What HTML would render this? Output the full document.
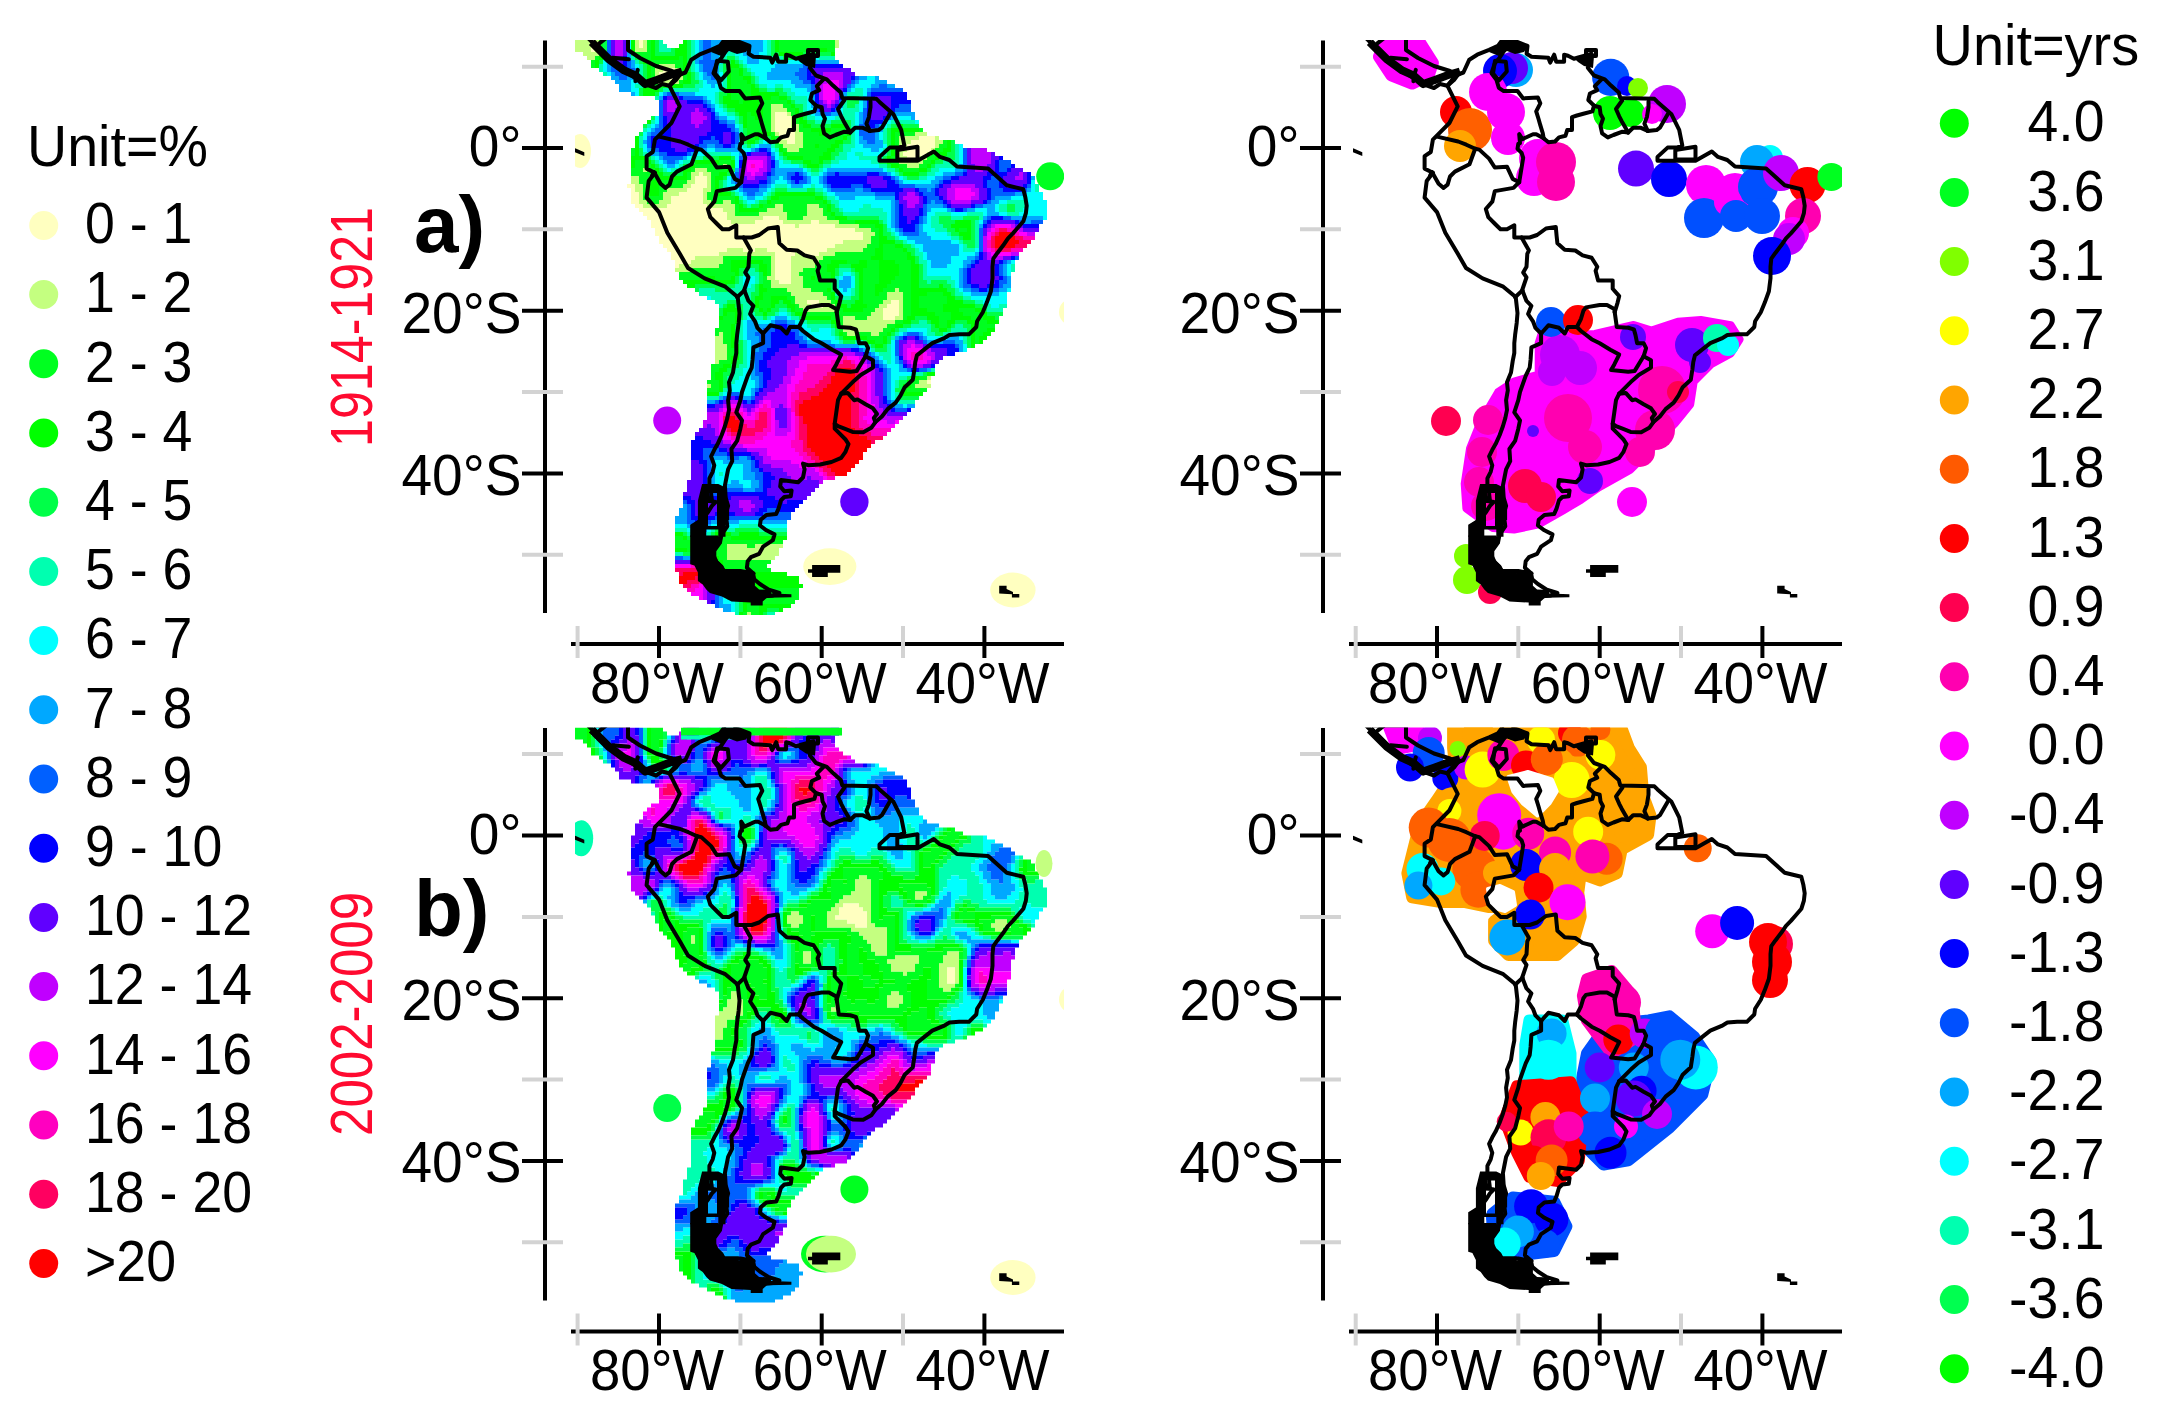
<!DOCTYPE html><html><head><meta charset="utf-8"><title>Figure</title><style>
html,body{margin:0;padding:0;background:#fff;}body{width:2160px;height:1419px;overflow:hidden;}
svg{display:block;} text{font-family:'Liberation Sans', Arial, sans-serif;}
</style></head><body>
<svg width="2160" height="1419" viewBox="0 0 2160 1419">
<rect width="2160" height="1419" fill="#fff"/>
<text transform="translate(27,166) scale(0.985,1)" font-size="56.5">Unit=%</text>
<circle cx="43.7" cy="225.4" r="14.5" fill="#FFFFC0"/>
<text transform="translate(85,243.2) scale(0.95,1)" font-size="56.5">0 - 1</text>
<circle cx="43.7" cy="294.6" r="14.5" fill="#C4FF80"/>
<text transform="translate(85,312.4) scale(0.95,1)" font-size="56.5">1 - 2</text>
<circle cx="43.7" cy="363.8" r="14.5" fill="#00FF20"/>
<text transform="translate(85,381.6) scale(0.95,1)" font-size="56.5">2 - 3</text>
<circle cx="43.7" cy="433.0" r="14.5" fill="#00FF00"/>
<text transform="translate(85,450.8) scale(0.95,1)" font-size="56.5">3 - 4</text>
<circle cx="43.7" cy="502.2" r="14.5" fill="#00FF48"/>
<text transform="translate(85,520.0) scale(0.95,1)" font-size="56.5">4 - 5</text>
<circle cx="43.7" cy="571.4" r="14.5" fill="#00FFB0"/>
<text transform="translate(85,589.2) scale(0.95,1)" font-size="56.5">5 - 6</text>
<circle cx="43.7" cy="640.6" r="14.5" fill="#00FFFF"/>
<text transform="translate(85,658.4) scale(0.95,1)" font-size="56.5">6 - 7</text>
<circle cx="43.7" cy="709.8" r="14.5" fill="#00A8FF"/>
<text transform="translate(85,727.6) scale(0.95,1)" font-size="56.5">7 - 8</text>
<circle cx="43.7" cy="779.0" r="14.5" fill="#0060FF"/>
<text transform="translate(85,796.8) scale(0.95,1)" font-size="56.5">8 - 9</text>
<circle cx="43.7" cy="848.2" r="14.5" fill="#0000FF"/>
<text transform="translate(85,866.0) scale(0.95,1)" font-size="56.5">9 - 10</text>
<circle cx="43.7" cy="917.4" r="14.5" fill="#6000FF"/>
<text transform="translate(85,935.2) scale(0.95,1)" font-size="56.5">10 - 12</text>
<circle cx="43.7" cy="986.6" r="14.5" fill="#C000FF"/>
<text transform="translate(85,1004.4) scale(0.95,1)" font-size="56.5">12 - 14</text>
<circle cx="43.7" cy="1055.8" r="14.5" fill="#FF00FF"/>
<text transform="translate(85,1073.6) scale(0.95,1)" font-size="56.5">14 - 16</text>
<circle cx="43.7" cy="1125.0" r="14.5" fill="#FF00C0"/>
<text transform="translate(85,1142.8) scale(0.95,1)" font-size="56.5">16 - 18</text>
<circle cx="43.7" cy="1194.2" r="14.5" fill="#FF0060"/>
<text transform="translate(85,1212.0) scale(0.95,1)" font-size="56.5">18 - 20</text>
<circle cx="43.7" cy="1263.4" r="14.5" fill="#FF0000"/>
<text transform="translate(85,1281.2) scale(0.95,1)" font-size="56.5">&gt;20</text>
<text transform="translate(1932.5,64.7) scale(0.99,1)" font-size="56.5">Unit=yrs</text>
<circle cx="1954.3" cy="123.2" r="14.5" fill="#00FF00"/>
<text transform="translate(2104.5,141.4) scale(0.98,1)" font-size="56.5" text-anchor="end">4.0</text>
<circle cx="1954.3" cy="192.4" r="14.5" fill="#00FF20"/>
<text transform="translate(2104.5,210.6) scale(0.98,1)" font-size="56.5" text-anchor="end">3.6</text>
<circle cx="1954.3" cy="261.6" r="14.5" fill="#80FF00"/>
<text transform="translate(2104.5,279.8) scale(0.98,1)" font-size="56.5" text-anchor="end">3.1</text>
<circle cx="1954.3" cy="330.8" r="14.5" fill="#FFFF00"/>
<text transform="translate(2104.5,349.0) scale(0.98,1)" font-size="56.5" text-anchor="end">2.7</text>
<circle cx="1954.3" cy="400.0" r="14.5" fill="#FFA500"/>
<text transform="translate(2104.5,418.2) scale(0.98,1)" font-size="56.5" text-anchor="end">2.2</text>
<circle cx="1954.3" cy="469.2" r="14.5" fill="#FF5A00"/>
<text transform="translate(2104.5,487.4) scale(0.98,1)" font-size="56.5" text-anchor="end">1.8</text>
<circle cx="1954.3" cy="538.4" r="14.5" fill="#FF0000"/>
<text transform="translate(2104.5,556.6) scale(0.98,1)" font-size="56.5" text-anchor="end">1.3</text>
<circle cx="1954.3" cy="607.6" r="14.5" fill="#FF0050"/>
<text transform="translate(2104.5,625.8) scale(0.98,1)" font-size="56.5" text-anchor="end">0.9</text>
<circle cx="1954.3" cy="676.8" r="14.5" fill="#FF00B0"/>
<text transform="translate(2104.5,695.0) scale(0.98,1)" font-size="56.5" text-anchor="end">0.4</text>
<circle cx="1954.3" cy="746.0" r="14.5" fill="#FF00FF"/>
<text transform="translate(2104.5,764.2) scale(0.98,1)" font-size="56.5" text-anchor="end">0.0</text>
<circle cx="1954.3" cy="815.2" r="14.5" fill="#C000FF"/>
<text transform="translate(2104.5,833.4) scale(0.98,1)" font-size="56.5" text-anchor="end">-0.4</text>
<circle cx="1954.3" cy="884.4" r="14.5" fill="#6000FF"/>
<text transform="translate(2104.5,902.6) scale(0.98,1)" font-size="56.5" text-anchor="end">-0.9</text>
<circle cx="1954.3" cy="953.6" r="14.5" fill="#0000FF"/>
<text transform="translate(2104.5,971.8) scale(0.98,1)" font-size="56.5" text-anchor="end">-1.3</text>
<circle cx="1954.3" cy="1022.8" r="14.5" fill="#0050FF"/>
<text transform="translate(2104.5,1041.0) scale(0.98,1)" font-size="56.5" text-anchor="end">-1.8</text>
<circle cx="1954.3" cy="1092.0" r="14.5" fill="#00A8FF"/>
<text transform="translate(2104.5,1110.2) scale(0.98,1)" font-size="56.5" text-anchor="end">-2.2</text>
<circle cx="1954.3" cy="1161.2" r="14.5" fill="#00FFFF"/>
<text transform="translate(2104.5,1179.4) scale(0.98,1)" font-size="56.5" text-anchor="end">-2.7</text>
<circle cx="1954.3" cy="1230.4" r="14.5" fill="#00FFB0"/>
<text transform="translate(2104.5,1248.6) scale(0.98,1)" font-size="56.5" text-anchor="end">-3.1</text>
<circle cx="1954.3" cy="1299.6" r="14.5" fill="#00FF50"/>
<text transform="translate(2104.5,1317.8) scale(0.98,1)" font-size="56.5" text-anchor="end">-3.6</text>
<circle cx="1954.3" cy="1368.8" r="14.5" fill="#00FF00"/>
<text transform="translate(2104.5,1387.0) scale(0.98,1)" font-size="56.5" text-anchor="end">-4.0</text>
<text transform="translate(372,327) rotate(-90)" font-size="58.5" fill="#FF0A30" text-anchor="middle" textLength="240" lengthAdjust="spacingAndGlyphs">1914-1921</text>
<text transform="translate(372,1014) rotate(-90)" font-size="58.5" fill="#FF0A30" text-anchor="middle" textLength="244" lengthAdjust="spacingAndGlyphs">2002-2009</text>
<text x="414" y="252" font-size="80" font-weight="bold">a)</text>
<text x="414" y="936" font-size="80" font-weight="bold">b)</text>
<g id="axa">
<line x1="545.0" y1="40.5" x2="545.0" y2="613.0" stroke="#000" stroke-width="4"/>
<line x1="522.0" y1="66.7" x2="563.0" y2="66.7" stroke="#d3d3d3" stroke-width="4"/>
<line x1="522.0" y1="229.3" x2="563.0" y2="229.3" stroke="#d3d3d3" stroke-width="4"/>
<line x1="522.0" y1="392.0" x2="563.0" y2="392.0" stroke="#d3d3d3" stroke-width="4"/>
<line x1="522.0" y1="554.8" x2="563.0" y2="554.8" stroke="#d3d3d3" stroke-width="4"/>
<line x1="522.0" y1="148.0" x2="563.0" y2="148.0" stroke="#000" stroke-width="4"/>
<text transform="translate(521.5,166.0) scale(0.975,1)" font-size="56.5" text-anchor="end">0°</text>
<line x1="522.0" y1="310.7" x2="563.0" y2="310.7" stroke="#000" stroke-width="4"/>
<text transform="translate(521.5,332.7) scale(0.975,1)" font-size="56.5" text-anchor="end">20°S</text>
<line x1="522.0" y1="473.4" x2="563.0" y2="473.4" stroke="#000" stroke-width="4"/>
<text transform="translate(521.5,494.9) scale(0.975,1)" font-size="56.5" text-anchor="end">40°S</text>
<line x1="571.0" y1="644.0" x2="1064.0" y2="644.0" stroke="#000" stroke-width="4"/>
<line x1="577.6" y1="626.0" x2="577.6" y2="658.0" stroke="#d3d3d3" stroke-width="4"/>
<line x1="740.4" y1="626.0" x2="740.4" y2="658.0" stroke="#d3d3d3" stroke-width="4"/>
<line x1="903.0" y1="626.0" x2="903.0" y2="658.0" stroke="#d3d3d3" stroke-width="4"/>
<line x1="659.0" y1="626.0" x2="659.0" y2="658.0" stroke="#000" stroke-width="4"/>
<text transform="translate(657.0,702.6) scale(0.965,1)" font-size="56.5" text-anchor="middle">80°W</text>
<line x1="821.7" y1="626.0" x2="821.7" y2="658.0" stroke="#000" stroke-width="4"/>
<text transform="translate(819.7,702.6) scale(0.965,1)" font-size="56.5" text-anchor="middle">60°W</text>
<line x1="984.4" y1="626.0" x2="984.4" y2="658.0" stroke="#000" stroke-width="4"/>
<text transform="translate(982.4,702.6) scale(0.965,1)" font-size="56.5" text-anchor="middle">40°W</text>
</g>
<clipPath id="clipa"><rect x="575.0" y="40.0" width="489.0" height="575.0"/></clipPath>
<g clip-path="url(#clipa)">
<path fill="#C4FF80" d="M575 40h16v4h-16zM595 40h4v4h-4zM635 40h4v4h-4zM643 40h4v4h-4zM835 40h4v4h-4zM575 44h16v4h-16zM635 44h4v4h-4zM643 44h4v4h-4zM835 44h4v4h-4zM575 48h16v4h-16zM595 48h4v4h-4zM635 48h12v4h-12zM583 52h16v4h-16zM587 56h8v4h-8zM659 64h16v4h-16zM655 68h8v4h-8zM675 68h4v4h-4zM655 72h4v4h-4zM675 72h8v4h-8zM655 76h4v4h-4zM675 76h8v4h-8zM655 80h24v4h-24zM771 104h12v4h-12zM771 108h16v4h-16zM771 112h4v4h-4zM787 112h4v4h-4zM771 116h4v4h-4zM791 116h4v4h-4zM771 120h4v4h-4zM791 120h4v4h-4zM771 124h4v4h-4zM791 124h8v4h-8zM771 128h4v4h-4zM791 128h8v4h-8zM775 132h4v4h-4zM795 132h8v4h-8zM915 132h12v4h-12zM779 136h4v4h-4zM795 136h8v4h-8zM899 136h20v4h-20zM935 136h4v4h-4zM779 140h8v4h-8zM795 140h8v4h-8zM899 140h12v4h-12zM935 140h8v4h-8zM783 144h20v4h-20zM899 144h8v4h-8zM935 144h4v4h-4zM787 148h12v4h-12zM899 148h8v4h-8zM931 148h4v4h-4zM899 152h4v4h-4zM927 152h4v4h-4zM899 156h8v4h-8zM919 156h8v4h-8zM899 160h24v4h-24zM723 164h4v4h-4zM907 164h12v4h-12zM643 168h4v4h-4zM695 168h12v4h-12zM691 172h8v4h-8zM703 172h8v4h-8zM631 176h8v4h-8zM691 176h4v4h-4zM707 176h4v4h-4zM631 180h8v4h-8zM687 180h8v4h-8zM707 180h4v4h-4zM635 184h8v4h-8zM683 184h8v4h-8zM707 184h4v4h-4zM635 188h8v4h-8zM667 188h20v4h-20zM703 188h8v4h-8zM639 192h4v4h-4zM663 192h16v4h-16zM703 192h4v4h-4zM639 196h4v4h-4zM663 196h8v4h-8zM703 196h4v4h-4zM639 200h8v4h-8zM659 200h12v4h-12zM703 200h8v4h-8zM723 200h8v4h-8zM643 204h24v4h-24zM707 204h28v4h-28zM775 204h8v4h-8zM807 204h12v4h-12zM723 208h12v4h-12zM767 208h16v4h-16zM807 208h16v4h-16zM727 212h8v4h-8zM759 212h28v4h-28zM807 212h16v4h-16zM727 216h36v4h-36zM779 216h8v4h-8zM803 216h24v4h-24zM731 220h24v4h-24zM783 220h28v4h-28zM819 220h20v4h-20zM795 224h4v4h-4zM835 224h24v4h-24zM855 228h16v4h-16zM863 232h12v4h-12zM863 236h8v4h-8zM843 240h28v4h-28zM835 244h32v4h-32zM727 248h16v4h-16zM755 248h12v4h-12zM827 248h36v4h-36zM719 252h56v4h-56zM795 252h8v4h-8zM819 252h16v4h-16zM695 256h28v4h-28zM771 256h4v4h-4zM791 256h32v4h-32zM691 260h32v4h-32zM771 260h4v4h-4zM791 260h28v4h-28zM679 264h40v4h-40zM771 264h4v4h-4zM791 264h24v4h-24zM675 268h16v4h-16zM771 268h4v4h-4zM791 268h12v4h-12zM771 272h4v4h-4zM791 272h8v4h-8zM767 276h8v4h-8zM791 276h12v4h-12zM771 280h8v4h-8zM791 280h12v4h-12zM771 284h32v4h-32zM787 288h24v4h-24zM895 288h4v4h-4zM791 292h32v4h-32zM887 292h16v4h-16zM795 296h32v4h-32zM887 296h16v4h-16zM795 300h12v4h-12zM819 300h12v4h-12zM883 300h8v4h-8zM899 300h4v4h-4zM799 304h12v4h-12zM823 304h12v4h-12zM879 304h8v4h-8zM899 304h4v4h-4zM803 308h32v4h-32zM875 308h8v4h-8zM899 308h4v4h-4zM871 312h12v4h-12zM899 312h4v4h-4zM843 316h12v4h-12zM867 316h16v4h-16zM895 316h8v4h-8zM843 320h52v4h-52zM843 324h44v4h-44zM843 328h40v4h-40zM719 332h4v4h-4zM847 332h8v4h-8zM871 332h8v4h-8zM715 336h8v4h-8zM715 340h8v4h-8zM715 344h12v4h-12zM715 348h12v4h-12zM715 352h12v4h-12zM715 356h12v4h-12zM715 360h4v4h-4zM927 376h4v4h-4zM919 380h8v4h-8zM707 384h4v4h-4zM915 384h16v4h-16zM727 544h20v4h-20zM755 544h28v4h-28zM695 548h12v4h-12zM727 548h52v4h-52zM727 552h52v4h-52zM727 556h48v4h-48zM747 612h4v4h-4z"/>
<path fill="#FFFFC0" d="M591 40h4v4h-4zM639 40h4v4h-4zM591 44h8v4h-8zM639 44h4v4h-4zM591 48h4v4h-4zM663 68h12v4h-12zM659 72h16v4h-16zM659 76h16v4h-16zM775 112h12v4h-12zM775 116h16v4h-16zM775 120h16v4h-16zM775 124h16v4h-16zM775 128h16v4h-16zM779 132h16v4h-16zM783 136h12v4h-12zM919 136h16v4h-16zM787 140h8v4h-8zM911 140h24v4h-24zM907 144h28v4h-28zM907 148h24v4h-24zM903 152h24v4h-24zM907 156h12v4h-12zM699 172h4v4h-4zM695 176h12v4h-12zM695 180h12v4h-12zM627 184h8v4h-8zM691 184h16v4h-16zM631 188h4v4h-4zM687 188h16v4h-16zM631 192h8v4h-8zM679 192h24v4h-24zM631 196h8v4h-8zM671 196h32v4h-32zM631 200h8v4h-8zM671 200h32v4h-32zM635 204h8v4h-8zM667 204h40v4h-40zM639 208h84v4h-84zM643 212h84v4h-84zM647 216h80v4h-80zM763 216h16v4h-16zM651 220h80v4h-80zM755 220h28v4h-28zM811 220h8v4h-8zM651 224h144v4h-144zM799 224h36v4h-36zM655 228h200v4h-200zM655 232h208v4h-208zM659 236h204v4h-204zM659 240h184v4h-184zM663 244h172v4h-172zM667 248h60v4h-60zM743 248h12v4h-12zM767 248h60v4h-60zM671 252h48v4h-48zM775 252h20v4h-20zM803 252h16v4h-16zM671 256h24v4h-24zM775 256h16v4h-16zM675 260h16v4h-16zM775 260h16v4h-16zM675 264h4v4h-4zM775 264h16v4h-16zM775 268h16v4h-16zM775 272h16v4h-16zM775 276h16v4h-16zM779 280h12v4h-12zM807 300h12v4h-12zM891 300h8v4h-8zM811 304h12v4h-12zM887 304h12v4h-12zM883 308h16v4h-16zM883 312h16v4h-16zM883 316h12v4h-12zM927 380h4v4h-4z"/>
<path fill="#00FF20" d="M599 40h4v4h-4zM647 40h4v4h-4zM779 40h56v4h-56zM599 44h4v4h-4zM647 44h4v4h-4zM779 44h56v4h-56zM599 48h4v4h-4zM647 48h4v4h-4zM779 48h40v4h-40zM827 48h8v4h-8zM635 52h16v4h-16zM595 56h4v4h-4zM643 56h8v4h-8zM679 56h4v4h-4zM591 60h4v4h-4zM651 60h32v4h-32zM591 64h4v4h-4zM651 64h8v4h-8zM675 64h8v4h-8zM651 68h4v4h-4zM679 68h4v4h-4zM731 68h8v4h-8zM651 72h4v4h-4zM683 72h4v4h-4zM731 72h8v4h-8zM651 76h4v4h-4zM683 76h4v4h-4zM731 76h12v4h-12zM651 80h4v4h-4zM679 80h4v4h-4zM731 80h16v4h-16zM651 84h16v4h-16zM731 84h20v4h-20zM731 88h20v4h-20zM731 92h20v4h-20zM731 96h20v4h-20zM771 96h8v4h-8zM739 100h4v4h-4zM759 100h28v4h-28zM759 104h12v4h-12zM783 104h8v4h-8zM763 108h8v4h-8zM787 108h8v4h-8zM747 112h4v4h-4zM763 112h8v4h-8zM791 112h4v4h-4zM747 116h8v4h-8zM763 116h8v4h-8zM795 116h4v4h-4zM747 120h24v4h-24zM795 120h4v4h-4zM747 124h24v4h-24zM799 124h4v4h-4zM747 128h24v4h-24zM799 128h12v4h-12zM831 128h16v4h-16zM919 128h4v4h-4zM747 132h12v4h-12zM771 132h4v4h-4zM803 132h16v4h-16zM823 132h24v4h-24zM895 132h20v4h-20zM747 136h8v4h-8zM775 136h4v4h-4zM803 136h40v4h-40zM895 136h4v4h-4zM803 140h32v4h-32zM895 140h4v4h-4zM943 140h4v4h-4zM779 144h4v4h-4zM803 144h12v4h-12zM819 144h12v4h-12zM895 144h4v4h-4zM939 144h8v4h-8zM631 148h4v4h-4zM783 148h4v4h-4zM799 148h28v4h-28zM895 148h4v4h-4zM935 148h8v4h-8zM631 152h4v4h-4zM787 152h36v4h-36zM895 152h4v4h-4zM931 152h8v4h-8zM803 156h16v4h-16zM891 156h8v4h-8zM927 156h8v4h-8zM635 160h12v4h-12zM719 160h12v4h-12zM811 160h8v4h-8zM891 160h8v4h-8zM923 160h8v4h-8zM635 164h16v4h-16zM695 164h28v4h-28zM727 164h4v4h-4zM899 164h8v4h-8zM919 164h8v4h-8zM631 168h12v4h-12zM647 168h8v4h-8zM691 168h4v4h-4zM707 168h20v4h-20zM903 168h16v4h-16zM631 172h24v4h-24zM687 172h4v4h-4zM711 172h8v4h-8zM639 176h16v4h-16zM687 176h4v4h-4zM711 176h4v4h-4zM639 180h12v4h-12zM659 180h28v4h-28zM711 180h4v4h-4zM643 184h4v4h-4zM659 184h24v4h-24zM711 184h4v4h-4zM643 188h4v4h-4zM659 188h8v4h-8zM711 188h4v4h-4zM643 192h4v4h-4zM659 192h4v4h-4zM707 192h8v4h-8zM643 196h20v4h-20zM707 196h28v4h-28zM779 196h36v4h-36zM647 200h12v4h-12zM711 200h12v4h-12zM731 200h4v4h-4zM771 200h52v4h-52zM735 204h4v4h-4zM763 204h12v4h-12zM783 204h24v4h-24zM819 204h8v4h-8zM735 208h4v4h-4zM759 208h8v4h-8zM783 208h24v4h-24zM823 208h4v4h-4zM735 212h24v4h-24zM787 212h20v4h-20zM823 212h8v4h-8zM787 216h16v4h-16zM827 216h8v4h-8zM839 220h16v4h-16zM859 224h16v4h-16zM871 228h8v4h-8zM959 228h8v4h-8zM875 232h4v4h-4zM871 236h8v4h-8zM871 240h8v4h-8zM867 244h12v4h-12zM883 244h12v4h-12zM863 248h12v4h-12zM883 248h20v4h-20zM835 252h40v4h-40zM883 252h24v4h-24zM723 256h48v4h-48zM823 256h48v4h-48zM883 256h24v4h-24zM723 260h8v4h-8zM763 260h8v4h-8zM819 260h12v4h-12zM847 260h12v4h-12zM867 260h12v4h-12zM895 260h16v4h-16zM719 264h12v4h-12zM767 264h4v4h-4zM815 264h12v4h-12zM867 264h12v4h-12zM899 264h12v4h-12zM691 268h40v4h-40zM767 268h4v4h-4zM803 268h24v4h-24zM863 268h16v4h-16zM899 268h12v4h-12zM679 272h56v4h-56zM767 272h4v4h-4zM799 272h32v4h-32zM863 272h16v4h-16zM899 272h12v4h-12zM679 276h24v4h-24zM715 276h16v4h-16zM763 276h4v4h-4zM803 276h8v4h-8zM815 276h16v4h-16zM863 276h16v4h-16zM895 276h16v4h-16zM763 280h8v4h-8zM803 280h28v4h-28zM863 280h16v4h-16zM891 280h20v4h-20zM763 284h8v4h-8zM803 284h28v4h-28zM863 284h12v4h-12zM887 284h24v4h-24zM767 288h20v4h-20zM811 288h16v4h-16zM863 288h12v4h-12zM883 288h12v4h-12zM899 288h12v4h-12zM763 292h28v4h-28zM823 292h8v4h-8zM863 292h12v4h-12zM879 292h8v4h-8zM903 292h8v4h-8zM927 292h16v4h-16zM763 296h8v4h-8zM787 296h8v4h-8zM827 296h4v4h-4zM863 296h24v4h-24zM903 296h8v4h-8zM919 296h28v4h-28zM759 300h12v4h-12zM791 300h4v4h-4zM831 300h4v4h-4zM863 300h20v4h-20zM903 300h8v4h-8zM919 300h28v4h-28zM759 304h12v4h-12zM795 304h4v4h-4zM835 304h4v4h-4zM867 304h12v4h-12zM903 304h8v4h-8zM919 304h24v4h-24zM763 308h4v4h-4zM795 308h8v4h-8zM835 308h8v4h-8zM863 308h12v4h-12zM903 308h8v4h-8zM927 308h16v4h-16zM959 308h16v4h-16zM727 312h8v4h-8zM803 312h68v4h-68zM903 312h8v4h-8zM935 312h16v4h-16zM963 312h16v4h-16zM723 316h12v4h-12zM831 316h12v4h-12zM855 316h12v4h-12zM903 316h4v4h-4zM939 316h12v4h-12zM971 316h12v4h-12zM719 320h16v4h-16zM839 320h4v4h-4zM895 320h8v4h-8zM939 320h8v4h-8zM975 320h12v4h-12zM719 324h12v4h-12zM839 324h4v4h-4zM887 324h8v4h-8zM939 324h8v4h-8zM975 324h20v4h-20zM715 328h16v4h-16zM839 328h4v4h-4zM883 328h8v4h-8zM975 328h12v4h-12zM715 332h4v4h-4zM723 332h8v4h-8zM843 332h4v4h-4zM855 332h16v4h-16zM879 332h8v4h-8zM975 332h8v4h-8zM723 336h8v4h-8zM867 336h16v4h-16zM975 336h4v4h-4zM723 340h8v4h-8zM875 340h8v4h-8zM975 340h4v4h-4zM727 344h4v4h-4zM727 348h8v4h-8zM727 352h8v4h-8zM727 356h4v4h-4zM719 360h12v4h-12zM711 364h12v4h-12zM711 368h8v4h-8zM711 372h4v4h-4zM711 376h4v4h-4zM919 376h8v4h-8zM707 380h12v4h-12zM911 380h8v4h-8zM711 384h8v4h-8zM911 384h4v4h-4zM707 388h12v4h-12zM907 388h20v4h-20zM675 536h8v4h-8zM715 536h16v4h-16zM675 540h16v4h-16zM711 540h72v4h-72zM675 544h52v4h-52zM747 544h8v4h-8zM687 548h8v4h-8zM707 548h20v4h-20zM695 552h32v4h-32zM719 556h8v4h-8zM723 560h48v4h-48zM723 564h44v4h-44zM727 568h44v4h-44zM731 572h12v4h-12zM731 576h16v4h-16zM731 580h16v4h-16zM731 584h16v4h-16zM735 588h12v4h-12zM759 588h40v4h-40zM751 592h48v4h-48zM751 596h48v4h-48zM751 600h44v4h-44zM747 604h12v4h-12zM747 608h12v4h-12zM743 612h4v4h-4zM751 612h8v4h-8z"/>
<path fill="#00FF48" d="M603 40h4v4h-4zM655 40h4v4h-4zM687 40h4v4h-4zM771 40h4v4h-4zM603 44h4v4h-4zM655 44h4v4h-4zM687 44h4v4h-4zM771 44h4v4h-4zM603 48h4v4h-4zM655 48h4v4h-4zM671 48h4v4h-4zM687 48h4v4h-4zM771 48h4v4h-4zM631 52h4v4h-4zM655 52h20v4h-20zM687 52h4v4h-4zM771 52h8v4h-8zM803 52h28v4h-28zM635 56h4v4h-4zM687 56h4v4h-4zM727 56h8v4h-8zM783 56h12v4h-12zM599 60h4v4h-4zM639 60h4v4h-4zM687 60h4v4h-4zM723 60h8v4h-8zM735 60h4v4h-4zM643 64h4v4h-4zM687 64h4v4h-4zM723 64h4v4h-4zM739 64h4v4h-4zM643 68h4v4h-4zM687 68h4v4h-4zM723 68h4v4h-4zM743 68h4v4h-4zM643 72h4v4h-4zM691 72h4v4h-4zM723 72h4v4h-4zM743 72h8v4h-8zM643 76h4v4h-4zM691 76h4v4h-4zM751 76h4v4h-4zM643 80h4v4h-4zM691 80h8v4h-8zM751 80h4v4h-4zM643 84h4v4h-4zM683 84h12v4h-12zM755 84h4v4h-4zM639 88h4v4h-4zM659 88h4v4h-4zM723 88h4v4h-4zM759 88h8v4h-8zM775 88h8v4h-8zM639 92h4v4h-4zM655 92h4v4h-4zM719 92h8v4h-8zM779 92h8v4h-8zM719 96h4v4h-4zM787 96h4v4h-4zM847 96h12v4h-12zM719 100h4v4h-4zM791 100h4v4h-4zM847 100h12v4h-12zM723 104h4v4h-4zM795 104h8v4h-8zM847 104h8v4h-8zM727 108h8v4h-8zM799 108h4v4h-4zM735 112h4v4h-4zM799 112h8v4h-8zM651 116h4v4h-4zM739 116h4v4h-4zM803 116h4v4h-4zM739 120h4v4h-4zM807 120h8v4h-8zM831 120h20v4h-20zM643 124h4v4h-4zM811 124h20v4h-20zM847 124h4v4h-4zM891 124h8v4h-8zM903 124h16v4h-16zM743 128h4v4h-4zM887 128h4v4h-4zM639 132h4v4h-4zM743 132h4v4h-4zM887 132h4v4h-4zM743 136h4v4h-4zM759 136h12v4h-12zM847 136h4v4h-4zM887 136h4v4h-4zM743 140h4v4h-4zM755 140h4v4h-4zM771 140h4v4h-4zM843 140h8v4h-8zM887 140h4v4h-4zM951 140h4v4h-4zM747 144h4v4h-4zM775 144h4v4h-4zM839 144h4v4h-4zM887 144h4v4h-4zM951 144h4v4h-4zM639 148h4v4h-4zM835 148h8v4h-8zM887 148h4v4h-4zM951 148h4v4h-4zM639 152h4v4h-4zM779 152h4v4h-4zM831 152h8v4h-8zM887 152h4v4h-4zM947 152h8v4h-8zM647 156h4v4h-4zM703 156h16v4h-16zM731 156h4v4h-4zM783 156h4v4h-4zM831 156h4v4h-4zM883 156h4v4h-4zM939 156h16v4h-16zM651 160h4v4h-4zM691 160h4v4h-4zM791 160h12v4h-12zM823 160h8v4h-8zM879 160h8v4h-8zM935 160h8v4h-8zM655 164h4v4h-4zM683 164h4v4h-4zM803 164h4v4h-4zM819 164h4v4h-4zM887 164h4v4h-4zM931 164h4v4h-4zM659 168h4v4h-4zM679 168h4v4h-4zM731 168h4v4h-4zM811 168h8v4h-8zM895 168h4v4h-4zM927 168h4v4h-4zM663 172h20v4h-20zM727 172h4v4h-4zM899 172h4v4h-4zM919 172h8v4h-8zM723 176h4v4h-4zM907 176h12v4h-12zM719 180h4v4h-4zM719 184h4v4h-4zM719 188h12v4h-12zM775 188h12v4h-12zM807 188h8v4h-8zM731 192h4v4h-4zM771 192h4v4h-4zM815 192h8v4h-8zM767 196h4v4h-4zM823 196h4v4h-4zM739 200h4v4h-4zM759 200h8v4h-8zM827 200h4v4h-4zM743 204h4v4h-4zM751 204h8v4h-8zM831 204h4v4h-4zM1007 204h8v4h-8zM831 208h8v4h-8zM1007 208h8v4h-8zM835 212h8v4h-8zM847 216h32v4h-32zM939 216h12v4h-12zM963 216h16v4h-16zM879 220h4v4h-4zM939 220h16v4h-16zM971 220h4v4h-4zM883 224h4v4h-4zM943 224h8v4h-8zM971 224h4v4h-4zM883 228h4v4h-4zM947 228h8v4h-8zM971 228h4v4h-4zM883 232h8v4h-8zM951 232h8v4h-8zM971 232h4v4h-4zM887 236h8v4h-8zM959 236h4v4h-4zM971 236h4v4h-4zM895 240h8v4h-8zM963 240h12v4h-12zM903 244h8v4h-8zM967 244h8v4h-8zM907 248h8v4h-8zM911 252h4v4h-4zM915 256h4v4h-4zM915 260h4v4h-4zM747 264h12v4h-12zM839 264h12v4h-12zM919 264h4v4h-4zM739 268h8v4h-8zM755 268h4v4h-4zM835 268h4v4h-4zM851 268h4v4h-4zM919 268h4v4h-4zM739 272h4v4h-4zM759 272h4v4h-4zM835 272h4v4h-4zM855 272h4v4h-4zM919 272h4v4h-4zM735 276h4v4h-4zM759 276h4v4h-4zM855 276h4v4h-4zM919 276h4v4h-4zM735 280h4v4h-4zM759 280h4v4h-4zM831 280h4v4h-4zM855 280h4v4h-4zM919 280h8v4h-8zM931 280h16v4h-16zM695 284h28v4h-28zM727 284h8v4h-8zM755 284h4v4h-4zM831 284h4v4h-4zM855 284h4v4h-4zM919 284h20v4h-20zM943 284h8v4h-8zM695 288h4v4h-4zM715 288h16v4h-16zM755 288h4v4h-4zM831 288h4v4h-4zM855 288h4v4h-4zM947 288h8v4h-8zM751 292h8v4h-8zM855 292h4v4h-4zM951 292h4v4h-4zM751 296h4v4h-4zM835 296h4v4h-4zM851 296h8v4h-8zM955 296h8v4h-8zM727 300h12v4h-12zM751 300h4v4h-4zM779 300h4v4h-4zM839 300h16v4h-16zM963 300h12v4h-12zM723 304h4v4h-4zM735 304h8v4h-8zM751 304h4v4h-4zM775 304h12v4h-12zM847 304h4v4h-4zM975 304h8v4h-8zM719 308h4v4h-4zM739 308h4v4h-4zM751 308h8v4h-8zM771 308h8v4h-8zM787 308h4v4h-4zM983 308h4v4h-4zM719 312h4v4h-4zM739 312h4v4h-4zM755 312h8v4h-8zM767 312h8v4h-8zM791 312h4v4h-4zM987 312h16v4h-16zM739 316h4v4h-4zM763 316h4v4h-4zM799 316h4v4h-4zM915 316h12v4h-12zM995 316h4v4h-4zM807 320h24v4h-24zM911 320h8v4h-8zM927 320h4v4h-4zM955 320h12v4h-12zM735 324h4v4h-4zM831 324h4v4h-4zM903 324h8v4h-8zM931 324h4v4h-4zM951 324h4v4h-4zM963 324h8v4h-8zM735 328h4v4h-4zM835 328h4v4h-4zM895 328h4v4h-4zM931 328h8v4h-8zM947 328h4v4h-4zM967 328h4v4h-4zM735 332h4v4h-4zM835 332h4v4h-4zM891 332h4v4h-4zM935 332h8v4h-8zM967 332h4v4h-4zM735 336h4v4h-4zM839 336h4v4h-4zM887 336h4v4h-4zM967 336h4v4h-4zM735 340h8v4h-8zM843 340h12v4h-12zM863 340h4v4h-4zM887 340h4v4h-4zM967 340h4v4h-4zM739 344h4v4h-4zM871 344h4v4h-4zM883 344h4v4h-4zM967 344h4v4h-4zM739 348h4v4h-4zM875 348h12v4h-12zM739 352h4v4h-4zM739 356h4v4h-4zM735 360h8v4h-8zM731 364h8v4h-8zM727 368h8v4h-8zM723 372h8v4h-8zM923 372h4v4h-4zM723 376h4v4h-4zM907 376h8v4h-8zM723 380h4v4h-4zM899 380h8v4h-8zM723 384h4v4h-4zM899 384h4v4h-4zM895 388h8v4h-8zM899 392h4v4h-4zM899 396h20v4h-20zM715 528h12v4h-12zM735 528h24v4h-24zM683 532h4v4h-4zM711 532h4v4h-4zM731 532h8v4h-8zM759 532h28v4h-28zM687 536h8v4h-8zM707 536h4v4h-4zM683 552h8v4h-8zM703 556h8v4h-8zM715 560h4v4h-4zM715 564h4v4h-4zM719 568h4v4h-4zM719 572h4v4h-4zM723 576h4v4h-4zM723 580h4v4h-4zM727 588h4v4h-4zM731 592h4v4h-4zM735 596h4v4h-4zM739 600h4v4h-4zM739 604h4v4h-4zM739 608h4v4h-4zM767 608h12v4h-12zM763 612h4v4h-4z"/>
<path fill="#0060FF" d="M607 40h4v4h-4zM703 40h8v4h-8zM607 44h4v4h-4zM703 44h8v4h-8zM607 48h4v4h-4zM703 48h8v4h-8zM607 52h4v4h-4zM703 52h8v4h-8zM607 56h4v4h-4zM703 56h8v4h-8zM627 60h4v4h-4zM699 60h16v4h-16zM611 64h4v4h-4zM627 64h4v4h-4zM703 64h12v4h-12zM803 64h8v4h-8zM611 68h8v4h-8zM627 68h8v4h-8zM703 68h12v4h-12zM799 68h8v4h-8zM615 72h16v4h-16zM707 72h8v4h-8zM795 72h12v4h-12zM619 76h8v4h-8zM711 76h4v4h-4zM799 76h8v4h-8zM855 76h4v4h-4zM803 80h8v4h-8zM851 80h4v4h-4zM811 84h4v4h-4zM847 84h4v4h-4zM879 84h8v4h-8zM811 88h4v4h-4zM871 88h32v4h-32zM667 92h12v4h-12zM867 92h4v4h-4zM683 96h20v4h-20zM867 96h4v4h-4zM659 100h4v4h-4zM703 100h4v4h-4zM839 100h4v4h-4zM659 104h4v4h-4zM707 104h4v4h-4zM815 104h4v4h-4zM899 104h12v4h-12zM659 108h4v4h-4zM711 108h4v4h-4zM815 108h4v4h-4zM835 108h4v4h-4zM863 108h4v4h-4zM895 108h16v4h-16zM659 112h4v4h-4zM823 112h8v4h-8zM863 112h4v4h-4zM891 112h4v4h-4zM659 116h4v4h-4zM715 116h4v4h-4zM863 116h4v4h-4zM887 116h4v4h-4zM659 120h4v4h-4zM719 120h8v4h-8zM863 120h4v4h-4zM883 120h4v4h-4zM659 124h4v4h-4zM727 124h8v4h-8zM859 124h8v4h-8zM875 124h4v4h-4zM655 128h8v4h-8zM731 128h4v4h-4zM859 128h8v4h-8zM871 128h8v4h-8zM651 132h8v4h-8zM735 132h4v4h-4zM859 132h16v4h-16zM647 136h4v4h-4zM711 136h4v4h-4zM735 136h4v4h-4zM863 136h12v4h-12zM647 140h4v4h-4zM703 140h16v4h-16zM735 140h4v4h-4zM867 140h8v4h-8zM647 144h4v4h-4zM699 144h8v4h-8zM715 144h8v4h-8zM731 144h4v4h-4zM651 148h8v4h-8zM695 148h4v4h-4zM755 148h4v4h-4zM767 148h4v4h-4zM963 148h4v4h-4zM659 152h8v4h-8zM687 152h4v4h-4zM743 152h4v4h-4zM963 152h4v4h-4zM663 156h20v4h-20zM739 156h4v4h-4zM771 156h4v4h-4zM963 156h4v4h-4zM667 160h8v4h-8zM963 160h4v4h-4zM999 160h12v4h-12zM963 164h4v4h-4zM999 164h12v4h-12zM771 168h4v4h-4zM963 168h4v4h-4zM999 168h8v4h-8zM735 172h4v4h-4zM771 172h4v4h-4zM787 172h8v4h-8zM799 172h4v4h-4zM827 172h8v4h-8zM839 172h28v4h-28zM879 172h8v4h-8zM955 172h8v4h-8zM735 176h4v4h-4zM767 176h4v4h-4zM787 176h4v4h-4zM803 176h4v4h-4zM823 176h4v4h-4zM891 176h4v4h-4zM943 176h8v4h-8zM991 176h8v4h-8zM735 180h4v4h-4zM767 180h4v4h-4zM791 180h4v4h-4zM799 180h8v4h-8zM823 180h4v4h-4zM895 180h4v4h-4zM939 180h4v4h-4zM987 180h12v4h-12zM739 184h4v4h-4zM759 184h8v4h-8zM827 184h4v4h-4zM851 184h12v4h-12zM899 184h16v4h-16zM935 184h4v4h-4zM987 184h12v4h-12zM1027 184h4v4h-4zM743 188h16v4h-16zM831 188h24v4h-24zM863 188h8v4h-8zM919 188h8v4h-8zM931 188h4v4h-4zM991 188h12v4h-12zM1023 188h4v4h-4zM747 192h8v4h-8zM875 192h20v4h-20zM923 192h12v4h-12zM991 192h24v4h-24zM927 196h12v4h-12zM991 196h4v4h-4zM895 200h4v4h-4zM927 200h4v4h-4zM935 200h8v4h-8zM987 200h4v4h-4zM895 204h4v4h-4zM923 204h4v4h-4zM943 204h4v4h-4zM975 204h8v4h-8zM895 208h4v4h-4zM923 208h4v4h-4zM951 208h4v4h-4zM963 208h4v4h-4zM895 212h4v4h-4zM923 212h4v4h-4zM895 216h4v4h-4zM919 216h4v4h-4zM987 216h4v4h-4zM1003 216h8v4h-8zM895 220h4v4h-4zM919 220h4v4h-4zM983 220h4v4h-4zM1019 220h4v4h-4zM1031 220h12v4h-12zM895 224h4v4h-4zM915 224h4v4h-4zM899 228h4v4h-4zM915 228h4v4h-4zM979 228h4v4h-4zM903 232h16v4h-16zM979 232h4v4h-4zM979 236h4v4h-4zM979 240h4v4h-4zM979 244h4v4h-4zM979 248h4v4h-4zM975 256h4v4h-4zM1015 256h4v4h-4zM971 260h4v4h-4zM1003 260h4v4h-4zM967 264h4v4h-4zM999 264h4v4h-4zM963 268h4v4h-4zM999 268h4v4h-4zM963 272h4v4h-4zM999 272h4v4h-4zM963 276h4v4h-4zM1003 276h4v4h-4zM963 280h4v4h-4zM999 280h8v4h-8zM963 284h8v4h-8zM999 284h4v4h-4zM971 288h8v4h-8zM987 288h12v4h-12zM775 320h12v4h-12zM771 324h4v4h-4zM787 324h8v4h-8zM763 328h12v4h-12zM791 328h8v4h-8zM755 332h16v4h-16zM795 332h4v4h-4zM907 332h12v4h-12zM759 336h12v4h-12zM795 336h8v4h-8zM899 336h4v4h-4zM919 336h4v4h-4zM759 340h12v4h-12zM799 340h8v4h-8zM895 340h4v4h-4zM923 340h4v4h-4zM943 340h12v4h-12zM759 344h12v4h-12zM807 344h28v4h-28zM895 344h4v4h-4zM955 344h4v4h-4zM759 348h8v4h-8zM859 348h4v4h-4zM895 348h4v4h-4zM755 352h8v4h-8zM867 352h4v4h-4zM895 352h4v4h-4zM755 356h8v4h-8zM871 356h4v4h-4zM755 360h4v4h-4zM875 360h4v4h-4zM899 360h4v4h-4zM755 364h4v4h-4zM879 364h4v4h-4zM755 368h4v4h-4zM883 368h4v4h-4zM907 368h4v4h-4zM919 368h8v4h-8zM755 372h8v4h-8zM883 372h4v4h-4zM759 376h4v4h-4zM883 376h4v4h-4zM759 380h4v4h-4zM883 380h4v4h-4zM759 384h4v4h-4zM883 384h4v4h-4zM755 388h4v4h-4zM883 388h4v4h-4zM731 392h8v4h-8zM883 392h4v4h-4zM723 396h4v4h-4zM739 396h4v4h-4zM751 396h4v4h-4zM715 400h4v4h-4zM747 400h4v4h-4zM887 400h4v4h-4zM891 404h4v4h-4zM895 408h12v4h-12zM703 448h16v4h-16zM703 452h24v4h-24zM703 456h8v4h-8zM727 456h12v4h-12zM747 456h4v4h-4zM707 460h4v4h-4zM751 460h4v4h-4zM707 464h4v4h-4zM751 464h4v4h-4zM707 468h4v4h-4zM751 468h8v4h-8zM707 472h4v4h-4zM755 472h8v4h-8zM707 476h4v4h-4zM755 476h8v4h-8zM707 480h4v4h-4zM759 480h4v4h-4zM707 484h4v4h-4zM759 484h4v4h-4zM707 488h4v4h-4zM727 488h16v4h-16zM755 488h8v4h-8zM711 492h16v4h-16zM683 500h4v4h-4zM687 504h4v4h-4zM687 508h4v4h-4zM767 508h12v4h-12zM687 512h4v4h-4zM763 512h28v4h-28zM687 516h4v4h-4zM715 516h76v4h-76zM687 520h8v4h-8zM707 520h4v4h-4zM691 524h16v4h-16zM695 528h8v4h-8zM675 556h8v4h-8zM703 560h4v4h-4zM711 568h4v4h-4zM715 580h4v4h-4zM715 584h4v4h-4zM715 592h4v4h-4zM715 596h4v4h-4zM715 600h4v4h-4zM715 604h4v4h-4z"/>
<path fill="#6000FF" d="M611 40h4v4h-4zM623 40h4v4h-4zM611 44h4v4h-4zM623 44h4v4h-4zM611 48h4v4h-4zM623 48h4v4h-4zM611 52h4v4h-4zM623 52h4v4h-4zM611 56h12v4h-12zM615 60h8v4h-8zM811 68h40v4h-40zM811 72h12v4h-12zM843 72h12v4h-12zM815 76h4v4h-4zM843 76h8v4h-8zM815 80h4v4h-4zM843 80h8v4h-8zM815 84h4v4h-4zM843 84h4v4h-4zM815 88h4v4h-4zM839 88h4v4h-4zM839 92h4v4h-4zM667 96h12v4h-12zM875 96h16v4h-16zM663 100h4v4h-4zM675 100h12v4h-12zM819 100h4v4h-4zM835 100h4v4h-4zM871 100h20v4h-20zM663 104h4v4h-4zM679 104h24v4h-24zM819 104h8v4h-8zM831 104h4v4h-4zM871 104h20v4h-20zM663 108h4v4h-4zM675 108h20v4h-20zM699 108h8v4h-8zM823 108h8v4h-8zM871 108h20v4h-20zM663 112h28v4h-28zM703 112h8v4h-8zM871 112h16v4h-16zM667 116h24v4h-24zM707 116h4v4h-4zM871 116h12v4h-12zM667 120h24v4h-24zM703 120h8v4h-8zM671 124h24v4h-24zM699 124h12v4h-12zM671 128h40v4h-40zM671 132h36v4h-36zM723 132h8v4h-8zM671 136h28v4h-28zM723 136h8v4h-8zM671 140h28v4h-28zM723 140h8v4h-8zM671 144h24v4h-24zM675 148h12v4h-12zM967 148h4v4h-4zM751 152h16v4h-16zM967 152h4v4h-4zM991 152h4v4h-4zM743 156h4v4h-4zM767 156h4v4h-4zM967 156h4v4h-4zM991 156h8v4h-8zM767 160h4v4h-4zM967 160h4v4h-4zM991 160h4v4h-4zM767 164h4v4h-4zM967 164h8v4h-8zM987 164h8v4h-8zM739 168h4v4h-4zM767 168h4v4h-4zM967 168h8v4h-8zM983 168h12v4h-12zM1011 168h12v4h-12zM739 172h4v4h-4zM763 172h4v4h-4zM967 172h20v4h-20zM1007 172h12v4h-12zM1023 172h4v4h-4zM739 176h8v4h-8zM755 176h12v4h-12zM867 176h16v4h-16zM959 176h24v4h-24zM1003 176h12v4h-12zM1023 176h4v4h-4zM743 180h16v4h-16zM867 180h20v4h-20zM951 180h32v4h-32zM1003 180h24v4h-24zM871 184h16v4h-16zM943 184h8v4h-8zM975 184h8v4h-8zM1007 184h16v4h-16zM903 188h12v4h-12zM939 188h8v4h-8zM979 188h8v4h-8zM899 192h8v4h-8zM915 192h4v4h-4zM939 192h8v4h-8zM979 192h8v4h-8zM899 196h4v4h-4zM919 196h4v4h-4zM943 196h4v4h-4zM979 196h8v4h-8zM899 200h8v4h-8zM919 200h4v4h-4zM947 200h4v4h-4zM971 200h12v4h-12zM903 204h4v4h-4zM915 204h8v4h-8zM951 204h20v4h-20zM903 208h16v4h-16zM903 212h16v4h-16zM907 216h8v4h-8zM907 220h4v4h-4zM991 220h24v4h-24zM987 224h4v4h-4zM1015 224h8v4h-8zM983 228h4v4h-4zM1023 228h16v4h-16zM983 232h4v4h-4zM983 252h4v4h-4zM983 256h4v4h-4zM1003 256h8v4h-8zM979 260h20v4h-20zM975 264h20v4h-20zM971 268h24v4h-24zM971 272h24v4h-24zM971 276h28v4h-28zM971 280h24v4h-24zM979 284h8v4h-8zM907 336h8v4h-8zM899 340h8v4h-8zM915 340h8v4h-8zM787 344h12v4h-12zM899 344h4v4h-4zM923 344h4v4h-4zM779 348h72v4h-72zM899 348h4v4h-4zM931 348h16v4h-16zM775 352h24v4h-24zM855 352h8v4h-8zM899 352h4v4h-4zM935 352h12v4h-12zM771 356h20v4h-20zM863 356h8v4h-8zM935 356h8v4h-8zM767 360h20v4h-20zM867 360h8v4h-8zM903 360h4v4h-4zM931 360h8v4h-8zM767 364h20v4h-20zM871 364h4v4h-4zM907 364h4v4h-4zM923 364h8v4h-8zM771 368h16v4h-16zM875 368h4v4h-4zM771 372h16v4h-16zM875 372h8v4h-8zM771 376h12v4h-12zM875 376h8v4h-8zM767 380h16v4h-16zM875 380h8v4h-8zM767 384h12v4h-12zM875 384h8v4h-8zM763 388h12v4h-12zM875 388h8v4h-8zM759 392h8v4h-8zM875 392h8v4h-8zM731 396h4v4h-4zM755 396h8v4h-8zM879 396h4v4h-4zM723 400h4v4h-4zM739 400h4v4h-4zM755 400h4v4h-4zM879 400h4v4h-4zM715 404h8v4h-8zM743 404h12v4h-12zM779 404h4v4h-4zM879 404h8v4h-8zM707 408h12v4h-12zM747 408h4v4h-4zM775 408h12v4h-12zM883 408h8v4h-8zM775 412h12v4h-12zM887 412h20v4h-20zM775 416h12v4h-12zM779 420h8v4h-8zM707 424h4v4h-4zM779 424h8v4h-8zM699 428h16v4h-16zM695 432h20v4h-20zM703 436h16v4h-16zM711 440h12v4h-12zM719 444h12v4h-12zM727 448h20v4h-20zM751 452h8v4h-8zM755 456h8v4h-8zM691 460h8v4h-8zM759 460h4v4h-4zM691 464h12v4h-12zM759 464h12v4h-12zM691 468h12v4h-12zM763 468h20v4h-20zM691 472h12v4h-12zM771 472h16v4h-16zM691 476h12v4h-12zM775 476h16v4h-16zM807 476h4v4h-4zM687 480h16v4h-16zM771 480h48v4h-48zM687 484h16v4h-16zM771 484h48v4h-48zM687 488h16v4h-16zM767 488h48v4h-48zM683 492h24v4h-24zM767 492h44v4h-44zM691 496h20v4h-20zM731 496h28v4h-28zM775 496h32v4h-32zM695 500h44v4h-44zM751 500h12v4h-12zM783 500h4v4h-4zM695 504h44v4h-44zM755 504h8v4h-8zM695 508h48v4h-48zM751 508h8v4h-8zM695 512h20v4h-20zM735 512h20v4h-20zM699 516h4v4h-4zM675 560h24v4h-24zM707 568h4v4h-4zM711 576h4v4h-4zM711 580h4v4h-4zM711 584h4v4h-4zM707 588h8v4h-8zM707 592h8v4h-8zM707 596h8v4h-8zM707 600h4v4h-4z"/>
<path fill="#C000FF" d="M615 40h8v4h-8zM615 44h8v4h-8zM615 48h8v4h-8zM615 52h8v4h-8zM823 72h20v4h-20zM819 76h24v4h-24zM819 80h8v4h-8zM839 80h4v4h-4zM819 84h4v4h-4zM839 84h4v4h-4zM819 88h4v4h-4zM835 88h4v4h-4zM819 92h4v4h-4zM835 92h4v4h-4zM819 96h4v4h-4zM835 96h4v4h-4zM667 100h8v4h-8zM823 100h4v4h-4zM831 100h4v4h-4zM667 104h12v4h-12zM827 104h4v4h-4zM667 108h8v4h-8zM695 108h4v4h-4zM691 112h12v4h-12zM691 116h16v4h-16zM691 120h12v4h-12zM695 124h4v4h-4zM971 148h16v4h-16zM971 152h20v4h-20zM747 156h20v4h-20zM971 156h20v4h-20zM743 160h4v4h-4zM763 160h4v4h-4zM971 160h20v4h-20zM743 164h4v4h-4zM763 164h4v4h-4zM975 164h12v4h-12zM743 168h4v4h-4zM759 168h8v4h-8zM975 168h8v4h-8zM743 172h8v4h-8zM755 172h8v4h-8zM1019 172h4v4h-4zM747 176h8v4h-8zM1015 176h8v4h-8zM951 184h24v4h-24zM947 188h8v4h-8zM971 188h8v4h-8zM907 192h8v4h-8zM947 192h8v4h-8zM975 192h4v4h-4zM903 196h16v4h-16zM947 196h8v4h-8zM971 196h8v4h-8zM907 200h12v4h-12zM951 200h20v4h-20zM907 204h8v4h-8zM991 224h4v4h-4zM1011 224h4v4h-4zM987 228h4v4h-4zM1019 228h4v4h-4zM1027 232h8v4h-8zM983 236h4v4h-4zM983 240h4v4h-4zM983 244h4v4h-4zM983 248h4v4h-4zM987 252h4v4h-4zM1011 252h8v4h-8zM987 256h16v4h-16zM907 340h8v4h-8zM903 344h8v4h-8zM915 344h8v4h-8zM903 348h4v4h-4zM923 348h8v4h-8zM799 352h56v4h-56zM903 352h4v4h-4zM927 352h8v4h-8zM791 356h16v4h-16zM859 356h4v4h-4zM903 356h4v4h-4zM931 356h4v4h-4zM787 360h12v4h-12zM863 360h4v4h-4zM907 360h4v4h-4zM927 360h4v4h-4zM787 364h12v4h-12zM867 364h4v4h-4zM911 364h12v4h-12zM787 368h8v4h-8zM867 368h8v4h-8zM787 372h8v4h-8zM871 372h4v4h-4zM783 376h8v4h-8zM871 376h4v4h-4zM783 380h8v4h-8zM871 380h4v4h-4zM779 384h8v4h-8zM871 384h4v4h-4zM775 388h12v4h-12zM871 388h4v4h-4zM767 392h20v4h-20zM871 392h4v4h-4zM763 396h24v4h-24zM871 396h8v4h-8zM727 400h12v4h-12zM759 400h4v4h-4zM771 400h16v4h-16zM871 400h8v4h-8zM723 404h4v4h-4zM739 404h4v4h-4zM755 404h4v4h-4zM771 404h8v4h-8zM783 404h4v4h-4zM875 404h4v4h-4zM719 408h4v4h-4zM743 408h4v4h-4zM751 408h4v4h-4zM787 408h4v4h-4zM875 408h8v4h-8zM707 412h12v4h-12zM747 412h4v4h-4zM787 412h4v4h-4zM875 412h12v4h-12zM707 416h12v4h-12zM787 416h4v4h-4zM879 416h24v4h-24zM703 420h16v4h-16zM775 420h4v4h-4zM787 420h4v4h-4zM887 420h8v4h-8zM703 424h4v4h-4zM711 424h8v4h-8zM775 424h4v4h-4zM787 424h4v4h-4zM715 428h4v4h-4zM775 428h16v4h-16zM715 432h4v4h-4zM775 432h12v4h-12zM719 436h4v4h-4zM723 440h8v4h-8zM731 444h12v4h-12zM747 448h20v4h-20zM759 452h8v4h-8zM763 456h8v4h-8zM763 460h28v4h-28zM771 464h28v4h-28zM783 468h32v4h-32zM787 472h32v4h-32zM791 476h16v4h-16zM811 476h12v4h-12zM819 480h4v4h-4zM739 500h12v4h-12zM739 504h16v4h-16zM743 508h8v4h-8zM703 564h4v4h-4zM707 572h4v4h-4zM707 576h4v4h-4zM707 580h4v4h-4zM703 584h8v4h-8zM703 588h4v4h-4zM703 592h4v4h-4zM703 596h4v4h-4z"/>
<path fill="#00FFFF" d="M627 40h4v4h-4zM695 40h4v4h-4zM723 40h16v4h-16zM763 40h4v4h-4zM627 44h4v4h-4zM695 44h4v4h-4zM723 44h16v4h-16zM763 44h4v4h-4zM627 48h4v4h-4zM695 48h4v4h-4zM723 48h16v4h-16zM763 48h4v4h-4zM695 52h4v4h-4zM719 52h8v4h-8zM735 52h8v4h-8zM759 52h8v4h-8zM719 56h4v4h-4zM739 56h8v4h-8zM759 56h8v4h-8zM815 56h4v4h-4zM603 60h4v4h-4zM719 60h4v4h-4zM743 60h4v4h-4zM759 60h44v4h-44zM603 64h4v4h-4zM635 64h4v4h-4zM695 64h4v4h-4zM747 64h28v4h-28zM603 68h4v4h-4zM695 68h4v4h-4zM751 68h20v4h-20zM607 72h4v4h-4zM635 72h4v4h-4zM699 72h4v4h-4zM719 72h4v4h-4zM755 72h12v4h-12zM635 76h4v4h-4zM699 76h4v4h-4zM719 76h4v4h-4zM759 76h8v4h-8zM867 76h8v4h-8zM631 80h8v4h-8zM703 80h4v4h-4zM719 80h4v4h-4zM759 80h32v4h-32zM859 80h16v4h-16zM631 84h4v4h-4zM703 84h8v4h-8zM715 84h8v4h-8zM767 84h8v4h-8zM783 84h12v4h-12zM855 84h16v4h-16zM631 88h8v4h-8zM699 88h20v4h-20zM791 88h16v4h-16zM851 88h4v4h-4zM863 88h4v4h-4zM635 92h4v4h-4zM659 92h4v4h-4zM695 92h20v4h-20zM795 92h16v4h-16zM863 92h4v4h-4zM707 96h8v4h-8zM807 96h4v4h-4zM843 96h4v4h-4zM711 100h4v4h-4zM807 100h4v4h-4zM859 100h4v4h-4zM715 104h4v4h-4zM807 104h4v4h-4zM859 104h4v4h-4zM715 108h8v4h-8zM807 108h8v4h-8zM839 108h4v4h-4zM859 108h4v4h-4zM719 112h8v4h-8zM811 112h4v4h-4zM839 112h4v4h-4zM855 112h4v4h-4zM655 116h4v4h-4zM727 116h8v4h-8zM815 116h20v4h-20zM855 116h4v4h-4zM895 116h16v4h-16zM655 120h4v4h-4zM855 120h4v4h-4zM887 120h4v4h-4zM915 120h4v4h-4zM651 124h4v4h-4zM735 124h4v4h-4zM855 124h4v4h-4zM883 124h4v4h-4zM647 128h4v4h-4zM855 128h4v4h-4zM643 132h4v4h-4zM739 132h4v4h-4zM855 132h4v4h-4zM879 132h4v4h-4zM643 136h4v4h-4zM739 136h4v4h-4zM855 136h4v4h-4zM879 136h4v4h-4zM739 140h4v4h-4zM763 140h4v4h-4zM855 140h4v4h-4zM643 144h4v4h-4zM739 144h4v4h-4zM755 144h4v4h-4zM855 144h8v4h-8zM883 144h4v4h-4zM959 144h4v4h-4zM643 148h4v4h-4zM707 148h8v4h-8zM739 148h12v4h-12zM771 148h4v4h-4zM851 148h20v4h-20zM879 148h4v4h-4zM959 148h4v4h-4zM647 152h4v4h-4zM695 152h12v4h-12zM731 152h8v4h-8zM775 152h4v4h-4zM847 152h8v4h-8zM863 152h20v4h-20zM959 152h4v4h-4zM655 156h4v4h-4zM687 156h4v4h-4zM735 156h4v4h-4zM775 156h4v4h-4zM847 156h12v4h-12zM959 156h4v4h-4zM659 160h4v4h-4zM679 160h4v4h-4zM735 160h4v4h-4zM779 160h4v4h-4zM839 160h32v4h-32zM959 160h4v4h-4zM663 164h4v4h-4zM675 164h4v4h-4zM735 164h4v4h-4zM779 164h20v4h-20zM831 164h48v4h-48zM955 164h4v4h-4zM667 168h4v4h-4zM803 168h4v4h-4zM823 168h4v4h-4zM883 168h4v4h-4zM939 168h16v4h-16zM731 172h4v4h-4zM807 172h4v4h-4zM819 172h4v4h-4zM891 172h4v4h-4zM935 172h8v4h-8zM727 176h4v4h-4zM779 176h4v4h-4zM811 176h8v4h-8zM899 176h4v4h-4zM927 176h8v4h-8zM727 180h4v4h-4zM775 180h12v4h-12zM811 180h8v4h-8zM903 180h28v4h-28zM1031 180h4v4h-4zM727 184h8v4h-8zM771 184h4v4h-4zM787 184h4v4h-4zM803 184h8v4h-8zM815 184h8v4h-8zM1031 184h4v4h-4zM735 188h4v4h-4zM767 188h4v4h-4zM823 188h4v4h-4zM1031 188h4v4h-4zM739 192h4v4h-4zM763 192h4v4h-4zM827 192h8v4h-8zM1027 192h16v4h-16zM743 196h4v4h-4zM755 196h8v4h-8zM835 196h4v4h-4zM855 196h20v4h-20zM1011 196h32v4h-32zM747 200h8v4h-8zM839 200h52v4h-52zM999 200h8v4h-8zM1027 200h20v4h-20zM839 204h24v4h-24zM871 204h20v4h-20zM995 204h4v4h-4zM1027 204h20v4h-20zM843 208h16v4h-16zM883 208h8v4h-8zM931 208h16v4h-16zM975 208h12v4h-12zM995 208h4v4h-4zM1023 208h24v4h-24zM887 212h4v4h-4zM927 212h8v4h-8zM951 212h16v4h-16zM983 212h4v4h-4zM999 212h8v4h-8zM1019 212h28v4h-28zM887 216h4v4h-4zM927 216h4v4h-4zM1043 216h4v4h-4zM887 220h4v4h-4zM927 220h4v4h-4zM979 220h4v4h-4zM887 224h4v4h-4zM923 224h8v4h-8zM891 228h4v4h-4zM923 228h12v4h-12zM895 232h4v4h-4zM927 232h20v4h-20zM899 236h8v4h-8zM931 236h20v4h-20zM907 240h8v4h-8zM951 240h8v4h-8zM915 244h8v4h-8zM959 244h4v4h-4zM919 248h4v4h-4zM959 248h4v4h-4zM975 248h4v4h-4zM923 252h4v4h-4zM959 252h16v4h-16zM923 256h4v4h-4zM951 256h16v4h-16zM927 260h4v4h-4zM951 260h12v4h-12zM1011 260h4v4h-4zM927 264h4v4h-4zM947 264h16v4h-16zM1007 264h4v4h-4zM927 268h32v4h-32zM1007 268h4v4h-4zM843 272h8v4h-8zM927 272h32v4h-32zM1007 272h4v4h-4zM743 276h12v4h-12zM839 276h4v4h-4zM851 276h4v4h-4zM951 276h8v4h-8zM743 280h12v4h-12zM851 280h4v4h-4zM955 280h4v4h-4zM743 284h8v4h-8zM851 284h4v4h-4zM955 284h4v4h-4zM743 288h4v4h-4zM839 288h4v4h-4zM847 288h4v4h-4zM959 288h4v4h-4zM1007 288h4v4h-4zM839 292h12v4h-12zM963 292h8v4h-8zM999 292h8v4h-8zM707 296h4v4h-4zM971 296h36v4h-36zM983 300h24v4h-24zM991 304h8v4h-8zM779 312h8v4h-8zM747 316h8v4h-8zM771 316h4v4h-4zM787 316h4v4h-4zM743 320h4v4h-4zM755 320h16v4h-16zM795 320h4v4h-4zM743 324h4v4h-4zM799 324h8v4h-8zM743 328h4v4h-4zM803 328h8v4h-8zM819 328h12v4h-12zM907 328h20v4h-20zM743 332h4v4h-4zM807 332h24v4h-24zM899 332h4v4h-4zM923 332h4v4h-4zM951 332h12v4h-12zM743 336h4v4h-4zM807 336h28v4h-28zM927 336h20v4h-20zM959 336h4v4h-4zM747 340h4v4h-4zM831 340h8v4h-8zM891 340h4v4h-4zM747 344h4v4h-4zM859 344h8v4h-8zM891 344h4v4h-4zM963 344h4v4h-4zM747 348h4v4h-4zM867 348h4v4h-4zM891 348h4v4h-4zM963 348h4v4h-4zM747 352h4v4h-4zM875 352h4v4h-4zM891 352h4v4h-4zM747 356h4v4h-4zM879 356h4v4h-4zM891 356h4v4h-4zM747 360h4v4h-4zM883 360h4v4h-4zM891 360h4v4h-4zM747 364h4v4h-4zM887 364h12v4h-12zM743 368h8v4h-8zM891 368h8v4h-8zM743 372h8v4h-8zM891 372h24v4h-24zM739 376h12v4h-12zM891 376h8v4h-8zM735 380h20v4h-20zM891 380h4v4h-4zM731 384h24v4h-24zM891 384h4v4h-4zM727 388h24v4h-24zM891 388h4v4h-4zM723 392h4v4h-4zM743 392h8v4h-8zM891 392h4v4h-4zM891 396h4v4h-4zM895 400h4v4h-4zM903 404h4v4h-4zM715 460h8v4h-8zM715 464h28v4h-28zM715 468h28v4h-28zM715 472h4v4h-4zM723 472h20v4h-20zM715 476h28v4h-28zM715 480h16v4h-16zM739 480h12v4h-12zM715 484h8v4h-8zM743 484h8v4h-8zM739 520h20v4h-20zM675 524h12v4h-12zM711 524h28v4h-28zM759 524h28v4h-28zM687 528h4v4h-4zM707 528h4v4h-4zM691 532h8v4h-8zM703 532h4v4h-4zM691 556h8v4h-8zM707 560h4v4h-4zM711 564h4v4h-4zM715 572h4v4h-4zM719 580h4v4h-4zM723 592h4v4h-4zM723 596h4v4h-4zM723 600h12v4h-12zM731 604h4v4h-4zM731 608h4v4h-4z"/>
<path fill="#00FF00" d="M631 40h4v4h-4zM651 40h4v4h-4zM683 40h4v4h-4zM775 40h4v4h-4zM631 44h4v4h-4zM651 44h4v4h-4zM679 44h8v4h-8zM775 44h4v4h-4zM631 48h4v4h-4zM651 48h4v4h-4zM675 48h12v4h-12zM775 48h4v4h-4zM819 48h8v4h-8zM599 52h4v4h-4zM651 52h4v4h-4zM675 52h12v4h-12zM779 52h24v4h-24zM831 52h4v4h-4zM599 56h4v4h-4zM639 56h4v4h-4zM651 56h28v4h-28zM683 56h4v4h-4zM595 60h4v4h-4zM643 60h8v4h-8zM683 60h4v4h-4zM731 60h4v4h-4zM595 64h4v4h-4zM647 64h4v4h-4zM683 64h4v4h-4zM727 64h12v4h-12zM647 68h4v4h-4zM683 68h4v4h-4zM727 68h4v4h-4zM739 68h4v4h-4zM647 72h4v4h-4zM687 72h4v4h-4zM727 72h4v4h-4zM739 72h4v4h-4zM647 76h4v4h-4zM687 76h4v4h-4zM727 76h4v4h-4zM743 76h8v4h-8zM647 80h4v4h-4zM683 80h8v4h-8zM727 80h4v4h-4zM747 80h4v4h-4zM647 84h4v4h-4zM667 84h16v4h-16zM727 84h4v4h-4zM751 84h4v4h-4zM643 88h16v4h-16zM727 88h4v4h-4zM751 88h8v4h-8zM643 92h12v4h-12zM727 92h4v4h-4zM751 92h28v4h-28zM723 96h8v4h-8zM751 96h20v4h-20zM779 96h8v4h-8zM723 100h16v4h-16zM743 100h16v4h-16zM787 100h4v4h-4zM727 104h32v4h-32zM791 104h4v4h-4zM735 108h28v4h-28zM795 108h4v4h-4zM739 112h8v4h-8zM751 112h12v4h-12zM795 112h4v4h-4zM743 116h4v4h-4zM755 116h8v4h-8zM799 116h4v4h-4zM647 120h4v4h-4zM743 120h4v4h-4zM799 120h8v4h-8zM743 124h4v4h-4zM803 124h8v4h-8zM831 124h16v4h-16zM899 124h4v4h-4zM811 128h20v4h-20zM847 128h4v4h-4zM891 128h28v4h-28zM759 132h12v4h-12zM819 132h4v4h-4zM847 132h4v4h-4zM891 132h4v4h-4zM635 136h4v4h-4zM755 136h4v4h-4zM771 136h4v4h-4zM843 136h4v4h-4zM891 136h4v4h-4zM635 140h4v4h-4zM747 140h8v4h-8zM775 140h4v4h-4zM835 140h8v4h-8zM891 140h4v4h-4zM947 140h4v4h-4zM635 144h4v4h-4zM815 144h4v4h-4zM831 144h8v4h-8zM891 144h4v4h-4zM947 144h4v4h-4zM635 148h4v4h-4zM779 148h4v4h-4zM827 148h8v4h-8zM891 148h4v4h-4zM943 148h8v4h-8zM635 152h4v4h-4zM783 152h4v4h-4zM823 152h8v4h-8zM891 152h4v4h-4zM939 152h8v4h-8zM631 156h16v4h-16zM719 156h12v4h-12zM787 156h16v4h-16zM819 156h12v4h-12zM887 156h4v4h-4zM935 156h4v4h-4zM631 160h4v4h-4zM647 160h4v4h-4zM695 160h24v4h-24zM731 160h4v4h-4zM803 160h8v4h-8zM819 160h4v4h-4zM887 160h4v4h-4zM931 160h4v4h-4zM631 164h4v4h-4zM651 164h4v4h-4zM687 164h8v4h-8zM731 164h4v4h-4zM807 164h12v4h-12zM891 164h8v4h-8zM927 164h4v4h-4zM655 168h4v4h-4zM683 168h8v4h-8zM727 168h4v4h-4zM899 168h4v4h-4zM919 168h8v4h-8zM655 172h8v4h-8zM683 172h4v4h-4zM719 172h8v4h-8zM903 172h16v4h-16zM655 176h32v4h-32zM715 176h8v4h-8zM651 180h8v4h-8zM715 180h4v4h-4zM647 184h12v4h-12zM715 184h4v4h-4zM647 188h12v4h-12zM715 188h4v4h-4zM647 192h12v4h-12zM715 192h16v4h-16zM775 192h40v4h-40zM735 196h4v4h-4zM771 196h8v4h-8zM815 196h8v4h-8zM735 200h4v4h-4zM767 200h4v4h-4zM823 200h4v4h-4zM739 204h4v4h-4zM759 204h4v4h-4zM827 204h4v4h-4zM739 208h20v4h-20zM827 208h4v4h-4zM831 212h4v4h-4zM835 216h12v4h-12zM855 220h24v4h-24zM955 220h16v4h-16zM875 224h8v4h-8zM951 224h20v4h-20zM879 228h4v4h-4zM955 228h4v4h-4zM967 228h4v4h-4zM879 232h4v4h-4zM959 232h12v4h-12zM879 236h8v4h-8zM963 236h8v4h-8zM879 240h16v4h-16zM879 244h4v4h-4zM895 244h8v4h-8zM875 248h8v4h-8zM903 248h4v4h-4zM875 252h8v4h-8zM907 252h4v4h-4zM871 256h12v4h-12zM907 256h8v4h-8zM731 260h32v4h-32zM831 260h16v4h-16zM859 260h8v4h-8zM879 260h16v4h-16zM911 260h4v4h-4zM731 264h16v4h-16zM759 264h8v4h-8zM827 264h12v4h-12zM851 264h16v4h-16zM879 264h20v4h-20zM911 264h8v4h-8zM731 268h8v4h-8zM759 268h8v4h-8zM827 268h8v4h-8zM855 268h8v4h-8zM879 268h20v4h-20zM911 268h8v4h-8zM735 272h4v4h-4zM763 272h4v4h-4zM831 272h4v4h-4zM859 272h4v4h-4zM879 272h20v4h-20zM911 272h8v4h-8zM703 276h12v4h-12zM731 276h4v4h-4zM811 276h4v4h-4zM831 276h4v4h-4zM859 276h4v4h-4zM879 276h16v4h-16zM911 276h8v4h-8zM683 280h52v4h-52zM859 280h4v4h-4zM879 280h12v4h-12zM911 280h8v4h-8zM687 284h8v4h-8zM723 284h4v4h-4zM759 284h4v4h-4zM859 284h4v4h-4zM875 284h12v4h-12zM911 284h8v4h-8zM939 284h4v4h-4zM759 288h8v4h-8zM827 288h4v4h-4zM859 288h4v4h-4zM875 288h8v4h-8zM911 288h36v4h-36zM759 292h4v4h-4zM831 292h4v4h-4zM859 292h4v4h-4zM875 292h4v4h-4zM911 292h16v4h-16zM943 292h8v4h-8zM755 296h8v4h-8zM771 296h16v4h-16zM831 296h4v4h-4zM859 296h4v4h-4zM911 296h8v4h-8zM947 296h8v4h-8zM755 300h4v4h-4zM771 300h8v4h-8zM783 300h8v4h-8zM835 300h4v4h-4zM855 300h8v4h-8zM911 300h8v4h-8zM947 300h16v4h-16zM727 304h8v4h-8zM755 304h4v4h-4zM771 304h4v4h-4zM787 304h8v4h-8zM839 304h8v4h-8zM851 304h16v4h-16zM911 304h8v4h-8zM943 304h32v4h-32zM723 308h16v4h-16zM759 308h4v4h-4zM767 308h4v4h-4zM791 308h4v4h-4zM843 308h20v4h-20zM911 308h16v4h-16zM943 308h16v4h-16zM975 308h8v4h-8zM723 312h4v4h-4zM735 312h4v4h-4zM763 312h4v4h-4zM795 312h8v4h-8zM911 312h24v4h-24zM951 312h12v4h-12zM979 312h8v4h-8zM719 316h4v4h-4zM735 316h4v4h-4zM803 316h28v4h-28zM907 316h8v4h-8zM927 316h12v4h-12zM951 316h20v4h-20zM983 316h12v4h-12zM735 320h4v4h-4zM831 320h8v4h-8zM903 320h8v4h-8zM931 320h8v4h-8zM947 320h8v4h-8zM967 320h8v4h-8zM987 320h12v4h-12zM731 324h4v4h-4zM835 324h4v4h-4zM895 324h8v4h-8zM935 324h4v4h-4zM947 324h4v4h-4zM971 324h4v4h-4zM731 328h4v4h-4zM891 328h4v4h-4zM939 328h8v4h-8zM971 328h4v4h-4zM987 328h8v4h-8zM731 332h4v4h-4zM839 332h4v4h-4zM887 332h4v4h-4zM971 332h4v4h-4zM983 332h8v4h-8zM731 336h4v4h-4zM843 336h24v4h-24zM883 336h4v4h-4zM971 336h4v4h-4zM979 336h8v4h-8zM731 340h4v4h-4zM867 340h8v4h-8zM883 340h4v4h-4zM971 340h4v4h-4zM979 340h4v4h-4zM731 344h8v4h-8zM875 344h8v4h-8zM971 344h4v4h-4zM735 348h4v4h-4zM735 352h4v4h-4zM731 356h8v4h-8zM731 360h4v4h-4zM723 364h8v4h-8zM719 368h8v4h-8zM715 372h8v4h-8zM927 372h8v4h-8zM715 376h8v4h-8zM915 376h4v4h-4zM719 380h4v4h-4zM907 380h4v4h-4zM719 384h4v4h-4zM903 384h8v4h-8zM719 388h4v4h-4zM903 388h4v4h-4zM707 392h12v4h-12zM903 392h20v4h-20zM675 532h8v4h-8zM715 532h16v4h-16zM739 532h20v4h-20zM683 536h4v4h-4zM711 536h4v4h-4zM731 536h56v4h-56zM691 540h20v4h-20zM675 548h12v4h-12zM691 552h4v4h-4zM711 556h8v4h-8zM719 560h4v4h-4zM719 564h4v4h-4zM723 568h4v4h-4zM723 572h8v4h-8zM743 572h44v4h-44zM727 576h4v4h-4zM747 576h52v4h-52zM727 580h4v4h-4zM747 580h52v4h-52zM727 584h4v4h-4zM747 584h56v4h-56zM731 588h4v4h-4zM747 588h12v4h-12zM735 592h16v4h-16zM739 596h12v4h-12zM743 600h8v4h-8zM743 604h4v4h-4zM759 604h32v4h-32zM743 608h4v4h-4zM759 608h8v4h-8zM779 608h4v4h-4zM739 612h4v4h-4zM759 612h4v4h-4z"/>
<path fill="#00FFB0" d="M659 40h4v4h-4zM691 40h4v4h-4zM767 40h4v4h-4zM659 44h8v4h-8zM691 44h4v4h-4zM767 44h4v4h-4zM659 48h12v4h-12zM691 48h4v4h-4zM767 48h4v4h-4zM603 52h4v4h-4zM691 52h4v4h-4zM727 52h8v4h-8zM767 52h4v4h-4zM603 56h4v4h-4zM631 56h4v4h-4zM691 56h4v4h-4zM723 56h4v4h-4zM735 56h4v4h-4zM767 56h16v4h-16zM795 56h20v4h-20zM819 56h16v4h-16zM635 60h4v4h-4zM691 60h4v4h-4zM739 60h4v4h-4zM599 64h4v4h-4zM639 64h4v4h-4zM691 64h4v4h-4zM719 64h4v4h-4zM743 64h4v4h-4zM599 68h4v4h-4zM639 68h4v4h-4zM691 68h4v4h-4zM719 68h4v4h-4zM747 68h4v4h-4zM603 72h4v4h-4zM639 72h4v4h-4zM695 72h4v4h-4zM751 72h4v4h-4zM639 76h4v4h-4zM695 76h4v4h-4zM723 76h4v4h-4zM755 76h4v4h-4zM639 80h4v4h-4zM699 80h4v4h-4zM723 80h4v4h-4zM755 80h4v4h-4zM635 84h8v4h-8zM695 84h8v4h-8zM723 84h4v4h-4zM759 84h8v4h-8zM775 84h8v4h-8zM663 88h36v4h-36zM719 88h4v4h-4zM767 88h8v4h-8zM783 88h8v4h-8zM855 88h8v4h-8zM715 92h4v4h-4zM787 92h8v4h-8zM847 92h16v4h-16zM655 96h4v4h-4zM715 96h4v4h-4zM791 96h16v4h-16zM859 96h4v4h-4zM715 100h4v4h-4zM795 100h12v4h-12zM843 100h4v4h-4zM719 104h4v4h-4zM803 104h4v4h-4zM843 104h4v4h-4zM855 104h4v4h-4zM723 108h4v4h-4zM803 108h4v4h-4zM843 108h16v4h-16zM727 112h8v4h-8zM807 112h4v4h-4zM843 112h12v4h-12zM735 116h4v4h-4zM807 116h8v4h-8zM835 116h20v4h-20zM651 120h4v4h-4zM735 120h4v4h-4zM815 120h16v4h-16zM851 120h4v4h-4zM891 120h24v4h-24zM647 124h4v4h-4zM739 124h4v4h-4zM851 124h4v4h-4zM887 124h4v4h-4zM643 128h4v4h-4zM739 128h4v4h-4zM851 128h4v4h-4zM883 128h4v4h-4zM851 132h4v4h-4zM883 132h4v4h-4zM639 136h4v4h-4zM851 136h4v4h-4zM883 136h4v4h-4zM639 140h4v4h-4zM759 140h4v4h-4zM767 140h4v4h-4zM851 140h4v4h-4zM883 140h4v4h-4zM639 144h4v4h-4zM743 144h4v4h-4zM751 144h4v4h-4zM771 144h4v4h-4zM843 144h12v4h-12zM955 144h4v4h-4zM775 148h4v4h-4zM843 148h8v4h-8zM883 148h4v4h-4zM955 148h4v4h-4zM643 152h4v4h-4zM707 152h24v4h-24zM839 152h8v4h-8zM855 152h8v4h-8zM883 152h4v4h-4zM955 152h4v4h-4zM651 156h4v4h-4zM691 156h12v4h-12zM779 156h4v4h-4zM835 156h12v4h-12zM859 156h24v4h-24zM955 156h4v4h-4zM655 160h4v4h-4zM683 160h8v4h-8zM783 160h8v4h-8zM831 160h8v4h-8zM871 160h8v4h-8zM943 160h16v4h-16zM659 164h4v4h-4zM679 164h4v4h-4zM799 164h4v4h-4zM823 164h8v4h-8zM879 164h8v4h-8zM935 164h20v4h-20zM663 168h4v4h-4zM671 168h8v4h-8zM807 168h4v4h-4zM819 168h4v4h-4zM887 168h8v4h-8zM931 168h8v4h-8zM811 172h8v4h-8zM895 172h4v4h-4zM927 172h8v4h-8zM903 176h4v4h-4zM919 176h8v4h-8zM723 180h4v4h-4zM723 184h4v4h-4zM775 184h12v4h-12zM811 184h4v4h-4zM1035 184h4v4h-4zM731 188h4v4h-4zM771 188h4v4h-4zM787 188h20v4h-20zM815 188h8v4h-8zM1035 188h4v4h-4zM735 192h4v4h-4zM767 192h4v4h-4zM823 192h4v4h-4zM739 196h4v4h-4zM763 196h4v4h-4zM827 196h8v4h-8zM743 200h4v4h-4zM755 200h4v4h-4zM831 200h8v4h-8zM1007 200h20v4h-20zM747 204h4v4h-4zM835 204h4v4h-4zM863 204h8v4h-8zM999 204h8v4h-8zM1015 204h12v4h-12zM839 208h4v4h-4zM859 208h24v4h-24zM999 208h8v4h-8zM1015 208h8v4h-8zM843 212h44v4h-44zM935 212h16v4h-16zM967 212h16v4h-16zM1007 212h12v4h-12zM879 216h8v4h-8zM931 216h8v4h-8zM951 216h12v4h-12zM979 216h4v4h-4zM883 220h4v4h-4zM931 220h8v4h-8zM975 220h4v4h-4zM931 224h12v4h-12zM975 224h4v4h-4zM887 228h4v4h-4zM935 228h12v4h-12zM975 228h4v4h-4zM891 232h4v4h-4zM947 232h4v4h-4zM975 232h4v4h-4zM895 236h4v4h-4zM951 236h8v4h-8zM975 236h4v4h-4zM903 240h4v4h-4zM959 240h4v4h-4zM975 240h4v4h-4zM911 244h4v4h-4zM963 244h4v4h-4zM975 244h4v4h-4zM915 248h4v4h-4zM963 248h12v4h-12zM915 252h8v4h-8zM919 256h4v4h-4zM919 260h8v4h-8zM923 264h4v4h-4zM1011 264h4v4h-4zM747 268h8v4h-8zM839 268h12v4h-12zM923 268h4v4h-4zM1011 268h4v4h-4zM743 272h16v4h-16zM839 272h4v4h-4zM851 272h4v4h-4zM923 272h4v4h-4zM739 276h4v4h-4zM755 276h4v4h-4zM835 276h4v4h-4zM923 276h28v4h-28zM739 280h4v4h-4zM755 280h4v4h-4zM835 280h4v4h-4zM927 280h4v4h-4zM947 280h8v4h-8zM735 284h8v4h-8zM751 284h4v4h-4zM835 284h4v4h-4zM951 284h4v4h-4zM699 288h16v4h-16zM731 288h12v4h-12zM747 288h8v4h-8zM835 288h4v4h-4zM851 288h4v4h-4zM955 288h4v4h-4zM699 292h52v4h-52zM835 292h4v4h-4zM851 292h4v4h-4zM955 292h8v4h-8zM711 296h40v4h-40zM839 296h12v4h-12zM963 296h8v4h-8zM715 300h12v4h-12zM739 300h12v4h-12zM975 300h8v4h-8zM719 304h4v4h-4zM743 304h8v4h-8zM983 304h8v4h-8zM999 304h8v4h-8zM743 308h8v4h-8zM779 308h8v4h-8zM987 308h16v4h-16zM743 312h12v4h-12zM775 312h4v4h-4zM787 312h4v4h-4zM743 316h4v4h-4zM755 316h8v4h-8zM767 316h4v4h-4zM791 316h8v4h-8zM739 320h4v4h-4zM799 320h8v4h-8zM919 320h8v4h-8zM739 324h4v4h-4zM807 324h24v4h-24zM911 324h20v4h-20zM955 324h8v4h-8zM739 328h4v4h-4zM811 328h8v4h-8zM831 328h4v4h-4zM899 328h8v4h-8zM927 328h4v4h-4zM951 328h16v4h-16zM739 332h4v4h-4zM831 332h4v4h-4zM895 332h4v4h-4zM927 332h8v4h-8zM943 332h8v4h-8zM963 332h4v4h-4zM739 336h4v4h-4zM835 336h4v4h-4zM891 336h4v4h-4zM963 336h4v4h-4zM743 340h4v4h-4zM839 340h4v4h-4zM855 340h8v4h-8zM963 340h4v4h-4zM743 344h4v4h-4zM867 344h4v4h-4zM887 344h4v4h-4zM743 348h4v4h-4zM871 348h4v4h-4zM887 348h4v4h-4zM743 352h4v4h-4zM879 352h12v4h-12zM743 356h4v4h-4zM883 356h8v4h-8zM743 360h4v4h-4zM887 360h4v4h-4zM739 364h8v4h-8zM735 368h8v4h-8zM931 368h4v4h-4zM731 372h12v4h-12zM915 372h8v4h-8zM727 376h12v4h-12zM899 376h8v4h-8zM727 380h8v4h-8zM895 380h4v4h-4zM727 384h4v4h-4zM895 384h4v4h-4zM723 388h4v4h-4zM719 392h4v4h-4zM895 392h4v4h-4zM707 396h12v4h-12zM895 396h4v4h-4zM899 400h16v4h-16zM719 472h4v4h-4zM739 524h20v4h-20zM675 528h12v4h-12zM711 528h4v4h-4zM727 528h8v4h-8zM759 528h28v4h-28zM687 532h4v4h-4zM707 532h4v4h-4zM695 536h12v4h-12zM675 552h8v4h-8zM699 556h4v4h-4zM711 560h4v4h-4zM715 568h4v4h-4zM719 576h4v4h-4zM723 584h4v4h-4zM723 588h4v4h-4zM727 592h4v4h-4zM727 596h8v4h-8zM735 600h4v4h-4zM735 604h4v4h-4zM735 608h4v4h-4zM735 612h4v4h-4zM767 612h8v4h-8z"/>
<path fill="#00A8FF" d="M699 40h4v4h-4zM711 40h12v4h-12zM739 40h24v4h-24zM699 44h4v4h-4zM711 44h12v4h-12zM739 44h24v4h-24zM699 48h4v4h-4zM711 48h12v4h-12zM739 48h24v4h-24zM627 52h4v4h-4zM699 52h4v4h-4zM711 52h8v4h-8zM743 52h16v4h-16zM627 56h4v4h-4zM695 56h8v4h-8zM711 56h8v4h-8zM747 56h12v4h-12zM607 60h4v4h-4zM631 60h4v4h-4zM695 60h4v4h-4zM715 60h4v4h-4zM747 60h12v4h-12zM803 60h36v4h-36zM607 64h4v4h-4zM631 64h4v4h-4zM699 64h4v4h-4zM715 64h4v4h-4zM775 64h28v4h-28zM607 68h4v4h-4zM635 68h4v4h-4zM699 68h4v4h-4zM715 68h4v4h-4zM771 68h28v4h-28zM611 72h4v4h-4zM631 72h4v4h-4zM703 72h4v4h-4zM715 72h4v4h-4zM767 72h28v4h-28zM611 76h8v4h-8zM627 76h8v4h-8zM703 76h8v4h-8zM715 76h4v4h-4zM767 76h32v4h-32zM859 76h8v4h-8zM875 76h4v4h-4zM615 80h16v4h-16zM707 80h12v4h-12zM791 80h12v4h-12zM855 80h4v4h-4zM875 80h12v4h-12zM619 84h12v4h-12zM711 84h4v4h-4zM795 84h16v4h-16zM851 84h4v4h-4zM871 84h8v4h-8zM887 84h8v4h-8zM619 88h12v4h-12zM807 88h4v4h-4zM847 88h4v4h-4zM867 88h4v4h-4zM631 92h4v4h-4zM663 92h4v4h-4zM679 92h16v4h-16zM811 92h4v4h-4zM843 92h4v4h-4zM659 96h4v4h-4zM703 96h4v4h-4zM811 96h4v4h-4zM863 96h4v4h-4zM707 100h4v4h-4zM811 100h4v4h-4zM863 100h4v4h-4zM711 104h4v4h-4zM811 104h4v4h-4zM839 104h4v4h-4zM863 104h4v4h-4zM715 112h4v4h-4zM815 112h8v4h-8zM831 112h8v4h-8zM859 112h4v4h-4zM895 112h20v4h-20zM719 116h8v4h-8zM859 116h4v4h-4zM891 116h4v4h-4zM911 116h4v4h-4zM727 120h8v4h-8zM859 120h4v4h-4zM655 124h4v4h-4zM879 124h4v4h-4zM651 128h4v4h-4zM735 128h4v4h-4zM879 128h4v4h-4zM647 132h4v4h-4zM875 132h4v4h-4zM859 136h4v4h-4zM875 136h4v4h-4zM643 140h4v4h-4zM859 140h8v4h-8zM875 140h8v4h-8zM707 144h8v4h-8zM735 144h4v4h-4zM759 144h12v4h-12zM863 144h20v4h-20zM647 148h4v4h-4zM699 148h8v4h-8zM715 148h24v4h-24zM751 148h4v4h-4zM871 148h8v4h-8zM651 152h8v4h-8zM691 152h4v4h-4zM739 152h4v4h-4zM771 152h4v4h-4zM659 156h4v4h-4zM683 156h4v4h-4zM663 160h4v4h-4zM675 160h4v4h-4zM775 160h4v4h-4zM667 164h8v4h-8zM775 164h4v4h-4zM959 164h4v4h-4zM735 168h4v4h-4zM775 168h28v4h-28zM827 168h56v4h-56zM955 168h8v4h-8zM775 172h12v4h-12zM803 172h4v4h-4zM823 172h4v4h-4zM887 172h4v4h-4zM943 172h12v4h-12zM731 176h4v4h-4zM771 176h8v4h-8zM783 176h4v4h-4zM807 176h4v4h-4zM819 176h4v4h-4zM895 176h4v4h-4zM935 176h8v4h-8zM1031 176h4v4h-4zM731 180h4v4h-4zM771 180h4v4h-4zM787 180h4v4h-4zM807 180h4v4h-4zM819 180h4v4h-4zM899 180h4v4h-4zM931 180h8v4h-8zM735 184h4v4h-4zM767 184h4v4h-4zM791 184h12v4h-12zM823 184h4v4h-4zM915 184h20v4h-20zM739 188h4v4h-4zM759 188h8v4h-8zM827 188h4v4h-4zM855 188h8v4h-8zM927 188h4v4h-4zM1027 188h4v4h-4zM743 192h4v4h-4zM755 192h8v4h-8zM835 192h40v4h-40zM1015 192h12v4h-12zM747 196h8v4h-8zM839 196h16v4h-16zM875 196h20v4h-20zM995 196h16v4h-16zM891 200h4v4h-4zM931 200h4v4h-4zM991 200h8v4h-8zM891 204h4v4h-4zM927 204h16v4h-16zM983 204h12v4h-12zM891 208h4v4h-4zM927 208h4v4h-4zM947 208h4v4h-4zM967 208h8v4h-8zM987 208h8v4h-8zM891 212h4v4h-4zM987 212h12v4h-12zM891 216h4v4h-4zM923 216h4v4h-4zM983 216h4v4h-4zM1011 216h32v4h-32zM891 220h4v4h-4zM923 220h4v4h-4zM1023 220h8v4h-8zM891 224h4v4h-4zM919 224h4v4h-4zM979 224h4v4h-4zM895 228h4v4h-4zM919 228h4v4h-4zM899 232h4v4h-4zM919 232h8v4h-8zM907 236h24v4h-24zM915 240h36v4h-36zM923 244h36v4h-36zM923 248h36v4h-36zM927 252h32v4h-32zM975 252h4v4h-4zM927 256h24v4h-24zM967 256h8v4h-8zM931 260h20v4h-20zM963 260h8v4h-8zM1007 260h4v4h-4zM931 264h16v4h-16zM963 264h4v4h-4zM1003 264h4v4h-4zM959 268h4v4h-4zM1003 268h4v4h-4zM959 272h4v4h-4zM1003 272h4v4h-4zM843 276h8v4h-8zM959 276h4v4h-4zM1007 276h4v4h-4zM839 280h12v4h-12zM959 280h4v4h-4zM1007 280h4v4h-4zM839 284h12v4h-12zM959 284h4v4h-4zM1003 284h8v4h-8zM843 288h4v4h-4zM963 288h8v4h-8zM999 288h8v4h-8zM971 292h28v4h-28zM775 316h12v4h-12zM747 320h8v4h-8zM771 320h4v4h-4zM787 320h8v4h-8zM747 324h24v4h-24zM795 324h4v4h-4zM747 328h16v4h-16zM799 328h4v4h-4zM747 332h8v4h-8zM799 332h8v4h-8zM903 332h4v4h-4zM919 332h4v4h-4zM747 336h12v4h-12zM803 336h4v4h-4zM895 336h4v4h-4zM923 336h4v4h-4zM947 336h12v4h-12zM751 340h8v4h-8zM807 340h24v4h-24zM927 340h16v4h-16zM955 340h8v4h-8zM751 344h8v4h-8zM835 344h24v4h-24zM959 344h4v4h-4zM751 348h8v4h-8zM863 348h4v4h-4zM959 348h4v4h-4zM751 352h4v4h-4zM871 352h4v4h-4zM751 356h4v4h-4zM875 356h4v4h-4zM895 356h4v4h-4zM751 360h4v4h-4zM879 360h4v4h-4zM895 360h4v4h-4zM751 364h4v4h-4zM883 364h4v4h-4zM899 364h4v4h-4zM751 368h4v4h-4zM887 368h4v4h-4zM899 368h8v4h-8zM927 368h4v4h-4zM751 372h4v4h-4zM887 372h4v4h-4zM751 376h8v4h-8zM887 376h4v4h-4zM755 380h4v4h-4zM887 380h4v4h-4zM755 384h4v4h-4zM887 384h4v4h-4zM751 388h4v4h-4zM887 388h4v4h-4zM727 392h4v4h-4zM739 392h4v4h-4zM751 392h4v4h-4zM887 392h4v4h-4zM719 396h4v4h-4zM743 396h8v4h-8zM887 396h4v4h-4zM707 400h8v4h-8zM891 400h4v4h-4zM895 404h8v4h-8zM907 404h8v4h-8zM711 456h16v4h-16zM739 456h8v4h-8zM711 460h4v4h-4zM723 460h28v4h-28zM711 464h4v4h-4zM743 464h8v4h-8zM711 468h4v4h-4zM743 468h8v4h-8zM711 472h4v4h-4zM743 472h12v4h-12zM711 476h4v4h-4zM743 476h12v4h-12zM711 480h4v4h-4zM731 480h8v4h-8zM751 480h8v4h-8zM711 484h4v4h-4zM723 484h20v4h-20zM751 484h8v4h-8zM711 488h16v4h-16zM743 488h12v4h-12zM683 504h4v4h-4zM679 508h8v4h-8zM679 512h8v4h-8zM675 516h12v4h-12zM675 520h12v4h-12zM711 520h28v4h-28zM759 520h28v4h-28zM687 524h4v4h-4zM707 524h4v4h-4zM691 528h4v4h-4zM703 528h4v4h-4zM699 532h4v4h-4zM683 556h8v4h-8zM715 576h4v4h-4zM719 584h4v4h-4zM719 588h4v4h-4zM719 592h4v4h-4zM719 596h4v4h-4zM719 600h4v4h-4zM719 604h12v4h-12zM723 608h8v4h-8z"/>
<path fill="#0000FF" d="M623 56h4v4h-4zM611 60h4v4h-4zM623 60h4v4h-4zM615 64h12v4h-12zM811 64h32v4h-32zM619 68h8v4h-8zM807 68h4v4h-4zM807 72h4v4h-4zM807 76h8v4h-8zM851 76h4v4h-4zM811 80h4v4h-4zM843 88h4v4h-4zM815 92h4v4h-4zM871 92h36v4h-36zM663 96h4v4h-4zM679 96h4v4h-4zM815 96h4v4h-4zM839 96h4v4h-4zM871 96h4v4h-4zM891 96h16v4h-16zM687 100h16v4h-16zM815 100h4v4h-4zM867 100h4v4h-4zM891 100h20v4h-20zM703 104h4v4h-4zM835 104h4v4h-4zM867 104h4v4h-4zM891 104h8v4h-8zM707 108h4v4h-4zM819 108h4v4h-4zM831 108h4v4h-4zM867 108h4v4h-4zM891 108h4v4h-4zM711 112h4v4h-4zM867 112h4v4h-4zM887 112h4v4h-4zM663 116h4v4h-4zM711 116h4v4h-4zM867 116h4v4h-4zM883 116h4v4h-4zM663 120h4v4h-4zM711 120h8v4h-8zM867 120h16v4h-16zM663 124h8v4h-8zM711 124h16v4h-16zM867 124h8v4h-8zM663 128h8v4h-8zM711 128h20v4h-20zM867 128h4v4h-4zM659 132h12v4h-12zM707 132h16v4h-16zM731 132h4v4h-4zM651 136h20v4h-20zM699 136h12v4h-12zM715 136h8v4h-8zM731 136h4v4h-4zM651 140h20v4h-20zM699 140h4v4h-4zM719 140h4v4h-4zM731 140h4v4h-4zM651 144h20v4h-20zM695 144h4v4h-4zM723 144h8v4h-8zM659 148h16v4h-16zM687 148h8v4h-8zM759 148h8v4h-8zM667 152h20v4h-20zM747 152h4v4h-4zM767 152h4v4h-4zM999 156h4v4h-4zM739 160h4v4h-4zM771 160h4v4h-4zM995 160h4v4h-4zM739 164h4v4h-4zM771 164h4v4h-4zM995 164h4v4h-4zM1011 164h4v4h-4zM995 168h4v4h-4zM1007 168h4v4h-4zM767 172h4v4h-4zM795 172h4v4h-4zM835 172h4v4h-4zM867 172h12v4h-12zM963 172h4v4h-4zM987 172h20v4h-20zM1027 172h4v4h-4zM791 176h12v4h-12zM827 176h40v4h-40zM883 176h8v4h-8zM951 176h8v4h-8zM983 176h8v4h-8zM999 176h4v4h-4zM1027 176h4v4h-4zM739 180h4v4h-4zM759 180h8v4h-8zM795 180h4v4h-4zM827 180h40v4h-40zM887 180h8v4h-8zM943 180h8v4h-8zM983 180h4v4h-4zM999 180h4v4h-4zM1027 180h4v4h-4zM743 184h16v4h-16zM831 184h20v4h-20zM863 184h8v4h-8zM887 184h12v4h-12zM939 184h4v4h-4zM983 184h4v4h-4zM999 184h8v4h-8zM1023 184h4v4h-4zM871 188h32v4h-32zM915 188h4v4h-4zM935 188h4v4h-4zM987 188h4v4h-4zM1003 188h20v4h-20zM895 192h4v4h-4zM919 192h4v4h-4zM935 192h4v4h-4zM987 192h4v4h-4zM895 196h4v4h-4zM923 196h4v4h-4zM939 196h4v4h-4zM987 196h4v4h-4zM923 200h4v4h-4zM943 200h4v4h-4zM983 200h4v4h-4zM899 204h4v4h-4zM947 204h4v4h-4zM971 204h4v4h-4zM899 208h4v4h-4zM919 208h4v4h-4zM955 208h8v4h-8zM899 212h4v4h-4zM919 212h4v4h-4zM899 216h8v4h-8zM915 216h4v4h-4zM991 216h12v4h-12zM899 220h8v4h-8zM911 220h8v4h-8zM987 220h4v4h-4zM1015 220h4v4h-4zM899 224h16v4h-16zM983 224h4v4h-4zM1023 224h16v4h-16zM903 228h12v4h-12zM979 252h4v4h-4zM979 256h4v4h-4zM1011 256h4v4h-4zM975 260h4v4h-4zM999 260h4v4h-4zM971 264h4v4h-4zM995 264h4v4h-4zM967 268h4v4h-4zM995 268h4v4h-4zM967 272h4v4h-4zM995 272h4v4h-4zM967 276h4v4h-4zM999 276h4v4h-4zM967 280h4v4h-4zM995 280h4v4h-4zM971 284h8v4h-8zM987 284h12v4h-12zM979 288h8v4h-8zM775 324h12v4h-12zM775 328h16v4h-16zM771 332h24v4h-24zM771 336h24v4h-24zM903 336h4v4h-4zM915 336h4v4h-4zM771 340h28v4h-28zM771 344h16v4h-16zM799 344h8v4h-8zM927 344h28v4h-28zM767 348h12v4h-12zM851 348h8v4h-8zM947 348h12v4h-12zM763 352h12v4h-12zM863 352h4v4h-4zM947 352h8v4h-8zM763 356h8v4h-8zM899 356h4v4h-4zM759 360h8v4h-8zM759 364h8v4h-8zM875 364h4v4h-4zM903 364h4v4h-4zM931 364h4v4h-4zM759 368h12v4h-12zM879 368h4v4h-4zM911 368h8v4h-8zM763 372h8v4h-8zM763 376h8v4h-8zM763 380h4v4h-4zM763 384h4v4h-4zM759 388h4v4h-4zM755 392h4v4h-4zM727 396h4v4h-4zM735 396h4v4h-4zM883 396h4v4h-4zM719 400h4v4h-4zM743 400h4v4h-4zM751 400h4v4h-4zM883 400h4v4h-4zM707 404h8v4h-8zM887 404h4v4h-4zM891 408h4v4h-4zM907 408h4v4h-4zM695 436h8v4h-8zM691 440h20v4h-20zM691 444h28v4h-28zM691 448h12v4h-12zM719 448h8v4h-8zM691 452h12v4h-12zM727 452h24v4h-24zM691 456h12v4h-12zM751 456h4v4h-4zM699 460h8v4h-8zM755 460h4v4h-4zM703 464h4v4h-4zM755 464h4v4h-4zM703 468h4v4h-4zM759 468h4v4h-4zM703 472h4v4h-4zM763 472h8v4h-8zM703 476h4v4h-4zM763 476h12v4h-12zM703 480h4v4h-4zM763 480h8v4h-8zM703 484h4v4h-4zM763 484h8v4h-8zM703 488h4v4h-4zM763 488h4v4h-4zM707 492h4v4h-4zM727 492h40v4h-40zM683 496h8v4h-8zM711 496h20v4h-20zM759 496h16v4h-16zM687 500h8v4h-8zM763 500h20v4h-20zM787 500h16v4h-16zM691 504h4v4h-4zM763 504h36v4h-36zM691 508h4v4h-4zM759 508h8v4h-8zM779 508h16v4h-16zM691 512h4v4h-4zM715 512h20v4h-20zM755 512h8v4h-8zM691 516h8v4h-8zM703 516h12v4h-12zM695 520h12v4h-12zM699 560h4v4h-4zM707 564h4v4h-4zM711 572h4v4h-4zM715 588h4v4h-4zM711 600h4v4h-4z"/>
<path fill="#FF00FF" d="M827 80h12v4h-12zM823 84h16v4h-16zM823 88h12v4h-12zM823 92h12v4h-12zM823 96h12v4h-12zM827 100h4v4h-4zM747 160h16v4h-16zM747 164h4v4h-4zM755 164h8v4h-8zM747 168h12v4h-12zM751 172h4v4h-4zM955 188h16v4h-16zM955 192h20v4h-20zM955 196h16v4h-16zM995 224h16v4h-16zM991 228h4v4h-4zM1015 228h4v4h-4zM987 232h4v4h-4zM1019 232h8v4h-8zM987 236h4v4h-4zM987 248h4v4h-4zM991 252h20v4h-20zM911 344h4v4h-4zM907 348h16v4h-16zM907 352h4v4h-4zM923 352h4v4h-4zM807 356h36v4h-36zM847 356h12v4h-12zM907 356h4v4h-4zM923 356h8v4h-8zM799 360h32v4h-32zM855 360h8v4h-8zM911 360h16v4h-16zM799 364h8v4h-8zM859 364h8v4h-8zM795 368h12v4h-12zM863 368h4v4h-4zM795 372h8v4h-8zM863 372h8v4h-8zM791 376h12v4h-12zM867 376h4v4h-4zM791 380h8v4h-8zM867 380h4v4h-4zM787 384h8v4h-8zM867 384h4v4h-4zM787 388h8v4h-8zM867 388h4v4h-4zM787 392h4v4h-4zM867 392h4v4h-4zM787 396h4v4h-4zM867 396h4v4h-4zM763 400h8v4h-8zM787 400h4v4h-4zM867 400h4v4h-4zM727 404h12v4h-12zM759 404h4v4h-4zM767 404h4v4h-4zM787 404h4v4h-4zM867 404h8v4h-8zM723 408h4v4h-4zM739 408h4v4h-4zM755 408h4v4h-4zM771 408h4v4h-4zM867 408h8v4h-8zM719 412h4v4h-4zM743 412h4v4h-4zM751 412h4v4h-4zM771 412h4v4h-4zM791 412h4v4h-4zM867 412h8v4h-8zM719 416h4v4h-4zM743 416h12v4h-12zM771 416h4v4h-4zM791 416h4v4h-4zM863 416h16v4h-16zM719 420h4v4h-4zM771 420h4v4h-4zM791 420h4v4h-4zM867 420h20v4h-20zM895 420h4v4h-4zM719 424h4v4h-4zM771 424h4v4h-4zM791 424h4v4h-4zM871 424h24v4h-24zM719 428h4v4h-4zM771 428h4v4h-4zM791 428h4v4h-4zM719 432h8v4h-8zM767 432h8v4h-8zM787 432h8v4h-8zM723 436h8v4h-8zM763 436h32v4h-32zM731 440h8v4h-8zM755 440h36v4h-36zM743 444h48v4h-48zM767 448h28v4h-28zM767 452h32v4h-32zM771 456h32v4h-32zM791 460h16v4h-16zM799 464h16v4h-16zM815 468h4v4h-4zM819 472h4v4h-4zM823 476h4v4h-4zM675 564h16v4h-16zM695 564h8v4h-8zM703 568h4v4h-4zM703 576h4v4h-4zM703 580h4v4h-4zM699 584h4v4h-4zM695 588h8v4h-8zM691 592h12v4h-12zM699 596h4v4h-4z"/>
<path fill="#FF00C0" d="M751 164h4v4h-4zM995 228h4v4h-4zM1007 228h8v4h-8zM991 232h4v4h-4zM1015 232h4v4h-4zM1023 236h12v4h-12zM987 240h4v4h-4zM987 244h4v4h-4zM991 248h4v4h-4zM1011 248h12v4h-12zM911 352h12v4h-12zM843 356h4v4h-4zM911 356h12v4h-12zM831 360h12v4h-12zM851 360h4v4h-4zM807 364h28v4h-28zM855 364h4v4h-4zM807 368h24v4h-24zM859 368h4v4h-4zM803 372h24v4h-24zM859 372h4v4h-4zM803 376h20v4h-20zM859 376h8v4h-8zM799 380h20v4h-20zM859 380h8v4h-8zM795 384h20v4h-20zM859 384h8v4h-8zM795 388h12v4h-12zM859 388h8v4h-8zM791 392h8v4h-8zM859 392h8v4h-8zM791 396h8v4h-8zM859 396h8v4h-8zM791 400h4v4h-4zM859 400h8v4h-8zM763 404h4v4h-4zM791 404h4v4h-4zM859 404h8v4h-8zM727 408h12v4h-12zM759 408h12v4h-12zM791 408h4v4h-4zM859 408h8v4h-8zM723 412h4v4h-4zM739 412h4v4h-4zM755 412h4v4h-4zM767 412h4v4h-4zM859 412h8v4h-8zM739 416h4v4h-4zM755 416h4v4h-4zM767 416h4v4h-4zM795 416h4v4h-4zM859 416h4v4h-4zM743 420h12v4h-12zM767 420h4v4h-4zM795 420h4v4h-4zM859 420h8v4h-8zM747 424h8v4h-8zM767 424h4v4h-4zM795 424h4v4h-4zM859 424h12v4h-12zM723 428h4v4h-4zM763 428h8v4h-8zM795 428h4v4h-4zM863 428h28v4h-28zM727 432h4v4h-4zM755 432h12v4h-12zM795 432h4v4h-4zM871 432h16v4h-16zM731 436h32v4h-32zM795 436h4v4h-4zM739 440h16v4h-16zM791 440h12v4h-12zM791 444h12v4h-12zM795 448h8v4h-8zM799 452h8v4h-8zM803 456h8v4h-8zM807 460h8v4h-8zM815 464h4v4h-4zM819 468h4v4h-4zM823 472h4v4h-4zM827 476h8v4h-8zM691 564h4v4h-4zM699 568h4v4h-4zM703 572h4v4h-4zM699 580h4v4h-4zM691 584h8v4h-8zM687 588h8v4h-8z"/>
<path fill="#FF0060" d="M999 228h8v4h-8zM995 232h4v4h-4zM1011 232h4v4h-4zM991 236h4v4h-4zM1015 236h8v4h-8zM991 240h4v4h-4zM1019 240h12v4h-12zM991 244h4v4h-4zM1015 244h12v4h-12zM995 248h16v4h-16zM843 360h8v4h-8zM835 364h20v4h-20zM831 368h8v4h-8zM851 368h8v4h-8zM827 372h8v4h-8zM855 372h4v4h-4zM823 376h8v4h-8zM855 376h4v4h-4zM819 380h12v4h-12zM855 380h4v4h-4zM815 384h12v4h-12zM855 384h4v4h-4zM807 388h16v4h-16zM855 388h4v4h-4zM799 392h20v4h-20zM851 392h8v4h-8zM799 396h12v4h-12zM851 396h8v4h-8zM795 400h8v4h-8zM851 400h8v4h-8zM795 404h4v4h-4zM851 404h8v4h-8zM795 408h4v4h-4zM851 408h8v4h-8zM727 412h12v4h-12zM759 412h8v4h-8zM795 412h4v4h-4zM851 412h8v4h-8zM723 416h4v4h-4zM735 416h4v4h-4zM759 416h8v4h-8zM799 416h4v4h-4zM851 416h8v4h-8zM723 420h4v4h-4zM739 420h4v4h-4zM755 420h12v4h-12zM799 420h4v4h-4zM851 420h8v4h-8zM723 424h4v4h-4zM739 424h8v4h-8zM755 424h12v4h-12zM799 424h8v4h-8zM851 424h8v4h-8zM727 428h4v4h-4zM739 428h24v4h-24zM799 428h8v4h-8zM855 428h8v4h-8zM731 432h24v4h-24zM799 432h8v4h-8zM859 432h12v4h-12zM799 436h8v4h-8zM867 436h16v4h-16zM803 440h4v4h-4zM871 440h4v4h-4zM803 444h4v4h-4zM803 448h8v4h-8zM807 452h8v4h-8zM811 456h8v4h-8zM815 460h8v4h-8zM819 464h8v4h-8zM823 468h8v4h-8zM827 472h8v4h-8zM675 568h24v4h-24zM679 572h4v4h-4zM699 572h4v4h-4zM695 576h8v4h-8zM687 580h12v4h-12zM683 584h8v4h-8z"/>
<path fill="#FF0000" d="M999 232h12v4h-12zM995 236h20v4h-20zM995 240h24v4h-24zM995 244h20v4h-20zM839 368h12v4h-12zM835 372h20v4h-20zM831 376h24v4h-24zM831 380h24v4h-24zM827 384h28v4h-28zM823 388h32v4h-32zM819 392h32v4h-32zM811 396h40v4h-40zM803 400h48v4h-48zM799 404h52v4h-52zM799 408h52v4h-52zM799 412h52v4h-52zM727 416h8v4h-8zM803 416h48v4h-48zM727 420h12v4h-12zM803 420h48v4h-48zM727 424h12v4h-12zM807 424h44v4h-44zM731 428h8v4h-8zM807 428h48v4h-48zM807 432h52v4h-52zM807 436h60v4h-60zM807 440h64v4h-64zM807 444h64v4h-64zM811 448h56v4h-56zM815 452h48v4h-48zM819 456h44v4h-44zM823 460h36v4h-36zM827 464h28v4h-28zM831 468h20v4h-20zM835 472h12v4h-12zM683 572h16v4h-16zM679 576h16v4h-16zM679 580h8v4h-8z"/>
<ellipse cx="580.0" cy="151.0" rx="11.0" ry="17.0" fill="#FFFFC0"/>
<ellipse cx="667.2" cy="420.6" rx="14.0" ry="14.0" fill="#C000FF"/>
<ellipse cx="854.4" cy="501.9" rx="14.2" ry="14.2" fill="#6000FF"/>
<ellipse cx="829.8" cy="566.6" rx="26.6" ry="18.3" fill="#FFFFC0"/>
<ellipse cx="1012.9" cy="590.0" rx="22.7" ry="17.4" fill="#FFFFC0"/>
<ellipse cx="1050.2" cy="176.3" rx="14.0" ry="14.0" fill="#00FF20"/>
<ellipse cx="1071.0" cy="312.0" rx="12.0" ry="13.0" fill="#FFFFC0"/>
<g fill="none" stroke="#000" stroke-width="4" stroke-linejoin="round" stroke-linecap="round">
<polygon points="680.0,74.5 685.4,72.5 691.3,59.7 699.2,54.7 711.1,49.8 719.9,45.9 723.9,40.5 728.8,46.9 735.7,40.5 749.5,45.9 748.6,53.8 753.5,56.7 770.3,57.7 772.2,62.6 776.2,54.7 778.2,61.7 786.1,61.7 786.1,54.7 790.0,55.7 795.9,58.7 813.7,53.8 812.0,62.0 809.8,67.8 816.0,75.5 826.8,79.4 833.0,85.6 840.8,92.6 842.3,98.0 876.4,98.8 879.5,101.9 893.5,114.3 901.2,129.8 904.3,145.3 898.9,147.6 889.6,147.6 879.5,156.9 879.5,160.8 897.3,160.8 917.5,160.8 933.8,151.5 940.0,156.9 949.3,160.0 957.0,166.5 988.1,168.6 1006.7,185.2 1023.3,189.3 1025.4,197.6 1026.7,205.8 1025.9,213.1 1023.4,221.2 1017.8,227.7 1012.9,233.4 1008.0,238.3 1003.1,245.6 997.4,252.9 993.3,258.6 992.5,266.8 992.5,278.2 990.9,291.2 986.8,302.6 982.8,312.3 977.1,321.3 976.3,327.0 968.9,334.3 959.2,334.3 949.4,335.1 943.7,338.4 932.3,343.2 925.0,348.9 916.9,355.4 915.3,362.0 914.4,369.3 912.8,379.8 904.7,387.2 900.6,395.3 895.7,402.6 887.6,409.1 881.9,416.5 875.4,422.1 871.3,427.8 863.2,432.3 852.6,431.9 844.5,428.7 838.0,426.2 834.7,423.8 834.7,428.7 841.2,435.2 845.3,439.2 848.5,444.1 845.3,452.2 841.2,457.9 831.5,462.0 820.1,464.5 808.7,465.3 803.0,463.6 804.6,469.3 803.0,477.5 798.1,482.3 786.7,480.7 781.0,479.9 780.2,486.4 784.3,491.3 791.6,490.5 790.8,496.2 784.3,497.0 781.0,500.2 778.6,508.4 776.1,514.1 766.4,514.9 760.7,519.8 759.9,525.5 766.4,530.3 774.5,534.4 772.9,540.1 763.1,546.6 759.1,553.9 750.9,557.2 747.7,561.3 746.9,567.8 753.4,573.5 744.4,573.5 733.8,576.7 732.2,585.7 724.1,584.0 715.9,581.6 707.8,574.3 701.3,565.3 697.2,554.8 695.6,543.4 696.4,533.6 702.9,527.9 695.6,524.7 702.9,519.0 707.8,512.4 711.9,505.9 715.9,501.9 709.4,501.1 706.2,491.3 709.4,486.4 709.4,478.3 712.7,471.8 714.3,465.3 711.1,456.3 714.3,449.8 717.6,444.1 721.6,435.2 724.9,426.2 727.3,418.1 729.0,409.9 728.1,400.2 729.8,390.4 729.0,382.3 733.0,372.5 734.7,361.1 736.3,353.0 736.3,343.2 737.1,335.1 738.7,322.9 739.5,313.1 737.7,297.0 725.3,286.7 704.6,278.4 688.0,268.0 679.7,253.5 667.3,232.8 659.0,212.1 646.6,197.6 648.7,181.0 654.9,172.7 646.6,168.6 646.6,156.2 652.8,152.0 654.9,139.6 661.1,133.4 671.4,123.0 679.7,106.4 675.6,98.2 669.4,85.7"/>
<polygon points="588.0,38.0 628.0,38.0 628.0,50.0 640.0,58.0 656.0,66.0 672.0,71.0 680.0,74.5 676.5,77.0 669.4,85.7 662.0,84.0 656.0,88.0 645.0,84.0 635.0,78.0 624.6,70.5 612.0,60.0 600.0,50.0"/>
<polygon points="753.4,575.1 751.7,577.5 745.2,575.9 737.9,579.2 736.3,585.7 733.0,588.9 724.1,588.9 715.9,585.7 707.8,579.2 715.9,591.4 728.1,595.4 740.4,597.9 752.6,598.7 764.8,596.2 772.9,595.4 779.4,593.0 768.8,589.7 759.9,584.0 754.2,579.2"/>
<polygon points="711.9,488.0 708.6,488.0 706.2,494.6 707.8,501.1 711.9,500.2 711.1,493.7"/>
<polygon points="897.3,149.9 917.5,146.8 917.5,159.5 897.3,159.5"/>
<polygon points="808.0,50.0 818.0,50.0 818.0,56.0 808.0,56.0"/>
<polygon points="717.0,60.7 727.8,61.7 728.8,71.5 720.9,80.4 715.0,73.5"/>
<polyline points="728.0,48.0 721.6,57.7 716.8,63.4 713.5,73.2 718.4,79.7 720.8,87.8 725.7,91.1 739.5,91.1 745.2,98.4 759.9,97.6 762.3,103.3 758.2,111.4 760.7,119.5 762.3,125.2 764.8,133.4 765.6,138.2"/>
<polyline points="765.6,138.2 758.2,134.2 755.0,134.2 744.4,139.1 741.2,134.2 742.0,143.1 740.4,143.9 739.5,148.8 743.6,152.9 745.2,157.8 741.2,182.2"/>
<polyline points="741.2,182.2 734.7,178.9 729.0,166.7 716.8,167.5 711.1,158.6 701.3,149.6 697.2,148.8"/>
<polyline points="697.2,148.8 688.3,144.7 680.2,141.5 659.0,136.6"/>
<polyline points="680.0,74.5 676.0,80.0 669.4,85.7"/>
<polyline points="697.2,148.8 694.8,155.3 691.5,164.3 676.9,171.6 672.0,176.5 669.6,184.6 665.5,187.9 660.6,183.8 654.0,172.0 652.0,175.7"/>
<polyline points="741.2,182.2 735.5,187.9 716.8,191.1 714.3,201.7 707.8,209.0 710.3,217.1 717.6,224.5 722.5,229.3 729.0,229.3 736.3,225.3 736.3,237.5 743.6,237.5"/>
<polyline points="743.6,237.5 750.9,250.5 749.3,253.8 748.5,266.8 745.2,272.5 748.5,277.3 744.4,289.5 744.4,290.4"/>
<polyline points="744.4,290.4 737.1,297.3"/>
<polyline points="744.4,290.4 748.5,300.9 753.4,305.8 750.1,314.0 755.0,321.3 757.4,327.8 763.1,333.5"/>
<polyline points="763.1,333.5 763.1,343.2 753.4,347.3 752.6,359.5 751.7,367.6 747.7,375.8 742.0,392.0 740.4,400.2 736.3,412.4 742.0,420.5 740.4,428.7 737.1,440.9 731.4,449.0 732.2,461.2 728.1,469.3 726.5,477.5 724.9,485.6 725.7,497.8 728.1,505.9 725.7,514.1 727.3,526.3 721.6,534.4 720.0,542.5 714.3,550.7 714.3,560.4 721.6,567.0 724.1,571.0 740.4,571.0 753.4,573.5"/>
<polyline points="751.7,575.9 751.7,594.6"/>
<polyline points="763.1,333.5 770.4,325.3 781.0,327.8 786.7,333.5 790.0,327.0 798.9,327.0"/>
<polyline points="798.9,327.0 803.0,318.8 805.4,310.7 807.9,307.4 821.7,305.0 829.0,305.0 836.3,309.1 836.7,312.1"/>
<polyline points="836.7,312.1 839.6,302.6 841.2,296.1 834.7,288.7 834.7,280.6 820.1,280.6 817.6,270.8 819.3,266.8 813.6,257.8 804.6,255.4 797.3,250.5 786.7,249.7 779.4,243.2 778.6,235.9 777.8,226.9 768.0,228.5 759.1,235.0 751.7,237.5 743.6,237.5"/>
<polyline points="765.6,138.2 770.4,142.3 777.0,141.5 781.0,137.4 787.5,135.8 789.2,130.1 794.0,130.1 794.0,117.1 798.9,115.5 805.4,113.8 814.4,111.4 816.0,105.7"/>
<polyline points="816.0,105.7 810.3,100.0 811.9,93.5 819.3,90.2 816.8,86.2 823.3,79.7"/>
<polyline points="816.0,105.7 821.7,107.3 822.5,113.8 825.0,118.7 822.5,126.0 824.1,133.4 829.8,137.4 835.5,135.0 844.5,131.7 850.2,132.5"/>
<polyline points="850.2,132.5 843.7,121.2 841.2,116.3 838.0,109.0 844.5,100.0"/>
<polyline points="850.2,132.5 855.1,127.7 862.4,127.7 869.7,130.9"/>
<polyline points="869.7,130.9 866.4,123.6 868.9,117.1 870.5,107.3 870.5,101.6"/>
<polyline points="869.7,130.9 878.6,130.1 881.9,127.7 890.0,113.8"/>
<polyline points="836.7,312.1 838.8,327.0 850.2,327.8 855.9,329.4 857.5,335.1 859.1,343.2 865.6,343.2 868.1,348.1 865.6,356.3"/>
<polyline points="865.6,356.3 856.7,370.9 850.2,371.7 833.1,370.1 836.3,364.4 841.2,354.6 832.3,349.7 821.7,343.2 813.6,339.2 803.0,331.0 798.9,327.0"/>
<polyline points="865.6,356.3 873.0,360.3 873.0,367.6 860.7,375.0 854.2,380.7 841.2,393.7"/>
<polyline points="841.2,393.7 838.0,400.2 836.3,412.4 834.7,423.8"/>
<polyline points="841.2,393.7 847.7,392.9 854.2,400.2 857.5,399.4 865.6,404.3 873.0,408.3 877.0,414.0 873.8,418.1 875.4,422.1"/>
<polyline points="635.4,81.3 636.2,74.8 637.8,69.9"/>
<polyline points="612.6,57.7 620.8,58.5 628.9,59.3"/>
<polyline points="599.6,43.1 610.2,34.9 618.3,29.2 626.5,27.6 632.2,26.0"/>
</g>
<g fill="#000" stroke="#000" stroke-width="2">
<polygon points="565.4,150.4 575.2,151.3 583.3,154.5 583.3,152.9 576.0,149.6 567.1,147.2"/>
</g>
<polyline points="591.7,42.1 608.5,58.9 624.2,70.4 635.8,75.7 645.2,84.1 656.8,79.9 671.5,74.6 682.0,71.5" fill="none" stroke="#000" stroke-width="8" stroke-linejoin="round"/><g fill="#000"><polygon points="711.0,52.0 720.0,44.0 724.0,40.0 737.0,40.0 750.0,46.0 746.0,52.0 737.0,54.0 729.0,51.0 721.0,56.0"/><polygon points="796.0,58.0 812.0,53.0 816.0,56.0 815.0,68.0 806.0,66.0 800.0,62.0"/></g><path fill="#000" fill-rule="evenodd" d="M702.1 484.0L718.3 484.0L725.5 487.6L729.1 507.9L729.1 519.9L725.5 519.9L725.5 536.7L718.3 536.7L718.3 529.5L706.3 529.5L706.3 536.7L690.2 536.7L690.2 524.7L697.9 519.9L697.9 500.7ZM708.0 493.0L717.0 493.0L717.0 526.0L708.0 526.0Z"/><g fill="#000"><polygon points="690.2,535.5 718.3,535.5 721.9,542.7 718.3,546.3 713.5,551.1 718.3,560.7 723.1,565.5 724.3,569.0 738.7,569.0 738.7,573.2 745.9,573.2 745.9,569.0 750.7,570.2 754.9,573.8 754.9,585.8 759.1,589.4 771.0,590.0 771.0,593.6 791.4,594.2 791.4,597.2 766.9,597.8 762.7,601.4 762.7,605.6 750.7,605.6 750.7,602.6 731.5,601.4 721.9,596.6 709.9,593.0 706.3,589.4 702.7,584.6 697.9,581.0 697.9,572.6 694.4,565.5 690.2,564.3"/><polygon points="812.1,565.0 840.3,565.0 840.3,572.8 827.8,572.8 827.8,577.0 812.1,577.0 812.1,572.8 808.0,572.8 808.0,569.2 812.1,569.2"/><polygon points="999.2,585.8 1006.6,585.8 1006.6,589.0 1013.0,592.0 1013.0,594.0 1019.3,594.0 1019.3,597.4 1011.9,597.4 1011.9,594.3 999.2,593.4"/></g>
</g>
<g id="axb">
<line x1="545.0" y1="728.0" x2="545.0" y2="1300.5" stroke="#000" stroke-width="4"/>
<line x1="522.0" y1="754.1" x2="563.0" y2="754.1" stroke="#d3d3d3" stroke-width="4"/>
<line x1="522.0" y1="916.9" x2="563.0" y2="916.9" stroke="#d3d3d3" stroke-width="4"/>
<line x1="522.0" y1="1079.5" x2="563.0" y2="1079.5" stroke="#d3d3d3" stroke-width="4"/>
<line x1="522.0" y1="1242.2" x2="563.0" y2="1242.2" stroke="#d3d3d3" stroke-width="4"/>
<line x1="522.0" y1="835.5" x2="563.0" y2="835.5" stroke="#000" stroke-width="4"/>
<text transform="translate(521.5,853.5) scale(0.975,1)" font-size="56.5" text-anchor="end">0°</text>
<line x1="522.0" y1="998.2" x2="563.0" y2="998.2" stroke="#000" stroke-width="4"/>
<text transform="translate(521.5,1020.2) scale(0.975,1)" font-size="56.5" text-anchor="end">20°S</text>
<line x1="522.0" y1="1160.9" x2="563.0" y2="1160.9" stroke="#000" stroke-width="4"/>
<text transform="translate(521.5,1182.4) scale(0.975,1)" font-size="56.5" text-anchor="end">40°S</text>
<line x1="571.0" y1="1331.5" x2="1064.0" y2="1331.5" stroke="#000" stroke-width="4"/>
<line x1="577.6" y1="1313.5" x2="577.6" y2="1345.5" stroke="#d3d3d3" stroke-width="4"/>
<line x1="740.4" y1="1313.5" x2="740.4" y2="1345.5" stroke="#d3d3d3" stroke-width="4"/>
<line x1="903.0" y1="1313.5" x2="903.0" y2="1345.5" stroke="#d3d3d3" stroke-width="4"/>
<line x1="659.0" y1="1313.5" x2="659.0" y2="1345.5" stroke="#000" stroke-width="4"/>
<text transform="translate(657.0,1390.1) scale(0.965,1)" font-size="56.5" text-anchor="middle">80°W</text>
<line x1="821.7" y1="1313.5" x2="821.7" y2="1345.5" stroke="#000" stroke-width="4"/>
<text transform="translate(819.7,1390.1) scale(0.965,1)" font-size="56.5" text-anchor="middle">60°W</text>
<line x1="984.4" y1="1313.5" x2="984.4" y2="1345.5" stroke="#000" stroke-width="4"/>
<text transform="translate(982.4,1390.1) scale(0.965,1)" font-size="56.5" text-anchor="middle">40°W</text>
</g>
<clipPath id="clipb"><rect x="575.0" y="727.5" width="489.0" height="575.0"/></clipPath>
<g clip-path="url(#clipb)">
<path fill="#00FF20" d="M575 727.5h12v4h-12zM651 727.5h12v4h-12zM575 731.5h12v4h-12zM651 731.5h12v4h-12zM575 735.5h12v4h-12zM651 735.5h12v4h-12zM583 739.5h4v4h-4zM651 739.5h8v4h-8zM651 743.5h8v4h-8zM651 747.5h8v4h-8zM651 751.5h8v4h-8zM951 827.5h4v4h-4zM947 831.5h16v4h-16zM943 835.5h16v4h-16zM939 839.5h16v4h-16zM939 843.5h12v4h-12zM931 847.5h16v4h-16zM923 851.5h20v4h-20zM923 855.5h16v4h-16zM923 859.5h12v4h-12zM1027 859.5h4v4h-4zM923 863.5h8v4h-8zM1027 863.5h8v4h-8zM843 867.5h36v4h-36zM1027 867.5h8v4h-8zM843 871.5h40v4h-40zM843 875.5h16v4h-16zM867 875.5h16v4h-16zM831 879.5h12v4h-12zM847 879.5h8v4h-8zM871 879.5h8v4h-8zM831 883.5h24v4h-24zM871 883.5h8v4h-8zM899 883.5h28v4h-28zM827 887.5h28v4h-28zM871 887.5h8v4h-8zM903 887.5h28v4h-28zM831 891.5h20v4h-20zM871 891.5h8v4h-8zM907 891.5h8v4h-8zM927 891.5h4v4h-4zM831 895.5h12v4h-12zM871 895.5h8v4h-8zM907 895.5h8v4h-8zM923 895.5h8v4h-8zM811 899.5h28v4h-28zM871 899.5h8v4h-8zM911 899.5h16v4h-16zM807 903.5h28v4h-28zM871 903.5h8v4h-8zM791 907.5h40v4h-40zM871 907.5h8v4h-8zM963 907.5h4v4h-4zM787 911.5h4v4h-4zM799 911.5h28v4h-28zM871 911.5h8v4h-8zM959 911.5h16v4h-16zM667 915.5h4v4h-4zM803 915.5h8v4h-8zM815 915.5h12v4h-12zM871 915.5h8v4h-8zM883 915.5h12v4h-12zM959 915.5h16v4h-16zM991 915.5h20v4h-20zM663 919.5h12v4h-12zM803 919.5h8v4h-8zM815 919.5h12v4h-12zM871 919.5h24v4h-24zM979 919.5h16v4h-16zM1007 919.5h8v4h-8zM663 923.5h12v4h-12zM787 923.5h4v4h-4zM799 923.5h12v4h-12zM815 923.5h12v4h-12zM875 923.5h20v4h-20zM983 923.5h8v4h-8zM1011 923.5h8v4h-8zM663 927.5h12v4h-12zM687 927.5h12v4h-12zM791 927.5h20v4h-20zM815 927.5h36v4h-36zM887 927.5h8v4h-8zM983 927.5h12v4h-12zM1003 927.5h20v4h-20zM663 931.5h4v4h-4zM683 931.5h16v4h-16zM799 931.5h16v4h-16zM847 931.5h12v4h-12zM887 931.5h8v4h-8zM1011 931.5h12v4h-12zM683 935.5h8v4h-8zM695 935.5h4v4h-4zM803 935.5h8v4h-8zM851 935.5h12v4h-12zM887 935.5h8v4h-8zM683 939.5h8v4h-8zM695 939.5h4v4h-4zM799 939.5h12v4h-12zM851 939.5h16v4h-16zM887 939.5h8v4h-8zM683 943.5h16v4h-16zM799 943.5h12v4h-12zM847 943.5h24v4h-24zM887 943.5h8v4h-8zM683 947.5h16v4h-16zM799 947.5h16v4h-16zM847 947.5h12v4h-12zM863 947.5h8v4h-8zM887 947.5h8v4h-8zM911 947.5h16v4h-16zM943 947.5h16v4h-16zM683 951.5h16v4h-16zM795 951.5h8v4h-8zM811 951.5h4v4h-4zM847 951.5h12v4h-12zM867 951.5h8v4h-8zM887 951.5h60v4h-60zM959 951.5h4v4h-4zM687 955.5h16v4h-16zM795 955.5h8v4h-8zM811 955.5h4v4h-4zM847 955.5h12v4h-12zM867 955.5h28v4h-28zM919 955.5h24v4h-24zM959 955.5h4v4h-4zM687 959.5h16v4h-16zM739 959.5h20v4h-20zM795 959.5h8v4h-8zM811 959.5h4v4h-4zM847 959.5h12v4h-12zM875 959.5h12v4h-12zM919 959.5h24v4h-24zM683 963.5h16v4h-16zM731 963.5h32v4h-32zM799 963.5h16v4h-16zM847 963.5h16v4h-16zM879 963.5h12v4h-12zM915 963.5h24v4h-24zM683 967.5h8v4h-8zM731 967.5h36v4h-36zM847 967.5h16v4h-16zM879 967.5h12v4h-12zM915 967.5h8v4h-8zM931 967.5h8v4h-8zM731 971.5h36v4h-36zM847 971.5h16v4h-16zM883 971.5h20v4h-20zM907 971.5h16v4h-16zM931 971.5h8v4h-8zM731 975.5h12v4h-12zM747 975.5h20v4h-20zM831 975.5h16v4h-16zM859 975.5h12v4h-12zM883 975.5h36v4h-36zM931 975.5h8v4h-8zM731 979.5h32v4h-32zM831 979.5h16v4h-16zM863 979.5h16v4h-16zM895 979.5h16v4h-16zM927 979.5h12v4h-12zM731 983.5h16v4h-16zM751 983.5h16v4h-16zM831 983.5h16v4h-16zM863 983.5h12v4h-12zM883 983.5h24v4h-24zM927 983.5h12v4h-12zM955 983.5h4v4h-4zM727 987.5h20v4h-20zM755 987.5h12v4h-12zM831 987.5h16v4h-16zM879 987.5h28v4h-28zM927 987.5h16v4h-16zM951 987.5h4v4h-4zM727 991.5h4v4h-4zM739 991.5h8v4h-8zM755 991.5h12v4h-12zM831 991.5h12v4h-12zM879 991.5h12v4h-12zM899 991.5h12v4h-12zM927 991.5h24v4h-24zM723 995.5h8v4h-8zM739 995.5h8v4h-8zM759 995.5h8v4h-8zM831 995.5h16v4h-16zM879 995.5h8v4h-8zM903 995.5h8v4h-8zM927 995.5h20v4h-20zM723 999.5h4v4h-4zM743 999.5h8v4h-8zM831 999.5h20v4h-20zM855 999.5h12v4h-12zM875 999.5h12v4h-12zM903 999.5h8v4h-8zM719 1003.5h8v4h-8zM743 1003.5h8v4h-8zM827 1003.5h8v4h-8zM839 1003.5h48v4h-48zM899 1003.5h12v4h-12zM719 1007.5h4v4h-4zM743 1007.5h8v4h-8zM827 1007.5h4v4h-4zM839 1007.5h68v4h-68zM919 1007.5h8v4h-8zM743 1011.5h4v4h-4zM831 1011.5h16v4h-16zM859 1011.5h44v4h-44zM911 1011.5h16v4h-16zM735 1015.5h12v4h-12zM835 1015.5h4v4h-4zM907 1015.5h20v4h-20zM727 1019.5h12v4h-12zM907 1019.5h24v4h-24zM727 1023.5h8v4h-8zM907 1023.5h32v4h-32zM723 1027.5h8v4h-8zM907 1027.5h36v4h-36zM723 1031.5h8v4h-8zM931 1031.5h12v4h-12zM723 1035.5h12v4h-12zM715 1039.5h20v4h-20zM715 1043.5h20v4h-20zM727 1095.5h4v4h-4zM723 1099.5h8v4h-8zM723 1103.5h4v4h-4zM703 1111.5h12v4h-12zM699 1115.5h16v4h-16zM695 1119.5h16v4h-16zM695 1123.5h12v4h-12zM763 1191.5h4v4h-4zM763 1195.5h8v4h-8zM767 1199.5h8v4h-8zM775 1203.5h16v4h-16zM779 1207.5h8v4h-8zM675 1255.5h8v4h-8zM679 1259.5h4v4h-4zM679 1263.5h4v4h-4zM679 1267.5h4v4h-4zM715 1291.5h4v4h-4z"/>
<path fill="#00FF00" d="M587 727.5h4v4h-4zM647 727.5h4v4h-4zM587 731.5h4v4h-4zM647 731.5h4v4h-4zM587 735.5h4v4h-4zM647 735.5h4v4h-4zM587 739.5h4v4h-4zM647 739.5h4v4h-4zM659 739.5h4v4h-4zM587 743.5h4v4h-4zM647 743.5h4v4h-4zM659 743.5h4v4h-4zM591 747.5h4v4h-4zM647 747.5h4v4h-4zM591 751.5h4v4h-4zM647 751.5h4v4h-4zM651 755.5h8v4h-8zM651 759.5h12v4h-12zM659 763.5h4v4h-4zM743 827.5h8v4h-8zM947 827.5h4v4h-4zM743 831.5h8v4h-8zM943 831.5h4v4h-4zM743 835.5h8v4h-8zM939 835.5h4v4h-4zM959 835.5h8v4h-8zM935 839.5h4v4h-4zM955 839.5h4v4h-4zM931 843.5h8v4h-8zM951 843.5h4v4h-4zM923 847.5h8v4h-8zM947 847.5h4v4h-4zM919 851.5h4v4h-4zM943 851.5h4v4h-4zM919 855.5h4v4h-4zM939 855.5h4v4h-4zM843 859.5h8v4h-8zM871 859.5h8v4h-8zM919 859.5h4v4h-4zM935 859.5h4v4h-4zM1023 859.5h4v4h-4zM839 863.5h44v4h-44zM919 863.5h4v4h-4zM931 863.5h4v4h-4zM1023 863.5h4v4h-4zM835 867.5h8v4h-8zM879 867.5h8v4h-8zM919 867.5h16v4h-16zM1019 867.5h8v4h-8zM831 871.5h12v4h-12zM883 871.5h8v4h-8zM919 871.5h16v4h-16zM1023 871.5h16v4h-16zM827 875.5h16v4h-16zM883 875.5h20v4h-20zM915 875.5h20v4h-20zM827 879.5h4v4h-4zM843 879.5h4v4h-4zM879 879.5h56v4h-56zM823 883.5h8v4h-8zM879 883.5h20v4h-20zM927 883.5h8v4h-8zM823 887.5h4v4h-4zM879 887.5h24v4h-24zM931 887.5h4v4h-4zM819 891.5h12v4h-12zM879 891.5h8v4h-8zM899 891.5h8v4h-8zM931 891.5h4v4h-4zM811 895.5h20v4h-20zM879 895.5h4v4h-4zM903 895.5h4v4h-4zM807 899.5h4v4h-4zM879 899.5h4v4h-4zM907 899.5h4v4h-4zM927 899.5h4v4h-4zM799 903.5h8v4h-8zM879 903.5h4v4h-4zM915 903.5h8v4h-8zM963 903.5h4v4h-4zM787 907.5h4v4h-4zM879 907.5h8v4h-8zM959 907.5h4v4h-4zM967 907.5h8v4h-8zM659 911.5h12v4h-12zM783 911.5h4v4h-4zM879 911.5h20v4h-20zM955 911.5h4v4h-4zM975 911.5h36v4h-36zM659 915.5h8v4h-8zM671 915.5h4v4h-4zM783 915.5h4v4h-4zM811 915.5h4v4h-4zM879 915.5h4v4h-4zM895 915.5h4v4h-4zM955 915.5h4v4h-4zM975 915.5h16v4h-16zM1011 915.5h4v4h-4zM659 919.5h4v4h-4zM675 919.5h4v4h-4zM783 919.5h4v4h-4zM811 919.5h4v4h-4zM895 919.5h4v4h-4zM963 919.5h16v4h-16zM1015 919.5h4v4h-4zM659 923.5h4v4h-4zM675 923.5h24v4h-24zM783 923.5h4v4h-4zM811 923.5h4v4h-4zM895 923.5h4v4h-4zM975 923.5h8v4h-8zM1019 923.5h8v4h-8zM659 927.5h4v4h-4zM675 927.5h12v4h-12zM699 927.5h4v4h-4zM787 927.5h4v4h-4zM811 927.5h4v4h-4zM895 927.5h4v4h-4zM979 927.5h4v4h-4zM1023 927.5h8v4h-8zM667 931.5h16v4h-16zM699 931.5h4v4h-4zM787 931.5h12v4h-12zM815 931.5h32v4h-32zM895 931.5h4v4h-4zM983 931.5h28v4h-28zM1023 931.5h4v4h-4zM667 935.5h16v4h-16zM699 935.5h4v4h-4zM791 935.5h12v4h-12zM811 935.5h40v4h-40zM895 935.5h4v4h-4zM671 939.5h12v4h-12zM699 939.5h4v4h-4zM791 939.5h8v4h-8zM811 939.5h12v4h-12zM839 939.5h12v4h-12zM895 939.5h4v4h-4zM671 943.5h12v4h-12zM699 943.5h4v4h-4zM795 943.5h4v4h-4zM811 943.5h8v4h-8zM839 943.5h8v4h-8zM895 943.5h16v4h-16zM935 943.5h24v4h-24zM675 947.5h8v4h-8zM699 947.5h4v4h-4zM795 947.5h4v4h-4zM815 947.5h4v4h-4zM839 947.5h8v4h-8zM859 947.5h4v4h-4zM895 947.5h16v4h-16zM927 947.5h16v4h-16zM959 947.5h4v4h-4zM675 951.5h8v4h-8zM699 951.5h4v4h-4zM743 951.5h8v4h-8zM815 951.5h4v4h-4zM839 951.5h8v4h-8zM859 951.5h8v4h-8zM675 955.5h12v4h-12zM735 955.5h28v4h-28zM815 955.5h4v4h-4zM839 955.5h8v4h-8zM859 955.5h8v4h-8zM679 959.5h8v4h-8zM703 959.5h4v4h-4zM731 959.5h8v4h-8zM759 959.5h8v4h-8zM815 959.5h4v4h-4zM843 959.5h4v4h-4zM859 959.5h16v4h-16zM959 959.5h4v4h-4zM679 963.5h4v4h-4zM699 963.5h8v4h-8zM727 963.5h4v4h-4zM763 963.5h8v4h-8zM795 963.5h4v4h-4zM815 963.5h4v4h-4zM839 963.5h8v4h-8zM863 963.5h16v4h-16zM959 963.5h4v4h-4zM691 967.5h12v4h-12zM723 967.5h8v4h-8zM767 967.5h4v4h-4zM795 967.5h16v4h-16zM839 967.5h8v4h-8zM863 967.5h16v4h-16zM923 967.5h8v4h-8zM959 967.5h4v4h-4zM687 971.5h8v4h-8zM723 971.5h8v4h-8zM767 971.5h4v4h-4zM795 971.5h8v4h-8zM831 971.5h16v4h-16zM863 971.5h20v4h-20zM923 971.5h8v4h-8zM959 971.5h4v4h-4zM723 975.5h8v4h-8zM743 975.5h4v4h-4zM767 975.5h4v4h-4zM827 975.5h4v4h-4zM847 975.5h12v4h-12zM871 975.5h12v4h-12zM919 975.5h12v4h-12zM959 975.5h4v4h-4zM723 979.5h8v4h-8zM763 979.5h8v4h-8zM827 979.5h4v4h-4zM847 979.5h16v4h-16zM879 979.5h16v4h-16zM911 979.5h16v4h-16zM959 979.5h4v4h-4zM723 983.5h8v4h-8zM747 983.5h4v4h-4zM767 983.5h4v4h-4zM827 983.5h4v4h-4zM847 983.5h16v4h-16zM875 983.5h8v4h-8zM907 983.5h20v4h-20zM959 983.5h4v4h-4zM723 987.5h4v4h-4zM747 987.5h8v4h-8zM767 987.5h4v4h-4zM827 987.5h4v4h-4zM847 987.5h32v4h-32zM907 987.5h20v4h-20zM955 987.5h4v4h-4zM723 991.5h4v4h-4zM747 991.5h8v4h-8zM767 991.5h8v4h-8zM827 991.5h4v4h-4zM843 991.5h36v4h-36zM911 991.5h16v4h-16zM951 991.5h4v4h-4zM747 995.5h12v4h-12zM767 995.5h8v4h-8zM827 995.5h4v4h-4zM847 995.5h32v4h-32zM911 995.5h16v4h-16zM947 995.5h4v4h-4zM719 999.5h4v4h-4zM751 999.5h24v4h-24zM827 999.5h4v4h-4zM851 999.5h4v4h-4zM867 999.5h8v4h-8zM911 999.5h36v4h-36zM751 1003.5h28v4h-28zM911 1003.5h28v4h-28zM751 1007.5h4v4h-4zM771 1007.5h12v4h-12zM907 1007.5h12v4h-12zM927 1007.5h8v4h-8zM747 1011.5h8v4h-8zM771 1011.5h16v4h-16zM827 1011.5h4v4h-4zM847 1011.5h12v4h-12zM903 1011.5h8v4h-8zM927 1011.5h8v4h-8zM747 1015.5h4v4h-4zM775 1015.5h12v4h-12zM827 1015.5h8v4h-8zM839 1015.5h68v4h-68zM927 1015.5h8v4h-8zM739 1019.5h8v4h-8zM779 1019.5h8v4h-8zM855 1019.5h12v4h-12zM895 1019.5h12v4h-12zM931 1019.5h8v4h-8zM735 1023.5h8v4h-8zM899 1023.5h8v4h-8zM939 1023.5h8v4h-8zM731 1027.5h8v4h-8zM903 1027.5h4v4h-4zM943 1027.5h4v4h-4zM971 1027.5h12v4h-12zM731 1031.5h8v4h-8zM907 1031.5h24v4h-24zM943 1031.5h4v4h-4zM971 1031.5h4v4h-4zM735 1035.5h4v4h-4zM927 1035.5h20v4h-20zM735 1039.5h8v4h-8zM735 1043.5h8v4h-8zM715 1047.5h24v4h-24zM727 1087.5h8v4h-8zM723 1091.5h12v4h-12zM723 1095.5h4v4h-4zM731 1095.5h8v4h-8zM719 1099.5h4v4h-4zM731 1099.5h4v4h-4zM707 1103.5h16v4h-16zM727 1103.5h8v4h-8zM703 1107.5h28v4h-28zM715 1111.5h8v4h-8zM715 1115.5h4v4h-4zM783 1115.5h4v4h-4zM711 1119.5h4v4h-4zM783 1119.5h4v4h-4zM707 1123.5h4v4h-4zM691 1127.5h20v4h-20zM691 1131.5h16v4h-16zM783 1163.5h12v4h-12zM783 1167.5h16v4h-16zM783 1171.5h28v4h-28zM815 1171.5h4v4h-4zM787 1175.5h28v4h-28zM791 1179.5h20v4h-20zM759 1191.5h4v4h-4zM767 1191.5h8v4h-8zM759 1195.5h4v4h-4zM771 1195.5h8v4h-8zM763 1199.5h4v4h-4zM775 1199.5h16v4h-16zM767 1203.5h8v4h-8zM775 1207.5h4v4h-4zM783 1211.5h4v4h-4zM675 1251.5h16v4h-16zM683 1255.5h8v4h-8zM683 1259.5h8v4h-8zM683 1263.5h8v4h-8zM683 1267.5h8v4h-8zM683 1271.5h8v4h-8zM687 1275.5h4v4h-4zM711 1287.5h8v4h-8zM719 1291.5h4v4h-4z"/>
<path fill="#00FFB0" d="M591 727.5h4v4h-4zM643 727.5h4v4h-4zM707 727.5h4v4h-4zM591 731.5h4v4h-4zM643 731.5h4v4h-4zM707 731.5h4v4h-4zM643 735.5h4v4h-4zM595 739.5h4v4h-4zM643 739.5h4v4h-4zM663 739.5h4v4h-4zM595 743.5h4v4h-4zM643 743.5h4v4h-4zM663 743.5h4v4h-4zM599 747.5h4v4h-4zM643 747.5h4v4h-4zM599 751.5h4v4h-4zM643 751.5h4v4h-4zM663 755.5h4v4h-4zM603 759.5h4v4h-4zM647 759.5h4v4h-4zM667 763.5h4v4h-4zM651 767.5h8v4h-8zM667 767.5h4v4h-4zM755 775.5h12v4h-12zM755 779.5h12v4h-12zM755 783.5h12v4h-12zM759 787.5h12v4h-12zM759 791.5h12v4h-12zM703 795.5h8v4h-8zM759 795.5h12v4h-12zM855 795.5h8v4h-8zM699 799.5h12v4h-12zM759 799.5h8v4h-8zM855 799.5h12v4h-12zM703 803.5h12v4h-12zM759 803.5h8v4h-8zM855 803.5h12v4h-12zM711 807.5h20v4h-20zM855 807.5h8v4h-8zM715 811.5h4v4h-4zM723 811.5h8v4h-8zM715 815.5h4v4h-4zM723 815.5h8v4h-8zM743 815.5h8v4h-8zM739 819.5h16v4h-16zM739 823.5h4v4h-4zM751 823.5h4v4h-4zM907 823.5h4v4h-4zM907 827.5h8v4h-8zM939 827.5h4v4h-4zM903 831.5h12v4h-12zM935 831.5h4v4h-4zM903 835.5h12v4h-12zM931 835.5h4v4h-4zM971 835.5h12v4h-12zM751 839.5h4v4h-4zM907 839.5h16v4h-16zM927 839.5h4v4h-4zM971 839.5h12v4h-12zM739 843.5h12v4h-12zM907 843.5h16v4h-16zM963 843.5h20v4h-20zM839 847.5h12v4h-12zM871 847.5h12v4h-12zM907 847.5h8v4h-8zM959 847.5h24v4h-24zM835 851.5h20v4h-20zM867 851.5h20v4h-20zM911 851.5h4v4h-4zM955 851.5h28v4h-28zM779 855.5h8v4h-8zM835 855.5h4v4h-4zM855 855.5h16v4h-16zM883 855.5h4v4h-4zM911 855.5h4v4h-4zM951 855.5h28v4h-28zM1019 855.5h4v4h-4zM783 859.5h4v4h-4zM831 859.5h4v4h-4zM887 859.5h4v4h-4zM911 859.5h4v4h-4zM947 859.5h28v4h-28zM1015 859.5h4v4h-4zM831 863.5h4v4h-4zM891 863.5h4v4h-4zM911 863.5h4v4h-4zM943 863.5h28v4h-28zM1015 863.5h4v4h-4zM827 867.5h4v4h-4zM895 867.5h20v4h-20zM939 867.5h32v4h-32zM1015 867.5h4v4h-4zM823 871.5h4v4h-4zM939 871.5h36v4h-36zM1015 871.5h4v4h-4zM823 875.5h4v4h-4zM939 875.5h12v4h-12zM959 875.5h20v4h-20zM1015 875.5h4v4h-4zM819 879.5h4v4h-4zM939 879.5h8v4h-8zM967 879.5h12v4h-12zM1019 879.5h8v4h-8zM1035 879.5h8v4h-8zM819 883.5h4v4h-4zM939 883.5h8v4h-8zM967 883.5h16v4h-16zM1019 883.5h24v4h-24zM815 887.5h4v4h-4zM939 887.5h4v4h-4zM967 887.5h16v4h-16zM1023 887.5h24v4h-24zM723 891.5h4v4h-4zM807 891.5h4v4h-4zM967 891.5h16v4h-16zM1019 891.5h28v4h-28zM655 895.5h8v4h-8zM719 895.5h12v4h-12zM799 895.5h8v4h-8zM891 895.5h8v4h-8zM935 895.5h4v4h-4zM959 895.5h24v4h-24zM1019 895.5h28v4h-28zM647 899.5h4v4h-4zM663 899.5h4v4h-4zM719 899.5h12v4h-12zM787 899.5h12v4h-12zM891 899.5h12v4h-12zM955 899.5h8v4h-8zM971 899.5h16v4h-16zM1015 899.5h32v4h-32zM647 903.5h4v4h-4zM663 903.5h4v4h-4zM715 903.5h8v4h-8zM727 903.5h4v4h-4zM783 903.5h4v4h-4zM891 903.5h12v4h-12zM927 903.5h4v4h-4zM979 903.5h44v4h-44zM1031 903.5h16v4h-16zM671 907.5h4v4h-4zM703 907.5h16v4h-16zM727 907.5h4v4h-4zM903 907.5h20v4h-20zM951 907.5h4v4h-4zM1011 907.5h8v4h-8zM651 911.5h4v4h-4zM675 911.5h4v4h-4zM699 911.5h20v4h-20zM727 911.5h4v4h-4zM779 911.5h4v4h-4zM903 911.5h4v4h-4zM1015 911.5h4v4h-4zM683 915.5h44v4h-44zM779 915.5h4v4h-4zM903 915.5h4v4h-4zM947 915.5h4v4h-4zM1019 915.5h4v4h-4zM703 919.5h8v4h-8zM779 919.5h4v4h-4zM903 919.5h4v4h-4zM947 919.5h8v4h-8zM1023 919.5h8v4h-8zM703 923.5h4v4h-4zM779 923.5h4v4h-4zM903 923.5h4v4h-4zM947 923.5h20v4h-20zM1031 923.5h4v4h-4zM703 927.5h4v4h-4zM903 927.5h4v4h-4zM943 927.5h8v4h-8zM971 927.5h4v4h-4zM703 931.5h4v4h-4zM903 931.5h4v4h-4zM939 931.5h12v4h-12zM975 931.5h4v4h-4zM703 935.5h4v4h-4zM783 935.5h4v4h-4zM903 935.5h8v4h-8zM935 935.5h8v4h-8zM947 935.5h8v4h-8zM983 935.5h8v4h-8zM703 939.5h4v4h-4zM783 939.5h4v4h-4zM907 939.5h12v4h-12zM927 939.5h8v4h-8zM955 939.5h8v4h-8zM703 943.5h4v4h-4zM787 943.5h4v4h-4zM827 943.5h4v4h-4zM963 943.5h4v4h-4zM703 947.5h4v4h-4zM735 947.5h20v4h-20zM787 947.5h4v4h-4zM823 947.5h12v4h-12zM731 951.5h4v4h-4zM759 951.5h8v4h-8zM787 951.5h4v4h-4zM823 951.5h12v4h-12zM707 955.5h4v4h-4zM727 955.5h4v4h-4zM767 955.5h4v4h-4zM787 955.5h4v4h-4zM823 955.5h12v4h-12zM707 959.5h8v4h-8zM723 959.5h4v4h-4zM771 959.5h4v4h-4zM787 959.5h4v4h-4zM823 959.5h12v4h-12zM963 959.5h4v4h-4zM711 963.5h12v4h-12zM771 963.5h4v4h-4zM787 963.5h4v4h-4zM823 963.5h12v4h-12zM963 963.5h4v4h-4zM711 967.5h8v4h-8zM775 967.5h4v4h-4zM783 967.5h4v4h-4zM819 967.5h8v4h-8zM699 971.5h16v4h-16zM775 971.5h12v4h-12zM807 971.5h4v4h-4zM819 971.5h8v4h-8zM695 975.5h4v4h-4zM711 975.5h4v4h-4zM775 975.5h12v4h-12zM799 975.5h4v4h-4zM823 975.5h4v4h-4zM715 979.5h4v4h-4zM775 979.5h16v4h-16zM795 979.5h4v4h-4zM823 979.5h4v4h-4zM715 983.5h4v4h-4zM775 983.5h16v4h-16zM715 987.5h4v4h-4zM779 987.5h4v4h-4zM779 991.5h4v4h-4zM959 991.5h4v4h-4zM779 995.5h4v4h-4zM959 995.5h4v4h-4zM955 999.5h8v4h-8zM783 1003.5h4v4h-4zM947 1003.5h12v4h-12zM943 1007.5h8v4h-8zM759 1011.5h8v4h-8zM787 1011.5h4v4h-4zM823 1011.5h4v4h-4zM939 1011.5h8v4h-8zM755 1015.5h16v4h-16zM787 1015.5h4v4h-4zM823 1015.5h4v4h-4zM943 1015.5h8v4h-8zM751 1019.5h8v4h-8zM767 1019.5h4v4h-4zM823 1019.5h8v4h-8zM947 1019.5h4v4h-4zM967 1019.5h16v4h-16zM751 1023.5h4v4h-4zM771 1023.5h4v4h-4zM791 1023.5h4v4h-4zM835 1023.5h16v4h-16zM867 1023.5h12v4h-12zM883 1023.5h8v4h-8zM951 1023.5h4v4h-4zM967 1023.5h4v4h-4zM983 1023.5h4v4h-4zM747 1027.5h4v4h-4zM775 1027.5h40v4h-40zM847 1027.5h20v4h-20zM891 1027.5h4v4h-4zM951 1027.5h4v4h-4zM963 1027.5h4v4h-4zM747 1031.5h4v4h-4zM779 1031.5h28v4h-28zM811 1031.5h8v4h-8zM895 1031.5h8v4h-8zM951 1031.5h4v4h-4zM963 1031.5h4v4h-4zM747 1035.5h4v4h-4zM799 1035.5h8v4h-8zM811 1035.5h8v4h-8zM903 1035.5h4v4h-4zM951 1035.5h12v4h-12zM747 1039.5h4v4h-4zM807 1039.5h12v4h-12zM911 1039.5h12v4h-12zM947 1039.5h8v4h-8zM747 1043.5h4v4h-4zM927 1043.5h16v4h-16zM739 1051.5h8v4h-8zM715 1055.5h28v4h-28zM783 1055.5h4v4h-4zM783 1059.5h8v4h-8zM783 1063.5h12v4h-12zM787 1067.5h8v4h-8zM731 1075.5h4v4h-4zM759 1075.5h12v4h-12zM727 1079.5h12v4h-12zM723 1083.5h4v4h-4zM735 1083.5h4v4h-4zM719 1087.5h4v4h-4zM739 1087.5h4v4h-4zM715 1091.5h4v4h-4zM739 1091.5h4v4h-4zM707 1095.5h8v4h-8zM739 1095.5h4v4h-4zM739 1099.5h4v4h-4zM787 1103.5h8v4h-8zM735 1107.5h4v4h-4zM783 1107.5h4v4h-4zM791 1107.5h4v4h-4zM831 1107.5h4v4h-4zM727 1111.5h4v4h-4zM779 1111.5h4v4h-4zM791 1111.5h4v4h-4zM719 1115.5h4v4h-4zM791 1115.5h4v4h-4zM775 1119.5h4v4h-4zM791 1119.5h4v4h-4zM715 1123.5h4v4h-4zM791 1123.5h4v4h-4zM779 1127.5h16v4h-16zM711 1131.5h4v4h-4zM787 1131.5h8v4h-8zM711 1135.5h4v4h-4zM791 1135.5h4v4h-4zM691 1139.5h24v4h-24zM791 1139.5h8v4h-8zM831 1139.5h4v4h-4zM691 1143.5h20v4h-20zM791 1143.5h8v4h-8zM691 1147.5h16v4h-16zM791 1147.5h8v4h-8zM691 1151.5h12v4h-12zM787 1151.5h12v4h-12zM691 1155.5h16v4h-16zM783 1155.5h16v4h-16zM691 1159.5h16v4h-16zM779 1159.5h4v4h-4zM795 1159.5h4v4h-4zM691 1163.5h20v4h-20zM799 1163.5h4v4h-4zM687 1167.5h28v4h-28zM807 1167.5h8v4h-8zM687 1171.5h24v4h-24zM779 1171.5h4v4h-4zM687 1175.5h24v4h-24zM779 1175.5h4v4h-4zM683 1179.5h16v4h-16zM779 1179.5h8v4h-8zM683 1183.5h12v4h-12zM783 1183.5h8v4h-8zM683 1187.5h8v4h-8zM755 1187.5h4v4h-4zM775 1187.5h4v4h-4zM787 1187.5h16v4h-16zM683 1191.5h4v4h-4zM779 1191.5h20v4h-20zM767 1207.5h4v4h-4zM771 1211.5h4v4h-4zM683 1235.5h16v4h-16zM675 1239.5h16v4h-16zM695 1239.5h8v4h-8zM675 1243.5h8v4h-8zM699 1243.5h4v4h-4zM699 1247.5h4v4h-4zM699 1251.5h4v4h-4zM695 1255.5h8v4h-8zM695 1259.5h8v4h-8zM695 1263.5h8v4h-8zM695 1267.5h8v4h-8zM695 1271.5h8v4h-8zM695 1275.5h8v4h-8zM695 1279.5h20v4h-20zM699 1283.5h8v4h-8zM719 1283.5h4v4h-4zM723 1287.5h4v4h-4zM723 1291.5h4v4h-4z"/>
<path fill="#00FFFF" d="M595 727.5h4v4h-4zM699 727.5h8v4h-8zM711 727.5h8v4h-8zM595 731.5h4v4h-4zM699 731.5h8v4h-8zM711 731.5h8v4h-8zM595 735.5h4v4h-4zM667 735.5h4v4h-4zM703 735.5h12v4h-12zM599 739.5h4v4h-4zM599 743.5h4v4h-4zM663 747.5h4v4h-4zM603 751.5h4v4h-4zM663 751.5h4v4h-4zM783 751.5h8v4h-8zM603 755.5h4v4h-4zM643 755.5h4v4h-4zM783 755.5h4v4h-4zM667 759.5h4v4h-4zM647 763.5h4v4h-4zM671 763.5h4v4h-4zM875 763.5h4v4h-4zM647 767.5h4v4h-4zM671 767.5h4v4h-4zM871 767.5h16v4h-16zM651 771.5h12v4h-12zM755 771.5h12v4h-12zM851 771.5h28v4h-28zM751 775.5h4v4h-4zM851 775.5h20v4h-20zM751 779.5h4v4h-4zM767 779.5h4v4h-4zM855 779.5h12v4h-12zM715 783.5h12v4h-12zM751 783.5h4v4h-4zM767 783.5h4v4h-4zM855 783.5h12v4h-12zM711 787.5h16v4h-16zM751 787.5h8v4h-8zM771 787.5h4v4h-4zM855 787.5h12v4h-12zM707 791.5h24v4h-24zM751 791.5h8v4h-8zM771 791.5h4v4h-4zM855 791.5h12v4h-12zM699 795.5h4v4h-4zM711 795.5h24v4h-24zM751 795.5h8v4h-8zM771 795.5h4v4h-4zM851 795.5h4v4h-4zM863 795.5h4v4h-4zM695 799.5h4v4h-4zM711 799.5h28v4h-28zM751 799.5h8v4h-8zM767 799.5h4v4h-4zM847 799.5h8v4h-8zM699 803.5h4v4h-4zM715 803.5h24v4h-24zM751 803.5h8v4h-8zM767 803.5h4v4h-4zM847 803.5h8v4h-8zM867 803.5h4v4h-4zM707 807.5h4v4h-4zM731 807.5h12v4h-12zM751 807.5h16v4h-16zM851 807.5h4v4h-4zM863 807.5h8v4h-8zM711 811.5h4v4h-4zM731 811.5h28v4h-28zM855 811.5h16v4h-16zM731 815.5h12v4h-12zM751 815.5h4v4h-4zM859 815.5h12v4h-12zM903 815.5h20v4h-20zM719 819.5h20v4h-20zM859 819.5h16v4h-16zM899 819.5h24v4h-24zM735 823.5h4v4h-4zM755 823.5h4v4h-4zM859 823.5h20v4h-20zM899 823.5h8v4h-8zM911 823.5h8v4h-8zM735 827.5h4v4h-4zM755 827.5h4v4h-4zM859 827.5h24v4h-24zM899 827.5h8v4h-8zM915 827.5h4v4h-4zM935 827.5h4v4h-4zM735 831.5h4v4h-4zM755 831.5h4v4h-4zM855 831.5h28v4h-28zM899 831.5h4v4h-4zM915 831.5h4v4h-4zM931 831.5h4v4h-4zM735 835.5h4v4h-4zM755 835.5h4v4h-4zM851 835.5h32v4h-32zM899 835.5h4v4h-4zM915 835.5h8v4h-8zM927 835.5h4v4h-4zM983 835.5h4v4h-4zM735 839.5h4v4h-4zM839 839.5h48v4h-48zM899 839.5h8v4h-8zM923 839.5h4v4h-4zM983 839.5h12v4h-12zM735 843.5h4v4h-4zM751 843.5h4v4h-4zM835 843.5h52v4h-52zM903 843.5h4v4h-4zM983 843.5h8v4h-8zM735 847.5h16v4h-16zM831 847.5h8v4h-8zM851 847.5h20v4h-20zM883 847.5h4v4h-4zM903 847.5h4v4h-4zM983 847.5h8v4h-8zM739 851.5h4v4h-4zM779 851.5h8v4h-8zM831 851.5h4v4h-4zM855 851.5h12v4h-12zM887 851.5h4v4h-4zM903 851.5h8v4h-8zM983 851.5h4v4h-4zM775 855.5h4v4h-4zM787 855.5h4v4h-4zM831 855.5h4v4h-4zM887 855.5h8v4h-8zM903 855.5h8v4h-8zM979 855.5h8v4h-8zM1015 855.5h4v4h-4zM779 859.5h4v4h-4zM787 859.5h4v4h-4zM827 859.5h4v4h-4zM891 859.5h20v4h-20zM975 859.5h8v4h-8zM779 863.5h8v4h-8zM827 863.5h4v4h-4zM895 863.5h16v4h-16zM971 863.5h8v4h-8zM1011 863.5h4v4h-4zM779 867.5h8v4h-8zM823 867.5h4v4h-4zM971 867.5h8v4h-8zM1011 867.5h4v4h-4zM779 871.5h8v4h-8zM819 871.5h4v4h-4zM975 871.5h8v4h-8zM1011 871.5h4v4h-4zM779 875.5h8v4h-8zM819 875.5h4v4h-4zM951 875.5h8v4h-8zM979 875.5h4v4h-4zM1011 875.5h4v4h-4zM775 879.5h12v4h-12zM947 879.5h20v4h-20zM979 879.5h8v4h-8zM1011 879.5h8v4h-8zM723 883.5h4v4h-4zM775 883.5h12v4h-12zM815 883.5h4v4h-4zM947 883.5h20v4h-20zM983 883.5h8v4h-8zM1015 883.5h4v4h-4zM663 887.5h8v4h-8zM719 887.5h12v4h-12zM779 887.5h8v4h-8zM807 887.5h8v4h-8zM943 887.5h24v4h-24zM983 887.5h8v4h-8zM1015 887.5h8v4h-8zM659 891.5h12v4h-12zM719 891.5h4v4h-4zM727 891.5h4v4h-4zM783 891.5h8v4h-8zM799 891.5h8v4h-8zM939 891.5h8v4h-8zM951 891.5h16v4h-16zM983 891.5h8v4h-8zM1011 891.5h8v4h-8zM651 895.5h4v4h-4zM663 895.5h4v4h-4zM715 895.5h4v4h-4zM783 895.5h16v4h-16zM939 895.5h4v4h-4zM951 895.5h8v4h-8zM983 895.5h12v4h-12zM1007 895.5h12v4h-12zM667 899.5h4v4h-4zM703 899.5h16v4h-16zM731 899.5h4v4h-4zM783 899.5h4v4h-4zM935 899.5h4v4h-4zM951 899.5h4v4h-4zM987 899.5h28v4h-28zM667 903.5h4v4h-4zM695 903.5h20v4h-20zM731 903.5h4v4h-4zM931 903.5h4v4h-4zM951 903.5h4v4h-4zM1023 903.5h8v4h-8zM675 907.5h4v4h-4zM691 907.5h12v4h-12zM779 907.5h4v4h-4zM923 907.5h8v4h-8zM947 907.5h4v4h-4zM1019 907.5h24v4h-24zM679 911.5h20v4h-20zM907 911.5h8v4h-8zM947 911.5h4v4h-4zM1019 911.5h20v4h-20zM727 915.5h4v4h-4zM907 915.5h4v4h-4zM1023 915.5h16v4h-16zM711 919.5h20v4h-20zM943 919.5h4v4h-4zM1031 919.5h4v4h-4zM707 923.5h4v4h-4zM943 923.5h4v4h-4zM707 927.5h4v4h-4zM779 927.5h4v4h-4zM939 927.5h4v4h-4zM951 927.5h20v4h-20zM779 931.5h4v4h-4zM907 931.5h4v4h-4zM935 931.5h4v4h-4zM951 931.5h4v4h-4zM967 931.5h8v4h-8zM779 935.5h4v4h-4zM911 935.5h4v4h-4zM931 935.5h4v4h-4zM955 935.5h4v4h-4zM971 935.5h12v4h-12zM919 939.5h8v4h-8zM963 939.5h4v4h-4zM1011 939.5h8v4h-8zM735 943.5h8v4h-8zM783 943.5h4v4h-4zM967 943.5h4v4h-4zM731 947.5h4v4h-4zM755 947.5h8v4h-8zM783 947.5h4v4h-4zM967 947.5h4v4h-4zM707 951.5h4v4h-4zM727 951.5h4v4h-4zM767 951.5h4v4h-4zM783 951.5h4v4h-4zM967 951.5h4v4h-4zM711 955.5h4v4h-4zM723 955.5h4v4h-4zM771 955.5h4v4h-4zM783 955.5h4v4h-4zM715 959.5h8v4h-8zM775 959.5h12v4h-12zM775 963.5h12v4h-12zM779 967.5h4v4h-4zM963 967.5h4v4h-4zM811 971.5h8v4h-8zM963 971.5h4v4h-4zM699 975.5h12v4h-12zM803 975.5h4v4h-4zM819 975.5h4v4h-4zM963 975.5h4v4h-4zM707 979.5h8v4h-8zM799 979.5h4v4h-4zM819 979.5h4v4h-4zM963 979.5h4v4h-4zM711 983.5h4v4h-4zM791 983.5h8v4h-8zM963 983.5h4v4h-4zM783 987.5h8v4h-8zM819 987.5h4v4h-4zM963 987.5h4v4h-4zM783 991.5h4v4h-4zM819 991.5h4v4h-4zM963 991.5h4v4h-4zM783 995.5h4v4h-4zM819 995.5h4v4h-4zM963 995.5h8v4h-8zM783 999.5h4v4h-4zM819 999.5h4v4h-4zM963 999.5h16v4h-16zM999 999.5h4v4h-4zM819 1003.5h4v4h-4zM959 1003.5h24v4h-24zM787 1007.5h4v4h-4zM951 1007.5h32v4h-32zM947 1011.5h36v4h-36zM791 1015.5h4v4h-4zM951 1015.5h36v4h-36zM759 1019.5h8v4h-8zM791 1019.5h4v4h-4zM951 1019.5h16v4h-16zM983 1019.5h8v4h-8zM755 1023.5h16v4h-16zM795 1023.5h8v4h-8zM819 1023.5h16v4h-16zM879 1023.5h4v4h-4zM955 1023.5h12v4h-12zM751 1027.5h8v4h-8zM771 1027.5h4v4h-4zM815 1027.5h12v4h-12zM839 1027.5h8v4h-8zM867 1027.5h8v4h-8zM883 1027.5h8v4h-8zM955 1027.5h8v4h-8zM751 1031.5h4v4h-4zM771 1031.5h8v4h-8zM819 1031.5h4v4h-4zM843 1031.5h24v4h-24zM891 1031.5h4v4h-4zM955 1031.5h8v4h-8zM751 1035.5h4v4h-4zM775 1035.5h24v4h-24zM819 1035.5h4v4h-4zM843 1035.5h16v4h-16zM899 1035.5h4v4h-4zM751 1039.5h4v4h-4zM775 1039.5h32v4h-32zM819 1039.5h4v4h-4zM843 1039.5h8v4h-8zM907 1039.5h4v4h-4zM751 1043.5h4v4h-4zM779 1043.5h12v4h-12zM803 1043.5h20v4h-20zM839 1043.5h12v4h-12zM911 1043.5h16v4h-16zM747 1047.5h4v4h-4zM779 1047.5h12v4h-12zM811 1047.5h4v4h-4zM835 1047.5h16v4h-16zM747 1051.5h4v4h-4zM779 1051.5h16v4h-16zM835 1051.5h12v4h-12zM711 1055.5h4v4h-4zM743 1055.5h4v4h-4zM779 1055.5h4v4h-4zM787 1055.5h12v4h-12zM835 1055.5h8v4h-8zM719 1059.5h24v4h-24zM779 1059.5h4v4h-4zM791 1059.5h8v4h-8zM727 1063.5h12v4h-12zM779 1063.5h4v4h-4zM795 1063.5h4v4h-4zM727 1067.5h12v4h-12zM779 1067.5h8v4h-8zM795 1067.5h4v4h-4zM727 1071.5h12v4h-12zM759 1071.5h40v4h-40zM723 1075.5h8v4h-8zM735 1075.5h8v4h-8zM755 1075.5h4v4h-4zM771 1075.5h8v4h-8zM787 1075.5h12v4h-12zM723 1079.5h4v4h-4zM739 1079.5h4v4h-4zM755 1079.5h20v4h-20zM791 1079.5h8v4h-8zM719 1083.5h4v4h-4zM739 1083.5h4v4h-4zM791 1083.5h12v4h-12zM715 1087.5h4v4h-4zM791 1087.5h12v4h-12zM707 1091.5h8v4h-8zM791 1091.5h12v4h-12zM787 1095.5h12v4h-12zM787 1099.5h12v4h-12zM739 1103.5h4v4h-4zM783 1103.5h4v4h-4zM795 1103.5h4v4h-4zM827 1103.5h12v4h-12zM739 1107.5h4v4h-4zM779 1107.5h4v4h-4zM827 1107.5h4v4h-4zM835 1107.5h4v4h-4zM731 1111.5h4v4h-4zM775 1111.5h4v4h-4zM831 1111.5h8v4h-8zM723 1115.5h4v4h-4zM775 1115.5h4v4h-4zM831 1115.5h8v4h-8zM719 1119.5h4v4h-4zM775 1123.5h4v4h-4zM715 1127.5h4v4h-4zM715 1131.5h4v4h-4zM783 1131.5h4v4h-4zM795 1131.5h4v4h-4zM715 1135.5h4v4h-4zM787 1135.5h4v4h-4zM795 1135.5h4v4h-4zM831 1135.5h8v4h-8zM715 1139.5h4v4h-4zM787 1139.5h4v4h-4zM827 1139.5h4v4h-4zM835 1139.5h4v4h-4zM711 1143.5h8v4h-8zM831 1143.5h8v4h-8zM707 1147.5h20v4h-20zM787 1147.5h4v4h-4zM703 1151.5h28v4h-28zM707 1155.5h24v4h-24zM779 1155.5h4v4h-4zM707 1159.5h20v4h-20zM775 1159.5h4v4h-4zM799 1159.5h4v4h-4zM711 1163.5h16v4h-16zM775 1163.5h4v4h-4zM803 1163.5h4v4h-4zM715 1167.5h8v4h-8zM775 1167.5h4v4h-4zM815 1167.5h8v4h-8zM711 1171.5h12v4h-12zM775 1171.5h4v4h-4zM711 1175.5h8v4h-8zM775 1175.5h4v4h-4zM699 1179.5h16v4h-16zM775 1179.5h4v4h-4zM695 1183.5h8v4h-8zM763 1183.5h20v4h-20zM691 1187.5h8v4h-8zM751 1187.5h4v4h-4zM779 1187.5h8v4h-8zM687 1191.5h8v4h-8zM751 1191.5h4v4h-4zM679 1195.5h12v4h-12zM751 1195.5h4v4h-4zM755 1199.5h4v4h-4zM759 1203.5h4v4h-4zM763 1207.5h4v4h-4zM767 1211.5h4v4h-4zM779 1215.5h8v4h-8zM683 1227.5h16v4h-16zM675 1231.5h28v4h-28zM675 1235.5h8v4h-8zM699 1235.5h4v4h-4zM703 1247.5h4v4h-4zM703 1251.5h8v4h-8zM703 1255.5h20v4h-20zM703 1259.5h20v4h-20zM703 1263.5h16v4h-16zM703 1267.5h8v4h-8zM703 1271.5h8v4h-8zM703 1275.5h12v4h-12zM715 1279.5h8v4h-8zM723 1283.5h4v4h-4zM727 1287.5h4v4h-4zM727 1291.5h4v4h-4zM727 1295.5h4v4h-4z"/>
<path fill="#00A8FF" d="M599 727.5h4v4h-4zM599 731.5h4v4h-4zM599 735.5h4v4h-4zM699 735.5h4v4h-4zM715 735.5h4v4h-4zM603 739.5h4v4h-4zM667 739.5h4v4h-4zM699 739.5h12v4h-12zM603 743.5h4v4h-4zM603 747.5h4v4h-4zM779 751.5h4v4h-4zM791 751.5h4v4h-4zM667 755.5h4v4h-4zM779 755.5h4v4h-4zM787 755.5h8v4h-8zM607 759.5h4v4h-4zM643 759.5h4v4h-4zM671 759.5h4v4h-4zM695 759.5h8v4h-8zM643 763.5h4v4h-4zM675 763.5h4v4h-4zM691 763.5h12v4h-12zM871 763.5h4v4h-4zM675 767.5h4v4h-4zM691 767.5h12v4h-12zM755 767.5h12v4h-12zM851 767.5h20v4h-20zM647 771.5h4v4h-4zM663 771.5h8v4h-8zM747 771.5h8v4h-8zM767 771.5h4v4h-4zM847 771.5h4v4h-4zM879 771.5h16v4h-16zM647 775.5h8v4h-8zM723 775.5h16v4h-16zM743 775.5h8v4h-8zM767 775.5h4v4h-4zM847 775.5h4v4h-4zM871 775.5h12v4h-12zM643 779.5h8v4h-8zM711 779.5h40v4h-40zM847 779.5h8v4h-8zM867 779.5h8v4h-8zM711 783.5h4v4h-4zM727 783.5h12v4h-12zM743 783.5h8v4h-8zM771 783.5h4v4h-4zM851 783.5h4v4h-4zM867 783.5h4v4h-4zM707 787.5h4v4h-4zM727 787.5h24v4h-24zM851 787.5h4v4h-4zM867 787.5h4v4h-4zM699 791.5h8v4h-8zM731 791.5h20v4h-20zM851 791.5h4v4h-4zM867 791.5h4v4h-4zM695 795.5h4v4h-4zM735 795.5h16v4h-16zM847 795.5h4v4h-4zM867 795.5h4v4h-4zM739 799.5h12v4h-12zM771 799.5h4v4h-4zM843 799.5h4v4h-4zM867 799.5h4v4h-4zM695 803.5h4v4h-4zM739 803.5h12v4h-12zM771 803.5h4v4h-4zM843 803.5h4v4h-4zM703 807.5h4v4h-4zM743 807.5h8v4h-8zM767 807.5h4v4h-4zM847 807.5h4v4h-4zM871 807.5h4v4h-4zM895 807.5h24v4h-24zM759 811.5h4v4h-4zM851 811.5h4v4h-4zM871 811.5h4v4h-4zM891 811.5h28v4h-28zM711 815.5h4v4h-4zM755 815.5h4v4h-4zM851 815.5h8v4h-8zM871 815.5h32v4h-32zM715 819.5h4v4h-4zM755 819.5h4v4h-4zM855 819.5h4v4h-4zM875 819.5h24v4h-24zM923 819.5h4v4h-4zM731 823.5h4v4h-4zM855 823.5h4v4h-4zM879 823.5h20v4h-20zM919 823.5h20v4h-20zM851 827.5h8v4h-8zM883 827.5h16v4h-16zM919 827.5h16v4h-16zM843 831.5h12v4h-12zM883 831.5h16v4h-16zM919 831.5h12v4h-12zM835 835.5h16v4h-16zM883 835.5h16v4h-16zM923 835.5h4v4h-4zM755 839.5h4v4h-4zM831 839.5h8v4h-8zM887 839.5h12v4h-12zM831 843.5h4v4h-4zM887 843.5h16v4h-16zM991 843.5h12v4h-12zM775 847.5h12v4h-12zM887 847.5h16v4h-16zM991 847.5h8v4h-8zM735 851.5h4v4h-4zM743 851.5h4v4h-4zM775 851.5h4v4h-4zM787 851.5h4v4h-4zM827 851.5h4v4h-4zM891 851.5h12v4h-12zM987 851.5h8v4h-8zM735 855.5h8v4h-8zM827 855.5h4v4h-4zM895 855.5h8v4h-8zM987 855.5h4v4h-4zM1011 855.5h4v4h-4zM643 859.5h8v4h-8zM775 859.5h4v4h-4zM823 859.5h4v4h-4zM983 859.5h8v4h-8zM1011 859.5h4v4h-4zM643 863.5h12v4h-12zM775 863.5h4v4h-4zM787 863.5h4v4h-4zM823 863.5h4v4h-4zM979 863.5h8v4h-8zM1007 863.5h4v4h-4zM647 867.5h4v4h-4zM775 867.5h4v4h-4zM787 867.5h4v4h-4zM819 867.5h4v4h-4zM979 867.5h8v4h-8zM1007 867.5h4v4h-4zM775 871.5h4v4h-4zM787 871.5h4v4h-4zM983 871.5h8v4h-8zM1003 871.5h8v4h-8zM719 875.5h8v4h-8zM775 875.5h4v4h-4zM787 875.5h4v4h-4zM815 875.5h4v4h-4zM983 875.5h8v4h-8zM1003 875.5h8v4h-8zM719 879.5h12v4h-12zM771 879.5h4v4h-4zM787 879.5h4v4h-4zM815 879.5h4v4h-4zM987 879.5h12v4h-12zM1003 879.5h8v4h-8zM663 883.5h8v4h-8zM719 883.5h4v4h-4zM727 883.5h4v4h-4zM771 883.5h4v4h-4zM787 883.5h8v4h-8zM811 883.5h4v4h-4zM991 883.5h24v4h-24zM659 887.5h4v4h-4zM671 887.5h4v4h-4zM715 887.5h4v4h-4zM775 887.5h4v4h-4zM787 887.5h20v4h-20zM991 887.5h24v4h-24zM655 891.5h4v4h-4zM671 891.5h4v4h-4zM715 891.5h4v4h-4zM731 891.5h4v4h-4zM779 891.5h4v4h-4zM791 891.5h8v4h-8zM947 891.5h4v4h-4zM991 891.5h20v4h-20zM647 895.5h4v4h-4zM667 895.5h8v4h-8zM707 895.5h8v4h-8zM731 895.5h4v4h-4zM779 895.5h4v4h-4zM943 895.5h8v4h-8zM995 895.5h12v4h-12zM643 899.5h4v4h-4zM671 899.5h4v4h-4zM695 899.5h8v4h-8zM779 899.5h4v4h-4zM939 899.5h12v4h-12zM671 903.5h8v4h-8zM691 903.5h4v4h-4zM779 903.5h4v4h-4zM935 903.5h16v4h-16zM679 907.5h12v4h-12zM731 907.5h4v4h-4zM931 907.5h8v4h-8zM943 907.5h4v4h-4zM731 911.5h4v4h-4zM915 911.5h8v4h-8zM943 911.5h4v4h-4zM943 915.5h4v4h-4zM907 919.5h4v4h-4zM939 919.5h4v4h-4zM711 923.5h20v4h-20zM907 923.5h4v4h-4zM939 923.5h4v4h-4zM727 927.5h4v4h-4zM907 927.5h4v4h-4zM935 927.5h4v4h-4zM707 931.5h4v4h-4zM911 931.5h4v4h-4zM955 931.5h12v4h-12zM707 935.5h4v4h-4zM915 935.5h16v4h-16zM959 935.5h12v4h-12zM707 939.5h4v4h-4zM731 939.5h4v4h-4zM779 939.5h4v4h-4zM967 939.5h44v4h-44zM707 943.5h4v4h-4zM731 943.5h4v4h-4zM743 943.5h8v4h-8zM779 943.5h4v4h-4zM971 943.5h4v4h-4zM707 947.5h4v4h-4zM727 947.5h4v4h-4zM763 947.5h8v4h-8zM775 947.5h8v4h-8zM711 951.5h4v4h-4zM723 951.5h4v4h-4zM771 951.5h12v4h-12zM715 955.5h8v4h-8zM775 955.5h8v4h-8zM967 955.5h4v4h-4zM807 975.5h4v4h-4zM815 975.5h4v4h-4zM699 979.5h8v4h-8zM803 979.5h4v4h-4zM707 983.5h4v4h-4zM799 983.5h4v4h-4zM819 983.5h4v4h-4zM791 987.5h4v4h-4zM787 991.5h4v4h-4zM967 991.5h4v4h-4zM971 995.5h8v4h-8zM999 995.5h4v4h-4zM979 999.5h20v4h-20zM787 1003.5h4v4h-4zM983 1003.5h16v4h-16zM819 1007.5h4v4h-4zM983 1007.5h16v4h-16zM791 1011.5h4v4h-4zM819 1011.5h4v4h-4zM983 1011.5h12v4h-12zM819 1015.5h4v4h-4zM987 1015.5h8v4h-8zM795 1019.5h4v4h-4zM819 1019.5h4v4h-4zM803 1023.5h16v4h-16zM759 1027.5h12v4h-12zM827 1027.5h12v4h-12zM875 1027.5h8v4h-8zM755 1031.5h16v4h-16zM823 1031.5h20v4h-20zM867 1031.5h12v4h-12zM883 1031.5h8v4h-8zM755 1035.5h8v4h-8zM767 1035.5h8v4h-8zM823 1035.5h8v4h-8zM835 1035.5h8v4h-8zM859 1035.5h12v4h-12zM891 1035.5h8v4h-8zM755 1039.5h4v4h-4zM771 1039.5h4v4h-4zM823 1039.5h20v4h-20zM851 1039.5h8v4h-8zM899 1039.5h8v4h-8zM755 1043.5h4v4h-4zM775 1043.5h4v4h-4zM791 1043.5h12v4h-12zM823 1043.5h16v4h-16zM851 1043.5h4v4h-4zM907 1043.5h4v4h-4zM751 1047.5h4v4h-4zM775 1047.5h4v4h-4zM791 1047.5h20v4h-20zM815 1047.5h20v4h-20zM851 1047.5h4v4h-4zM911 1047.5h28v4h-28zM775 1051.5h4v4h-4zM795 1051.5h40v4h-40zM847 1051.5h4v4h-4zM747 1055.5h4v4h-4zM775 1055.5h4v4h-4zM799 1055.5h8v4h-8zM823 1055.5h12v4h-12zM843 1055.5h8v4h-8zM711 1059.5h8v4h-8zM743 1059.5h4v4h-4zM775 1059.5h4v4h-4zM799 1059.5h4v4h-4zM831 1059.5h16v4h-16zM715 1063.5h12v4h-12zM739 1063.5h8v4h-8zM775 1063.5h4v4h-4zM799 1063.5h4v4h-4zM719 1067.5h8v4h-8zM739 1067.5h8v4h-8zM767 1067.5h12v4h-12zM799 1067.5h4v4h-4zM719 1071.5h8v4h-8zM739 1071.5h20v4h-20zM799 1071.5h4v4h-4zM719 1075.5h4v4h-4zM743 1075.5h12v4h-12zM779 1075.5h8v4h-8zM799 1075.5h4v4h-4zM719 1079.5h4v4h-4zM743 1079.5h12v4h-12zM775 1079.5h16v4h-16zM799 1079.5h4v4h-4zM715 1083.5h4v4h-4zM743 1083.5h4v4h-4zM787 1083.5h4v4h-4zM803 1083.5h4v4h-4zM707 1087.5h8v4h-8zM743 1087.5h4v4h-4zM787 1087.5h4v4h-4zM803 1087.5h4v4h-4zM743 1091.5h4v4h-4zM787 1091.5h4v4h-4zM803 1091.5h4v4h-4zM743 1095.5h4v4h-4zM783 1095.5h4v4h-4zM799 1095.5h4v4h-4zM743 1099.5h4v4h-4zM783 1099.5h4v4h-4zM799 1099.5h4v4h-4zM827 1099.5h12v4h-12zM743 1103.5h4v4h-4zM779 1103.5h4v4h-4zM839 1103.5h4v4h-4zM795 1107.5h4v4h-4zM839 1107.5h4v4h-4zM735 1111.5h8v4h-8zM795 1111.5h4v4h-4zM827 1111.5h4v4h-4zM839 1111.5h4v4h-4zM727 1115.5h4v4h-4zM795 1115.5h4v4h-4zM827 1115.5h4v4h-4zM839 1115.5h4v4h-4zM771 1119.5h4v4h-4zM795 1119.5h4v4h-4zM831 1119.5h8v4h-8zM719 1123.5h4v4h-4zM795 1123.5h4v4h-4zM775 1127.5h4v4h-4zM795 1127.5h4v4h-4zM779 1131.5h4v4h-4zM831 1131.5h8v4h-8zM783 1135.5h4v4h-4zM827 1135.5h4v4h-4zM839 1135.5h4v4h-4zM719 1139.5h4v4h-4zM799 1139.5h4v4h-4zM839 1139.5h4v4h-4zM719 1143.5h12v4h-12zM787 1143.5h4v4h-4zM799 1143.5h4v4h-4zM827 1143.5h4v4h-4zM839 1143.5h4v4h-4zM859 1143.5h4v4h-4zM727 1147.5h8v4h-8zM799 1147.5h4v4h-4zM831 1147.5h4v4h-4zM731 1151.5h4v4h-4zM783 1151.5h4v4h-4zM799 1151.5h4v4h-4zM731 1155.5h4v4h-4zM775 1155.5h4v4h-4zM799 1155.5h4v4h-4zM727 1159.5h8v4h-8zM803 1159.5h4v4h-4zM727 1163.5h8v4h-8zM807 1163.5h4v4h-4zM723 1167.5h8v4h-8zM723 1171.5h8v4h-8zM719 1175.5h8v4h-8zM715 1179.5h12v4h-12zM771 1179.5h4v4h-4zM703 1183.5h20v4h-20zM755 1183.5h8v4h-8zM699 1187.5h12v4h-12zM747 1187.5h4v4h-4zM695 1191.5h8v4h-8zM747 1191.5h4v4h-4zM691 1195.5h12v4h-12zM747 1195.5h4v4h-4zM679 1199.5h36v4h-36zM751 1199.5h4v4h-4zM695 1203.5h28v4h-28zM755 1203.5h4v4h-4zM695 1207.5h28v4h-28zM759 1207.5h4v4h-4zM695 1211.5h24v4h-24zM763 1211.5h4v4h-4zM695 1215.5h20v4h-20zM771 1215.5h8v4h-8zM691 1219.5h20v4h-20zM675 1223.5h32v4h-32zM675 1227.5h8v4h-8zM699 1227.5h4v4h-4zM703 1231.5h4v4h-4zM703 1235.5h4v4h-4zM703 1239.5h4v4h-4zM703 1243.5h4v4h-4zM707 1247.5h4v4h-4zM727 1247.5h8v4h-8zM711 1251.5h28v4h-28zM723 1255.5h16v4h-16zM723 1259.5h16v4h-16zM783 1259.5h4v4h-4zM719 1263.5h12v4h-12zM779 1263.5h20v4h-20zM711 1267.5h16v4h-16zM775 1267.5h24v4h-24zM711 1271.5h12v4h-12zM775 1271.5h28v4h-28zM715 1275.5h12v4h-12zM771 1275.5h28v4h-28zM723 1279.5h8v4h-8zM771 1279.5h28v4h-28zM727 1283.5h8v4h-8zM747 1283.5h52v4h-52zM731 1287.5h4v4h-4zM743 1287.5h52v4h-52zM731 1291.5h60v4h-60zM731 1295.5h52v4h-52zM735 1299.5h40v4h-40z"/>
<path fill="#0060FF" d="M603 727.5h16v4h-16zM639 727.5h4v4h-4zM695 727.5h4v4h-4zM719 727.5h4v4h-4zM603 731.5h16v4h-16zM639 731.5h4v4h-4zM695 731.5h4v4h-4zM719 731.5h4v4h-4zM603 735.5h12v4h-12zM639 735.5h4v4h-4zM671 735.5h4v4h-4zM695 735.5h4v4h-4zM719 735.5h4v4h-4zM607 739.5h4v4h-4zM639 739.5h4v4h-4zM695 739.5h4v4h-4zM711 739.5h4v4h-4zM607 743.5h4v4h-4zM639 743.5h4v4h-4zM667 743.5h4v4h-4zM695 743.5h12v4h-12zM607 747.5h4v4h-4zM639 747.5h4v4h-4zM667 747.5h4v4h-4zM695 747.5h8v4h-8zM787 747.5h12v4h-12zM607 751.5h4v4h-4zM639 751.5h4v4h-4zM667 751.5h4v4h-4zM695 751.5h8v4h-8zM795 751.5h4v4h-4zM607 755.5h4v4h-4zM695 755.5h8v4h-8zM775 755.5h4v4h-4zM795 755.5h4v4h-4zM691 759.5h4v4h-4zM779 759.5h12v4h-12zM679 763.5h12v4h-12zM703 763.5h4v4h-4zM735 763.5h4v4h-4zM867 763.5h4v4h-4zM643 767.5h4v4h-4zM679 767.5h12v4h-12zM703 767.5h4v4h-4zM731 767.5h24v4h-24zM767 767.5h4v4h-4zM847 767.5h4v4h-4zM643 771.5h4v4h-4zM671 771.5h8v4h-8zM687 771.5h20v4h-20zM723 771.5h24v4h-24zM843 771.5h4v4h-4zM639 775.5h8v4h-8zM655 775.5h4v4h-4zM707 775.5h16v4h-16zM739 775.5h4v4h-4zM843 775.5h4v4h-4zM883 775.5h20v4h-20zM639 779.5h4v4h-4zM707 779.5h4v4h-4zM771 779.5h4v4h-4zM875 779.5h8v4h-8zM707 783.5h4v4h-4zM739 783.5h4v4h-4zM847 783.5h4v4h-4zM871 783.5h4v4h-4zM703 787.5h4v4h-4zM775 787.5h4v4h-4zM847 787.5h4v4h-4zM871 787.5h4v4h-4zM775 791.5h4v4h-4zM847 791.5h4v4h-4zM871 791.5h4v4h-4zM775 795.5h4v4h-4zM839 795.5h8v4h-8zM871 795.5h4v4h-4zM895 795.5h12v4h-12zM691 799.5h4v4h-4zM775 799.5h4v4h-4zM839 799.5h4v4h-4zM871 799.5h4v4h-4zM891 799.5h24v4h-24zM691 803.5h4v4h-4zM839 803.5h4v4h-4zM871 803.5h8v4h-8zM887 803.5h28v4h-28zM699 807.5h4v4h-4zM771 807.5h4v4h-4zM843 807.5h4v4h-4zM875 807.5h20v4h-20zM707 811.5h4v4h-4zM763 811.5h8v4h-8zM847 811.5h4v4h-4zM875 811.5h16v4h-16zM759 815.5h4v4h-4zM847 815.5h4v4h-4zM759 819.5h4v4h-4zM847 819.5h8v4h-8zM723 823.5h8v4h-8zM759 823.5h4v4h-4zM847 823.5h8v4h-8zM731 827.5h4v4h-4zM759 827.5h4v4h-4zM839 827.5h12v4h-12zM731 831.5h4v4h-4zM835 831.5h8v4h-8zM671 835.5h4v4h-4zM831 835.5h4v4h-4zM667 839.5h12v4h-12zM731 839.5h4v4h-4zM671 843.5h12v4h-12zM731 843.5h4v4h-4zM755 843.5h4v4h-4zM779 843.5h4v4h-4zM827 843.5h4v4h-4zM731 847.5h4v4h-4zM751 847.5h4v4h-4zM771 847.5h4v4h-4zM787 847.5h4v4h-4zM827 847.5h4v4h-4zM999 847.5h12v4h-12zM643 851.5h4v4h-4zM731 851.5h4v4h-4zM747 851.5h4v4h-4zM771 851.5h4v4h-4zM791 851.5h4v4h-4zM823 851.5h4v4h-4zM995 851.5h20v4h-20zM639 855.5h16v4h-16zM731 855.5h4v4h-4zM743 855.5h8v4h-8zM771 855.5h4v4h-4zM791 855.5h4v4h-4zM823 855.5h4v4h-4zM991 855.5h20v4h-20zM639 859.5h4v4h-4zM651 859.5h4v4h-4zM731 859.5h16v4h-16zM791 859.5h4v4h-4zM819 859.5h4v4h-4zM991 859.5h20v4h-20zM639 863.5h4v4h-4zM791 863.5h4v4h-4zM819 863.5h4v4h-4zM987 863.5h20v4h-20zM643 867.5h4v4h-4zM651 867.5h4v4h-4zM723 867.5h4v4h-4zM791 867.5h4v4h-4zM815 867.5h4v4h-4zM987 867.5h20v4h-20zM719 871.5h12v4h-12zM771 871.5h4v4h-4zM791 871.5h4v4h-4zM815 871.5h4v4h-4zM991 871.5h12v4h-12zM715 875.5h4v4h-4zM727 875.5h4v4h-4zM771 875.5h4v4h-4zM791 875.5h4v4h-4zM811 875.5h4v4h-4zM991 875.5h12v4h-12zM663 879.5h8v4h-8zM715 879.5h4v4h-4zM767 879.5h4v4h-4zM791 879.5h8v4h-8zM807 879.5h8v4h-8zM999 879.5h4v4h-4zM659 883.5h4v4h-4zM671 883.5h4v4h-4zM715 883.5h4v4h-4zM731 883.5h4v4h-4zM795 883.5h16v4h-16zM675 887.5h4v4h-4zM711 887.5h4v4h-4zM731 887.5h4v4h-4zM771 887.5h4v4h-4zM651 891.5h4v4h-4zM675 891.5h4v4h-4zM707 891.5h8v4h-8zM775 891.5h4v4h-4zM675 895.5h4v4h-4zM695 895.5h12v4h-12zM675 899.5h4v4h-4zM687 899.5h8v4h-8zM679 903.5h12v4h-12zM939 907.5h4v4h-4zM923 911.5h20v4h-20zM731 915.5h4v4h-4zM911 915.5h8v4h-8zM935 915.5h8v4h-8zM731 919.5h4v4h-4zM775 919.5h4v4h-4zM911 919.5h4v4h-4zM935 919.5h4v4h-4zM731 923.5h4v4h-4zM775 923.5h4v4h-4zM911 923.5h4v4h-4zM935 923.5h4v4h-4zM711 927.5h16v4h-16zM731 927.5h4v4h-4zM775 927.5h4v4h-4zM911 927.5h4v4h-4zM711 931.5h4v4h-4zM723 931.5h12v4h-12zM775 931.5h4v4h-4zM915 931.5h4v4h-4zM931 931.5h4v4h-4zM727 935.5h8v4h-8zM775 935.5h4v4h-4zM727 939.5h4v4h-4zM735 939.5h8v4h-8zM775 939.5h4v4h-4zM727 943.5h4v4h-4zM751 943.5h4v4h-4zM775 943.5h4v4h-4zM975 943.5h4v4h-4zM711 947.5h4v4h-4zM723 947.5h4v4h-4zM771 947.5h4v4h-4zM971 947.5h4v4h-4zM715 951.5h8v4h-8zM971 951.5h4v4h-4zM967 959.5h4v4h-4zM967 963.5h4v4h-4zM811 975.5h4v4h-4zM815 979.5h4v4h-4zM815 983.5h4v4h-4zM795 987.5h4v4h-4zM815 987.5h4v4h-4zM967 987.5h4v4h-4zM791 991.5h4v4h-4zM815 991.5h4v4h-4zM971 991.5h4v4h-4zM787 995.5h4v4h-4zM815 995.5h4v4h-4zM979 995.5h20v4h-20zM787 999.5h4v4h-4zM815 999.5h4v4h-4zM815 1003.5h4v4h-4zM791 1007.5h4v4h-4zM795 1015.5h4v4h-4zM799 1019.5h8v4h-8zM811 1019.5h8v4h-8zM879 1031.5h4v4h-4zM763 1035.5h4v4h-4zM831 1035.5h4v4h-4zM871 1035.5h20v4h-20zM759 1039.5h12v4h-12zM859 1039.5h20v4h-20zM895 1039.5h4v4h-4zM759 1043.5h4v4h-4zM767 1043.5h8v4h-8zM855 1043.5h4v4h-4zM903 1043.5h4v4h-4zM755 1047.5h4v4h-4zM771 1047.5h4v4h-4zM855 1047.5h4v4h-4zM907 1047.5h4v4h-4zM751 1051.5h4v4h-4zM771 1051.5h4v4h-4zM851 1051.5h4v4h-4zM911 1051.5h16v4h-16zM807 1055.5h16v4h-16zM851 1055.5h4v4h-4zM747 1059.5h4v4h-4zM803 1059.5h8v4h-8zM819 1059.5h12v4h-12zM847 1059.5h4v4h-4zM711 1063.5h4v4h-4zM747 1063.5h4v4h-4zM771 1063.5h4v4h-4zM803 1063.5h4v4h-4zM831 1063.5h12v4h-12zM707 1067.5h12v4h-12zM747 1067.5h20v4h-20zM803 1067.5h4v4h-4zM711 1071.5h8v4h-8zM803 1071.5h4v4h-4zM711 1075.5h8v4h-8zM803 1075.5h4v4h-4zM707 1079.5h12v4h-12zM803 1079.5h4v4h-4zM707 1083.5h8v4h-8zM747 1083.5h40v4h-40zM807 1083.5h4v4h-4zM747 1087.5h4v4h-4zM783 1087.5h4v4h-4zM807 1087.5h4v4h-4zM783 1091.5h4v4h-4zM807 1091.5h4v4h-4zM803 1095.5h4v4h-4zM827 1095.5h8v4h-8zM779 1099.5h4v4h-4zM823 1099.5h4v4h-4zM839 1099.5h4v4h-4zM799 1103.5h4v4h-4zM823 1103.5h4v4h-4zM843 1103.5h4v4h-4zM743 1107.5h4v4h-4zM775 1107.5h4v4h-4zM823 1107.5h4v4h-4zM843 1107.5h4v4h-4zM743 1111.5h4v4h-4zM843 1111.5h4v4h-4zM731 1115.5h12v4h-12zM771 1115.5h4v4h-4zM843 1115.5h4v4h-4zM723 1119.5h4v4h-4zM839 1119.5h8v4h-8zM771 1123.5h4v4h-4zM831 1123.5h12v4h-12zM719 1127.5h4v4h-4zM771 1127.5h4v4h-4zM831 1127.5h12v4h-12zM719 1131.5h4v4h-4zM775 1131.5h4v4h-4zM799 1131.5h4v4h-4zM827 1131.5h4v4h-4zM839 1131.5h8v4h-8zM719 1135.5h4v4h-4zM799 1135.5h4v4h-4zM843 1135.5h4v4h-4zM863 1135.5h4v4h-4zM723 1139.5h4v4h-4zM783 1139.5h4v4h-4zM843 1139.5h20v4h-20zM731 1143.5h8v4h-8zM843 1143.5h16v4h-16zM735 1147.5h8v4h-8zM783 1147.5h4v4h-4zM827 1147.5h4v4h-4zM835 1147.5h8v4h-8zM851 1147.5h8v4h-8zM735 1151.5h8v4h-8zM779 1151.5h4v4h-4zM735 1155.5h4v4h-4zM771 1155.5h4v4h-4zM803 1155.5h4v4h-4zM735 1159.5h4v4h-4zM771 1159.5h4v4h-4zM735 1163.5h4v4h-4zM771 1163.5h4v4h-4zM811 1163.5h8v4h-8zM731 1167.5h4v4h-4zM771 1167.5h4v4h-4zM731 1171.5h4v4h-4zM771 1171.5h4v4h-4zM727 1175.5h8v4h-8zM771 1175.5h4v4h-4zM727 1179.5h8v4h-8zM763 1179.5h8v4h-8zM723 1183.5h32v4h-32zM711 1187.5h36v4h-36zM703 1191.5h44v4h-44zM703 1195.5h44v4h-44zM715 1199.5h20v4h-20zM747 1199.5h4v4h-4zM675 1203.5h20v4h-20zM723 1203.5h8v4h-8zM751 1203.5h4v4h-4zM687 1207.5h8v4h-8zM723 1207.5h8v4h-8zM687 1211.5h8v4h-8zM719 1211.5h8v4h-8zM759 1211.5h4v4h-4zM683 1215.5h12v4h-12zM715 1215.5h8v4h-8zM767 1215.5h4v4h-4zM675 1219.5h16v4h-16zM711 1219.5h8v4h-8zM779 1219.5h8v4h-8zM707 1223.5h4v4h-4zM703 1227.5h8v4h-8zM731 1239.5h8v4h-8zM707 1243.5h4v4h-4zM727 1243.5h12v4h-12zM711 1247.5h16v4h-16zM735 1247.5h8v4h-8zM739 1251.5h8v4h-8zM739 1255.5h32v4h-32zM739 1259.5h44v4h-44zM731 1263.5h48v4h-48zM727 1267.5h48v4h-48zM723 1271.5h52v4h-52zM727 1275.5h44v4h-44zM731 1279.5h40v4h-40zM735 1283.5h12v4h-12zM735 1287.5h8v4h-8z"/>
<path fill="#0000FF" d="M619 727.5h4v4h-4zM635 727.5h4v4h-4zM723 727.5h4v4h-4zM831 727.5h8v4h-8zM619 731.5h4v4h-4zM635 731.5h4v4h-4zM723 731.5h4v4h-4zM831 731.5h8v4h-8zM615 735.5h8v4h-8zM723 735.5h4v4h-4zM803 735.5h4v4h-4zM611 739.5h8v4h-8zM671 739.5h4v4h-4zM715 739.5h4v4h-4zM799 739.5h8v4h-8zM611 743.5h4v4h-4zM707 743.5h4v4h-4zM795 743.5h16v4h-16zM703 747.5h4v4h-4zM783 747.5h4v4h-4zM799 747.5h12v4h-12zM691 751.5h4v4h-4zM775 751.5h4v4h-4zM799 751.5h12v4h-12zM639 755.5h4v4h-4zM671 755.5h4v4h-4zM691 755.5h4v4h-4zM799 755.5h8v4h-8zM611 759.5h4v4h-4zM639 759.5h4v4h-4zM675 759.5h4v4h-4zM687 759.5h4v4h-4zM703 759.5h4v4h-4zM731 759.5h12v4h-12zM775 759.5h4v4h-4zM791 759.5h8v4h-8zM611 763.5h4v4h-4zM639 763.5h4v4h-4zM731 763.5h4v4h-4zM739 763.5h12v4h-12zM759 763.5h8v4h-8zM863 763.5h4v4h-4zM639 767.5h4v4h-4zM707 767.5h4v4h-4zM727 767.5h4v4h-4zM843 767.5h4v4h-4zM639 771.5h4v4h-4zM679 771.5h8v4h-8zM707 771.5h16v4h-16zM771 771.5h4v4h-4zM635 775.5h4v4h-4zM659 775.5h4v4h-4zM695 775.5h12v4h-12zM771 775.5h4v4h-4zM635 779.5h4v4h-4zM651 779.5h4v4h-4zM703 779.5h4v4h-4zM843 779.5h4v4h-4zM883 779.5h24v4h-24zM703 783.5h4v4h-4zM775 783.5h4v4h-4zM843 783.5h4v4h-4zM875 783.5h32v4h-32zM699 787.5h4v4h-4zM843 787.5h4v4h-4zM875 787.5h4v4h-4zM887 787.5h24v4h-24zM695 791.5h4v4h-4zM839 791.5h8v4h-8zM875 791.5h4v4h-4zM887 791.5h24v4h-24zM691 795.5h4v4h-4zM835 795.5h4v4h-4zM875 795.5h4v4h-4zM887 795.5h8v4h-8zM907 795.5h4v4h-4zM835 799.5h4v4h-4zM875 799.5h16v4h-16zM775 803.5h4v4h-4zM835 803.5h4v4h-4zM879 803.5h8v4h-8zM695 807.5h4v4h-4zM835 807.5h8v4h-8zM771 811.5h4v4h-4zM839 811.5h8v4h-8zM763 815.5h4v4h-4zM843 815.5h4v4h-4zM711 819.5h4v4h-4zM843 819.5h4v4h-4zM719 823.5h4v4h-4zM835 823.5h12v4h-12zM671 827.5h8v4h-8zM727 827.5h4v4h-4zM831 827.5h8v4h-8zM647 831.5h32v4h-32zM759 831.5h4v4h-4zM827 831.5h8v4h-8zM643 835.5h28v4h-28zM675 835.5h8v4h-8zM731 835.5h4v4h-4zM759 835.5h4v4h-4zM827 835.5h4v4h-4zM639 839.5h28v4h-28zM679 839.5h4v4h-4zM759 839.5h4v4h-4zM827 839.5h4v4h-4zM635 843.5h36v4h-36zM759 843.5h4v4h-4zM771 843.5h8v4h-8zM783 843.5h4v4h-4zM631 847.5h24v4h-24zM671 847.5h12v4h-12zM755 847.5h4v4h-4zM791 847.5h4v4h-4zM823 847.5h4v4h-4zM631 851.5h12v4h-12zM647 851.5h8v4h-8zM727 851.5h4v4h-4zM751 851.5h4v4h-4zM631 855.5h8v4h-8zM727 855.5h4v4h-4zM819 855.5h4v4h-4zM635 859.5h4v4h-4zM655 859.5h4v4h-4zM727 859.5h4v4h-4zM747 859.5h4v4h-4zM771 859.5h4v4h-4zM795 859.5h4v4h-4zM635 863.5h4v4h-4zM655 863.5h4v4h-4zM723 863.5h24v4h-24zM771 863.5h4v4h-4zM795 863.5h4v4h-4zM811 863.5h8v4h-8zM639 867.5h4v4h-4zM655 867.5h4v4h-4zM719 867.5h4v4h-4zM727 867.5h8v4h-8zM771 867.5h4v4h-4zM795 867.5h4v4h-4zM807 867.5h8v4h-8zM643 871.5h12v4h-12zM715 871.5h4v4h-4zM731 871.5h4v4h-4zM795 871.5h20v4h-20zM731 875.5h4v4h-4zM767 875.5h4v4h-4zM795 875.5h16v4h-16zM659 879.5h4v4h-4zM671 879.5h4v4h-4zM731 879.5h4v4h-4zM799 879.5h8v4h-8zM675 883.5h4v4h-4zM711 883.5h4v4h-4zM767 883.5h4v4h-4zM655 887.5h4v4h-4zM647 891.5h4v4h-4zM679 891.5h4v4h-4zM703 891.5h4v4h-4zM643 895.5h4v4h-4zM679 895.5h16v4h-16zM735 895.5h4v4h-4zM775 895.5h4v4h-4zM679 899.5h8v4h-8zM735 899.5h4v4h-4zM775 899.5h4v4h-4zM735 903.5h4v4h-4zM775 907.5h4v4h-4zM775 911.5h4v4h-4zM775 915.5h4v4h-4zM919 915.5h16v4h-16zM915 919.5h4v4h-4zM931 919.5h4v4h-4zM931 923.5h4v4h-4zM915 927.5h4v4h-4zM931 927.5h4v4h-4zM715 931.5h8v4h-8zM919 931.5h12v4h-12zM711 935.5h4v4h-4zM723 935.5h4v4h-4zM735 935.5h4v4h-4zM711 939.5h4v4h-4zM723 939.5h4v4h-4zM743 939.5h4v4h-4zM711 943.5h4v4h-4zM723 943.5h4v4h-4zM755 943.5h20v4h-20zM979 943.5h40v4h-40zM715 947.5h8v4h-8zM975 947.5h4v4h-4zM971 955.5h4v4h-4zM967 967.5h4v4h-4zM967 971.5h4v4h-4zM807 979.5h8v4h-8zM967 979.5h4v4h-4zM803 983.5h8v4h-8zM967 983.5h4v4h-4zM799 987.5h8v4h-8zM795 991.5h4v4h-4zM811 991.5h4v4h-4zM975 991.5h4v4h-4zM995 991.5h12v4h-12zM791 995.5h4v4h-4zM811 995.5h4v4h-4zM791 999.5h4v4h-4zM791 1003.5h4v4h-4zM815 1007.5h4v4h-4zM795 1011.5h4v4h-4zM815 1011.5h4v4h-4zM799 1015.5h4v4h-4zM815 1015.5h4v4h-4zM807 1019.5h4v4h-4zM879 1039.5h16v4h-16zM763 1043.5h4v4h-4zM859 1043.5h28v4h-28zM899 1043.5h4v4h-4zM759 1047.5h4v4h-4zM767 1047.5h4v4h-4zM859 1047.5h20v4h-20zM903 1047.5h4v4h-4zM755 1051.5h4v4h-4zM855 1051.5h8v4h-8zM907 1051.5h4v4h-4zM927 1051.5h8v4h-8zM751 1055.5h4v4h-4zM771 1055.5h4v4h-4zM855 1055.5h4v4h-4zM911 1055.5h12v4h-12zM751 1059.5h4v4h-4zM771 1059.5h4v4h-4zM811 1059.5h8v4h-8zM851 1059.5h8v4h-8zM751 1063.5h8v4h-8zM767 1063.5h4v4h-4zM807 1063.5h8v4h-8zM819 1063.5h12v4h-12zM843 1063.5h8v4h-8zM807 1067.5h4v4h-4zM707 1071.5h4v4h-4zM807 1071.5h4v4h-4zM707 1075.5h4v4h-4zM807 1075.5h4v4h-4zM807 1079.5h4v4h-4zM811 1083.5h4v4h-4zM751 1087.5h4v4h-4zM779 1087.5h4v4h-4zM811 1087.5h4v4h-4zM747 1091.5h4v4h-4zM779 1091.5h4v4h-4zM811 1091.5h8v4h-8zM747 1095.5h4v4h-4zM779 1095.5h4v4h-4zM807 1095.5h20v4h-20zM835 1095.5h8v4h-8zM803 1099.5h4v4h-4zM819 1099.5h4v4h-4zM843 1099.5h4v4h-4zM747 1103.5h4v4h-4zM775 1103.5h4v4h-4zM847 1103.5h4v4h-4zM747 1107.5h4v4h-4zM799 1107.5h4v4h-4zM847 1107.5h4v4h-4zM747 1111.5h4v4h-4zM771 1111.5h4v4h-4zM799 1111.5h4v4h-4zM823 1111.5h4v4h-4zM847 1111.5h8v4h-8zM743 1115.5h8v4h-8zM847 1115.5h4v4h-4zM727 1119.5h4v4h-4zM743 1119.5h8v4h-8zM767 1119.5h4v4h-4zM827 1119.5h4v4h-4zM847 1119.5h4v4h-4zM723 1123.5h4v4h-4zM747 1123.5h8v4h-8zM767 1123.5h4v4h-4zM799 1123.5h4v4h-4zM827 1123.5h4v4h-4zM843 1123.5h8v4h-8zM747 1127.5h8v4h-8zM799 1127.5h4v4h-4zM827 1127.5h4v4h-4zM843 1127.5h8v4h-8zM747 1131.5h8v4h-8zM771 1131.5h4v4h-4zM847 1131.5h8v4h-8zM867 1131.5h4v4h-4zM723 1135.5h4v4h-4zM743 1135.5h16v4h-16zM779 1135.5h4v4h-4zM823 1135.5h4v4h-4zM847 1135.5h16v4h-16zM727 1139.5h32v4h-32zM823 1139.5h4v4h-4zM739 1143.5h16v4h-16zM783 1143.5h4v4h-4zM823 1143.5h4v4h-4zM743 1147.5h8v4h-8zM803 1147.5h4v4h-4zM843 1147.5h8v4h-8zM743 1151.5h4v4h-4zM775 1151.5h4v4h-4zM803 1151.5h4v4h-4zM851 1151.5h4v4h-4zM739 1155.5h8v4h-8zM767 1155.5h4v4h-4zM739 1159.5h4v4h-4zM767 1159.5h4v4h-4zM807 1159.5h4v4h-4zM739 1163.5h4v4h-4zM767 1163.5h4v4h-4zM819 1163.5h4v4h-4zM735 1167.5h8v4h-8zM735 1171.5h4v4h-4zM735 1175.5h8v4h-8zM767 1175.5h4v4h-4zM735 1179.5h28v4h-28zM735 1199.5h12v4h-12zM731 1203.5h8v4h-8zM747 1203.5h4v4h-4zM675 1207.5h12v4h-12zM731 1207.5h4v4h-4zM755 1207.5h4v4h-4zM675 1211.5h12v4h-12zM727 1211.5h4v4h-4zM755 1211.5h4v4h-4zM675 1215.5h8v4h-8zM723 1215.5h4v4h-4zM759 1215.5h8v4h-8zM719 1219.5h8v4h-8zM767 1219.5h12v4h-12zM711 1223.5h8v4h-8zM711 1227.5h4v4h-4zM707 1231.5h4v4h-4zM707 1235.5h4v4h-4zM727 1235.5h12v4h-12zM707 1239.5h4v4h-4zM723 1239.5h8v4h-8zM739 1239.5h4v4h-4zM711 1243.5h4v4h-4zM719 1243.5h8v4h-8zM739 1243.5h8v4h-8zM743 1247.5h8v4h-8zM759 1247.5h12v4h-12zM747 1251.5h20v4h-20z"/>
<path fill="#6000FF" d="M623 727.5h12v4h-12zM687 727.5h8v4h-8zM727 727.5h24v4h-24zM795 727.5h36v4h-36zM623 731.5h12v4h-12zM687 731.5h8v4h-8zM727 731.5h24v4h-24zM795 731.5h36v4h-36zM623 735.5h16v4h-16zM675 735.5h4v4h-4zM687 735.5h8v4h-8zM727 735.5h24v4h-24zM795 735.5h8v4h-8zM807 735.5h28v4h-28zM619 739.5h8v4h-8zM631 739.5h8v4h-8zM675 739.5h4v4h-4zM691 739.5h4v4h-4zM719 739.5h32v4h-32zM791 739.5h8v4h-8zM807 739.5h16v4h-16zM831 739.5h4v4h-4zM615 743.5h4v4h-4zM635 743.5h4v4h-4zM671 743.5h4v4h-4zM691 743.5h4v4h-4zM711 743.5h36v4h-36zM787 743.5h8v4h-8zM811 743.5h8v4h-8zM611 747.5h8v4h-8zM635 747.5h4v4h-4zM671 747.5h4v4h-4zM691 747.5h4v4h-4zM707 747.5h4v4h-4zM727 747.5h20v4h-20zM779 747.5h4v4h-4zM811 747.5h8v4h-8zM611 751.5h4v4h-4zM635 751.5h4v4h-4zM671 751.5h4v4h-4zM687 751.5h4v4h-4zM703 751.5h4v4h-4zM727 751.5h20v4h-20zM811 751.5h4v4h-4zM611 755.5h4v4h-4zM635 755.5h4v4h-4zM675 755.5h16v4h-16zM703 755.5h4v4h-4zM727 755.5h20v4h-20zM771 755.5h4v4h-4zM807 755.5h8v4h-8zM615 759.5h4v4h-4zM635 759.5h4v4h-4zM679 759.5h8v4h-8zM707 759.5h4v4h-4zM727 759.5h4v4h-4zM743 759.5h8v4h-8zM767 759.5h8v4h-8zM799 759.5h12v4h-12zM615 763.5h4v4h-4zM635 763.5h4v4h-4zM707 763.5h4v4h-4zM723 763.5h8v4h-8zM751 763.5h8v4h-8zM767 763.5h40v4h-40zM843 763.5h20v4h-20zM615 767.5h8v4h-8zM631 767.5h8v4h-8zM711 767.5h16v4h-16zM771 767.5h8v4h-8zM839 767.5h4v4h-4zM619 771.5h20v4h-20zM775 771.5h4v4h-4zM839 771.5h4v4h-4zM619 775.5h16v4h-16zM663 775.5h32v4h-32zM775 775.5h4v4h-4zM839 775.5h4v4h-4zM631 779.5h4v4h-4zM655 779.5h4v4h-4zM691 779.5h12v4h-12zM775 779.5h4v4h-4zM835 779.5h8v4h-8zM695 783.5h8v4h-8zM779 783.5h4v4h-4zM835 783.5h8v4h-8zM695 787.5h4v4h-4zM779 787.5h4v4h-4zM831 787.5h12v4h-12zM879 787.5h8v4h-8zM691 791.5h4v4h-4zM779 791.5h4v4h-4zM831 791.5h8v4h-8zM879 791.5h8v4h-8zM687 795.5h4v4h-4zM779 795.5h4v4h-4zM827 795.5h8v4h-8zM879 795.5h8v4h-8zM687 799.5h4v4h-4zM779 799.5h4v4h-4zM827 799.5h8v4h-8zM683 803.5h8v4h-8zM779 803.5h4v4h-4zM827 803.5h8v4h-8zM679 807.5h16v4h-16zM775 807.5h8v4h-8zM827 807.5h8v4h-8zM675 811.5h16v4h-16zM699 811.5h8v4h-8zM775 811.5h4v4h-4zM823 811.5h16v4h-16zM671 815.5h16v4h-16zM707 815.5h4v4h-4zM767 815.5h12v4h-12zM823 815.5h20v4h-20zM671 819.5h16v4h-16zM763 819.5h8v4h-8zM819 819.5h24v4h-24zM635 823.5h8v4h-8zM667 823.5h20v4h-20zM715 823.5h4v4h-4zM763 823.5h8v4h-8zM823 823.5h12v4h-12zM635 827.5h36v4h-36zM679 827.5h4v4h-4zM723 827.5h4v4h-4zM763 827.5h4v4h-4zM823 827.5h8v4h-8zM635 831.5h12v4h-12zM679 831.5h4v4h-4zM727 831.5h4v4h-4zM763 831.5h4v4h-4zM823 831.5h4v4h-4zM631 835.5h12v4h-12zM683 835.5h4v4h-4zM727 835.5h4v4h-4zM763 835.5h4v4h-4zM823 835.5h4v4h-4zM631 839.5h8v4h-8zM683 839.5h4v4h-4zM727 839.5h4v4h-4zM763 839.5h28v4h-28zM823 839.5h4v4h-4zM631 843.5h4v4h-4zM683 843.5h4v4h-4zM727 843.5h4v4h-4zM763 843.5h8v4h-8zM787 843.5h8v4h-8zM819 843.5h8v4h-8zM655 847.5h16v4h-16zM683 847.5h4v4h-4zM727 847.5h4v4h-4zM759 847.5h12v4h-12zM795 847.5h4v4h-4zM819 847.5h4v4h-4zM655 851.5h28v4h-28zM755 851.5h16v4h-16zM795 851.5h8v4h-8zM815 851.5h8v4h-8zM655 855.5h8v4h-8zM723 855.5h4v4h-4zM751 855.5h8v4h-8zM763 855.5h8v4h-8zM795 855.5h12v4h-12zM811 855.5h8v4h-8zM631 859.5h4v4h-4zM659 859.5h4v4h-4zM719 859.5h8v4h-8zM751 859.5h4v4h-4zM767 859.5h4v4h-4zM799 859.5h20v4h-20zM631 863.5h4v4h-4zM659 863.5h4v4h-4zM715 863.5h8v4h-8zM747 863.5h8v4h-8zM767 863.5h4v4h-4zM799 863.5h12v4h-12zM631 867.5h8v4h-8zM659 867.5h4v4h-4zM715 867.5h4v4h-4zM735 867.5h16v4h-16zM767 867.5h4v4h-4zM799 867.5h8v4h-8zM631 871.5h12v4h-12zM655 871.5h8v4h-8zM711 871.5h4v4h-4zM735 871.5h8v4h-8zM763 871.5h8v4h-8zM643 875.5h28v4h-28zM711 875.5h4v4h-4zM735 875.5h4v4h-4zM763 875.5h4v4h-4zM655 879.5h4v4h-4zM675 879.5h4v4h-4zM711 879.5h4v4h-4zM735 879.5h4v4h-4zM763 879.5h4v4h-4zM655 883.5h4v4h-4zM679 883.5h4v4h-4zM707 883.5h4v4h-4zM735 883.5h4v4h-4zM763 883.5h4v4h-4zM647 887.5h8v4h-8zM679 887.5h8v4h-8zM699 887.5h12v4h-12zM735 887.5h4v4h-4zM767 887.5h4v4h-4zM643 891.5h4v4h-4zM683 891.5h20v4h-20zM735 891.5h4v4h-4zM771 891.5h4v4h-4zM639 895.5h4v4h-4zM775 903.5h4v4h-4zM735 907.5h4v4h-4zM735 911.5h4v4h-4zM735 915.5h4v4h-4zM735 919.5h4v4h-4zM919 919.5h12v4h-12zM735 923.5h4v4h-4zM915 923.5h16v4h-16zM735 927.5h4v4h-4zM919 927.5h12v4h-12zM735 931.5h4v4h-4zM771 931.5h4v4h-4zM715 935.5h8v4h-8zM739 935.5h4v4h-4zM771 935.5h4v4h-4zM715 939.5h8v4h-8zM747 939.5h8v4h-8zM767 939.5h8v4h-8zM715 943.5h8v4h-8zM979 947.5h36v4h-36zM975 951.5h12v4h-12zM991 951.5h12v4h-12zM1011 951.5h4v4h-4zM975 955.5h4v4h-4zM971 959.5h4v4h-4zM971 963.5h4v4h-4zM967 975.5h4v4h-4zM811 983.5h4v4h-4zM807 987.5h8v4h-8zM971 987.5h8v4h-8zM995 987.5h12v4h-12zM799 991.5h12v4h-12zM979 991.5h16v4h-16zM795 995.5h16v4h-16zM795 999.5h20v4h-20zM795 1003.5h4v4h-4zM807 1003.5h8v4h-8zM795 1007.5h8v4h-8zM811 1007.5h4v4h-4zM799 1011.5h8v4h-8zM811 1011.5h4v4h-4zM803 1015.5h12v4h-12zM887 1043.5h12v4h-12zM763 1047.5h4v4h-4zM879 1047.5h12v4h-12zM895 1047.5h8v4h-8zM759 1051.5h12v4h-12zM863 1051.5h20v4h-20zM903 1051.5h4v4h-4zM755 1055.5h16v4h-16zM859 1055.5h20v4h-20zM903 1055.5h8v4h-8zM923 1055.5h12v4h-12zM755 1059.5h16v4h-16zM859 1059.5h16v4h-16zM907 1059.5h20v4h-20zM759 1063.5h8v4h-8zM815 1063.5h4v4h-4zM851 1063.5h16v4h-16zM911 1063.5h4v4h-4zM811 1067.5h48v4h-48zM811 1071.5h40v4h-40zM811 1075.5h8v4h-8zM811 1079.5h8v4h-8zM815 1083.5h8v4h-8zM755 1087.5h24v4h-24zM815 1087.5h28v4h-28zM751 1091.5h4v4h-4zM775 1091.5h4v4h-4zM819 1091.5h28v4h-28zM775 1095.5h4v4h-4zM843 1095.5h8v4h-8zM747 1099.5h4v4h-4zM775 1099.5h4v4h-4zM807 1099.5h12v4h-12zM847 1099.5h8v4h-8zM771 1103.5h4v4h-4zM803 1103.5h4v4h-4zM819 1103.5h4v4h-4zM851 1103.5h8v4h-8zM751 1107.5h4v4h-4zM771 1107.5h4v4h-4zM803 1107.5h4v4h-4zM819 1107.5h4v4h-4zM851 1107.5h44v4h-44zM751 1111.5h4v4h-4zM767 1111.5h4v4h-4zM819 1111.5h4v4h-4zM855 1111.5h40v4h-40zM751 1115.5h8v4h-8zM763 1115.5h8v4h-8zM799 1115.5h4v4h-4zM823 1115.5h4v4h-4zM851 1115.5h40v4h-40zM731 1119.5h12v4h-12zM751 1119.5h16v4h-16zM799 1119.5h4v4h-4zM823 1119.5h4v4h-4zM851 1119.5h36v4h-36zM727 1123.5h4v4h-4zM739 1123.5h8v4h-8zM755 1123.5h12v4h-12zM823 1123.5h4v4h-4zM851 1123.5h32v4h-32zM723 1127.5h4v4h-4zM739 1127.5h8v4h-8zM755 1127.5h16v4h-16zM803 1127.5h4v4h-4zM823 1127.5h4v4h-4zM851 1127.5h24v4h-24zM723 1131.5h8v4h-8zM739 1131.5h8v4h-8zM755 1131.5h16v4h-16zM803 1131.5h4v4h-4zM823 1131.5h4v4h-4zM855 1131.5h12v4h-12zM727 1135.5h16v4h-16zM759 1135.5h20v4h-20zM803 1135.5h4v4h-4zM759 1139.5h24v4h-24zM803 1139.5h4v4h-4zM755 1143.5h28v4h-28zM803 1143.5h4v4h-4zM751 1147.5h32v4h-32zM823 1147.5h4v4h-4zM747 1151.5h28v4h-28zM807 1151.5h4v4h-4zM827 1151.5h24v4h-24zM747 1155.5h20v4h-20zM807 1155.5h4v4h-4zM847 1155.5h4v4h-4zM743 1159.5h24v4h-24zM811 1159.5h8v4h-8zM743 1163.5h8v4h-8zM763 1163.5h4v4h-4zM823 1163.5h8v4h-8zM743 1167.5h8v4h-8zM763 1167.5h8v4h-8zM739 1171.5h12v4h-12zM763 1171.5h8v4h-8zM743 1175.5h24v4h-24zM739 1203.5h8v4h-8zM735 1207.5h20v4h-20zM731 1211.5h24v4h-24zM727 1215.5h32v4h-32zM727 1219.5h40v4h-40zM719 1223.5h68v4h-68zM715 1227.5h68v4h-68zM711 1231.5h64v4h-64zM711 1235.5h16v4h-16zM739 1235.5h40v4h-40zM711 1239.5h12v4h-12zM743 1239.5h36v4h-36zM715 1243.5h4v4h-4zM747 1243.5h28v4h-28zM751 1247.5h8v4h-8z"/>
<path fill="#C000FF" d="M683 727.5h4v4h-4zM751 727.5h4v4h-4zM791 727.5h4v4h-4zM679 731.5h8v4h-8zM751 731.5h4v4h-4zM791 731.5h4v4h-4zM679 735.5h8v4h-8zM751 735.5h4v4h-4zM791 735.5h4v4h-4zM627 739.5h4v4h-4zM679 739.5h12v4h-12zM751 739.5h4v4h-4zM823 739.5h8v4h-8zM619 743.5h16v4h-16zM675 743.5h16v4h-16zM747 743.5h4v4h-4zM783 743.5h4v4h-4zM819 743.5h16v4h-16zM619 747.5h8v4h-8zM631 747.5h4v4h-4zM675 747.5h16v4h-16zM711 747.5h16v4h-16zM747 747.5h4v4h-4zM775 747.5h4v4h-4zM819 747.5h4v4h-4zM615 751.5h8v4h-8zM631 751.5h4v4h-4zM675 751.5h12v4h-12zM707 751.5h4v4h-4zM723 751.5h4v4h-4zM747 751.5h4v4h-4zM771 751.5h4v4h-4zM815 751.5h8v4h-8zM615 755.5h8v4h-8zM631 755.5h4v4h-4zM707 755.5h4v4h-4zM723 755.5h4v4h-4zM747 755.5h8v4h-8zM767 755.5h4v4h-4zM815 755.5h4v4h-4zM619 759.5h16v4h-16zM711 759.5h4v4h-4zM719 759.5h8v4h-8zM751 759.5h16v4h-16zM811 759.5h8v4h-8zM843 759.5h12v4h-12zM619 763.5h16v4h-16zM711 763.5h12v4h-12zM807 763.5h8v4h-8zM839 763.5h4v4h-4zM623 767.5h8v4h-8zM779 767.5h32v4h-32zM835 767.5h4v4h-4zM779 771.5h4v4h-4zM835 771.5h4v4h-4zM779 775.5h4v4h-4zM835 775.5h4v4h-4zM659 779.5h4v4h-4zM679 779.5h12v4h-12zM779 779.5h4v4h-4zM831 779.5h4v4h-4zM655 783.5h4v4h-4zM687 783.5h8v4h-8zM783 783.5h4v4h-4zM827 783.5h8v4h-8zM687 787.5h8v4h-8zM783 787.5h4v4h-4zM827 787.5h4v4h-4zM687 791.5h4v4h-4zM783 791.5h4v4h-4zM823 791.5h8v4h-8zM683 795.5h4v4h-4zM783 795.5h4v4h-4zM823 795.5h4v4h-4zM683 799.5h4v4h-4zM783 799.5h4v4h-4zM823 799.5h4v4h-4zM671 803.5h12v4h-12zM783 803.5h4v4h-4zM819 803.5h8v4h-8zM667 807.5h12v4h-12zM783 807.5h4v4h-4zM819 807.5h8v4h-8zM667 811.5h8v4h-8zM691 811.5h8v4h-8zM779 811.5h8v4h-8zM811 811.5h12v4h-12zM643 815.5h4v4h-4zM663 815.5h8v4h-8zM687 815.5h4v4h-4zM703 815.5h4v4h-4zM779 815.5h8v4h-8zM807 815.5h16v4h-16zM639 819.5h12v4h-12zM659 819.5h12v4h-12zM707 819.5h4v4h-4zM771 819.5h16v4h-16zM807 819.5h12v4h-12zM643 823.5h24v4h-24zM711 823.5h4v4h-4zM771 823.5h12v4h-12zM811 823.5h12v4h-12zM683 827.5h4v4h-4zM715 827.5h8v4h-8zM767 827.5h16v4h-16zM815 827.5h8v4h-8zM683 831.5h4v4h-4zM723 831.5h4v4h-4zM767 831.5h20v4h-20zM815 831.5h8v4h-8zM767 835.5h28v4h-28zM819 835.5h4v4h-4zM687 839.5h4v4h-4zM791 839.5h8v4h-8zM815 839.5h8v4h-8zM687 843.5h4v4h-4zM795 843.5h8v4h-8zM815 843.5h4v4h-4zM687 847.5h4v4h-4zM723 847.5h4v4h-4zM799 847.5h20v4h-20zM683 851.5h4v4h-4zM723 851.5h4v4h-4zM803 851.5h12v4h-12zM663 855.5h16v4h-16zM719 855.5h4v4h-4zM759 855.5h4v4h-4zM807 855.5h4v4h-4zM663 859.5h4v4h-4zM715 859.5h4v4h-4zM755 859.5h12v4h-12zM663 863.5h4v4h-4zM711 863.5h4v4h-4zM755 863.5h12v4h-12zM663 867.5h4v4h-4zM711 867.5h4v4h-4zM751 867.5h16v4h-16zM627 871.5h4v4h-4zM663 871.5h8v4h-8zM707 871.5h4v4h-4zM743 871.5h20v4h-20zM631 875.5h12v4h-12zM671 875.5h4v4h-4zM707 875.5h4v4h-4zM739 875.5h8v4h-8zM755 875.5h8v4h-8zM631 879.5h24v4h-24zM679 879.5h4v4h-4zM707 879.5h4v4h-4zM739 879.5h4v4h-4zM759 879.5h4v4h-4zM631 883.5h24v4h-24zM683 883.5h4v4h-4zM703 883.5h4v4h-4zM739 883.5h4v4h-4zM759 883.5h4v4h-4zM631 887.5h16v4h-16zM687 887.5h12v4h-12zM739 887.5h4v4h-4zM763 887.5h4v4h-4zM635 891.5h8v4h-8zM739 891.5h4v4h-4zM767 891.5h4v4h-4zM739 895.5h4v4h-4zM771 895.5h4v4h-4zM739 899.5h4v4h-4zM771 899.5h4v4h-4zM739 903.5h4v4h-4zM771 903.5h4v4h-4zM771 907.5h4v4h-4zM771 911.5h4v4h-4zM771 915.5h4v4h-4zM771 919.5h4v4h-4zM771 923.5h4v4h-4zM739 927.5h4v4h-4zM771 927.5h4v4h-4zM739 931.5h4v4h-4zM743 935.5h4v4h-4zM767 935.5h4v4h-4zM755 939.5h12v4h-12zM987 951.5h4v4h-4zM1003 951.5h8v4h-8zM979 955.5h36v4h-36zM975 959.5h36v4h-36zM975 963.5h36v4h-36zM971 967.5h4v4h-4zM991 967.5h20v4h-20zM971 971.5h4v4h-4zM971 975.5h4v4h-4zM971 979.5h4v4h-4zM971 983.5h8v4h-8zM991 983.5h16v4h-16zM979 987.5h16v4h-16zM799 1003.5h8v4h-8zM803 1007.5h8v4h-8zM807 1011.5h4v4h-4zM891 1047.5h4v4h-4zM883 1051.5h20v4h-20zM879 1055.5h8v4h-8zM899 1055.5h4v4h-4zM875 1059.5h8v4h-8zM903 1059.5h4v4h-4zM927 1059.5h8v4h-8zM867 1063.5h12v4h-12zM903 1063.5h8v4h-8zM915 1063.5h12v4h-12zM859 1067.5h16v4h-16zM911 1067.5h4v4h-4zM851 1071.5h16v4h-16zM819 1075.5h40v4h-40zM819 1079.5h36v4h-36zM823 1083.5h32v4h-32zM843 1087.5h12v4h-12zM755 1091.5h20v4h-20zM847 1091.5h8v4h-8zM751 1095.5h8v4h-8zM771 1095.5h4v4h-4zM851 1095.5h8v4h-8zM751 1099.5h4v4h-4zM771 1099.5h4v4h-4zM855 1099.5h12v4h-12zM751 1103.5h8v4h-8zM767 1103.5h4v4h-4zM807 1103.5h12v4h-12zM859 1103.5h36v4h-36zM755 1107.5h16v4h-16zM807 1107.5h4v4h-4zM815 1107.5h4v4h-4zM895 1107.5h4v4h-4zM755 1111.5h12v4h-12zM803 1111.5h4v4h-4zM759 1115.5h4v4h-4zM803 1115.5h4v4h-4zM819 1115.5h4v4h-4zM803 1119.5h4v4h-4zM819 1119.5h4v4h-4zM731 1123.5h8v4h-8zM803 1123.5h4v4h-4zM819 1123.5h4v4h-4zM727 1127.5h12v4h-12zM807 1127.5h4v4h-4zM819 1127.5h4v4h-4zM731 1131.5h8v4h-8zM807 1131.5h4v4h-4zM819 1131.5h4v4h-4zM807 1135.5h4v4h-4zM819 1135.5h4v4h-4zM807 1139.5h4v4h-4zM819 1139.5h4v4h-4zM807 1143.5h4v4h-4zM819 1143.5h4v4h-4zM807 1147.5h4v4h-4zM819 1147.5h4v4h-4zM811 1151.5h16v4h-16zM811 1155.5h36v4h-36zM819 1159.5h28v4h-28zM751 1163.5h12v4h-12zM831 1163.5h4v4h-4zM751 1167.5h12v4h-12zM751 1171.5h12v4h-12zM775 1231.5h8v4h-8z"/>
<path fill="#FF00FF" d="M755 727.5h4v4h-4zM755 731.5h4v4h-4zM787 739.5h4v4h-4zM751 743.5h4v4h-4zM779 743.5h4v4h-4zM627 747.5h4v4h-4zM751 747.5h4v4h-4zM771 747.5h4v4h-4zM823 747.5h16v4h-16zM623 751.5h8v4h-8zM711 751.5h12v4h-12zM751 751.5h4v4h-4zM767 751.5h4v4h-4zM823 751.5h4v4h-4zM623 755.5h8v4h-8zM711 755.5h12v4h-12zM755 755.5h12v4h-12zM819 755.5h4v4h-4zM847 755.5h4v4h-4zM715 759.5h4v4h-4zM819 759.5h4v4h-4zM839 759.5h4v4h-4zM815 763.5h4v4h-4zM835 763.5h4v4h-4zM811 767.5h8v4h-8zM783 771.5h32v4h-32zM831 771.5h4v4h-4zM783 775.5h12v4h-12zM827 775.5h8v4h-8zM663 779.5h16v4h-16zM783 779.5h8v4h-8zM823 779.5h8v4h-8zM659 783.5h4v4h-4zM679 783.5h8v4h-8zM787 783.5h4v4h-4zM823 783.5h4v4h-4zM683 787.5h4v4h-4zM787 787.5h4v4h-4zM823 787.5h4v4h-4zM683 791.5h4v4h-4zM787 791.5h4v4h-4zM819 791.5h4v4h-4zM679 795.5h4v4h-4zM787 795.5h4v4h-4zM819 795.5h4v4h-4zM659 799.5h24v4h-24zM787 799.5h4v4h-4zM819 799.5h4v4h-4zM651 803.5h20v4h-20zM787 803.5h8v4h-8zM815 803.5h4v4h-4zM647 807.5h4v4h-4zM655 807.5h12v4h-12zM787 807.5h12v4h-12zM807 807.5h12v4h-12zM643 811.5h8v4h-8zM655 811.5h12v4h-12zM787 811.5h24v4h-24zM647 815.5h16v4h-16zM691 815.5h12v4h-12zM787 815.5h20v4h-20zM651 819.5h8v4h-8zM687 819.5h4v4h-4zM787 819.5h20v4h-20zM687 823.5h4v4h-4zM707 823.5h4v4h-4zM783 823.5h28v4h-28zM687 827.5h4v4h-4zM783 827.5h32v4h-32zM687 831.5h4v4h-4zM719 831.5h4v4h-4zM787 831.5h28v4h-28zM687 835.5h4v4h-4zM723 835.5h4v4h-4zM795 835.5h24v4h-24zM723 839.5h4v4h-4zM799 839.5h16v4h-16zM723 843.5h4v4h-4zM803 843.5h12v4h-12zM687 851.5h4v4h-4zM719 851.5h4v4h-4zM679 855.5h8v4h-8zM715 855.5h4v4h-4zM667 859.5h4v4h-4zM711 859.5h4v4h-4zM667 867.5h4v4h-4zM707 867.5h4v4h-4zM671 871.5h4v4h-4zM675 875.5h4v4h-4zM703 875.5h4v4h-4zM747 875.5h8v4h-8zM683 879.5h4v4h-4zM703 879.5h4v4h-4zM743 879.5h4v4h-4zM751 879.5h8v4h-8zM687 883.5h16v4h-16zM755 883.5h4v4h-4zM759 887.5h4v4h-4zM763 891.5h4v4h-4zM767 895.5h4v4h-4zM739 907.5h4v4h-4zM739 911.5h4v4h-4zM739 915.5h4v4h-4zM739 919.5h4v4h-4zM739 923.5h4v4h-4zM767 927.5h4v4h-4zM743 931.5h4v4h-4zM767 931.5h4v4h-4zM747 935.5h20v4h-20zM975 967.5h16v4h-16zM975 971.5h4v4h-4zM983 971.5h28v4h-28zM975 975.5h4v4h-4zM987 975.5h24v4h-24zM975 979.5h4v4h-4zM987 979.5h20v4h-20zM979 983.5h12v4h-12zM887 1055.5h12v4h-12zM883 1059.5h8v4h-8zM899 1059.5h4v4h-4zM879 1063.5h8v4h-8zM899 1063.5h4v4h-4zM927 1063.5h4v4h-4zM875 1067.5h8v4h-8zM903 1067.5h8v4h-8zM915 1067.5h16v4h-16zM867 1071.5h12v4h-12zM859 1075.5h16v4h-16zM855 1079.5h12v4h-12zM855 1083.5h8v4h-8zM855 1087.5h8v4h-8zM855 1091.5h12v4h-12zM759 1095.5h12v4h-12zM859 1095.5h16v4h-16zM755 1099.5h16v4h-16zM867 1099.5h24v4h-24zM759 1103.5h8v4h-8zM895 1103.5h8v4h-8zM811 1107.5h4v4h-4zM807 1111.5h12v4h-12zM807 1115.5h12v4h-12zM807 1119.5h12v4h-12zM807 1123.5h12v4h-12zM811 1127.5h8v4h-8zM811 1131.5h8v4h-8zM811 1135.5h8v4h-8zM811 1139.5h8v4h-8zM811 1143.5h8v4h-8zM811 1147.5h8v4h-8z"/>
<path fill="#FF0060" d="M759 727.5h4v4h-4zM759 731.5h4v4h-4zM759 735.5h4v4h-4zM783 735.5h4v4h-4zM759 739.5h4v4h-4zM779 739.5h4v4h-4zM759 743.5h4v4h-4zM767 743.5h8v4h-8zM759 747.5h8v4h-8zM799 779.5h16v4h-16zM667 783.5h8v4h-8zM795 783.5h20v4h-20zM663 787.5h16v4h-16zM795 787.5h4v4h-4zM811 787.5h4v4h-4zM663 791.5h12v4h-12zM795 791.5h8v4h-8zM807 791.5h8v4h-8zM795 795.5h20v4h-20zM799 799.5h12v4h-12zM695 819.5h8v4h-8zM695 823.5h4v4h-4zM703 823.5h4v4h-4zM707 827.5h4v4h-4zM711 831.5h4v4h-4zM715 835.5h4v4h-4zM695 839.5h4v4h-4zM695 843.5h4v4h-4zM695 847.5h4v4h-4zM715 847.5h4v4h-4zM711 851.5h4v4h-4zM691 855.5h4v4h-4zM707 855.5h4v4h-4zM683 859.5h4v4h-4zM707 859.5h4v4h-4zM675 863.5h4v4h-4zM703 863.5h4v4h-4zM675 867.5h4v4h-4zM679 871.5h4v4h-4zM699 871.5h4v4h-4zM683 875.5h16v4h-16zM747 887.5h8v4h-8zM747 891.5h12v4h-12zM747 895.5h4v4h-4zM759 895.5h4v4h-4zM747 899.5h4v4h-4zM763 899.5h4v4h-4zM743 911.5h4v4h-4zM743 915.5h4v4h-4zM743 919.5h4v4h-4zM763 923.5h4v4h-4zM747 927.5h4v4h-4zM763 927.5h4v4h-4zM751 931.5h12v4h-12zM891 1067.5h4v4h-4zM891 1071.5h8v4h-8zM887 1075.5h40v4h-40zM883 1079.5h32v4h-32zM879 1083.5h20v4h-20zM879 1087.5h16v4h-16zM883 1091.5h32v4h-32zM891 1095.5h20v4h-20z"/>
<path fill="#FF0000" d="M763 727.5h24v4h-24zM763 731.5h24v4h-24zM763 735.5h20v4h-20zM763 739.5h16v4h-16zM763 743.5h4v4h-4zM799 787.5h12v4h-12zM803 791.5h4v4h-4zM699 823.5h4v4h-4zM695 827.5h12v4h-12zM695 831.5h16v4h-16zM695 835.5h20v4h-20zM699 839.5h20v4h-20zM699 843.5h20v4h-20zM699 847.5h16v4h-16zM695 851.5h16v4h-16zM695 855.5h12v4h-12zM687 859.5h20v4h-20zM679 863.5h24v4h-24zM679 867.5h24v4h-24zM683 871.5h16v4h-16zM751 895.5h8v4h-8zM751 899.5h12v4h-12zM747 903.5h20v4h-20zM747 907.5h20v4h-20zM747 911.5h20v4h-20zM747 915.5h20v4h-20zM747 919.5h20v4h-20zM747 923.5h16v4h-16zM751 927.5h12v4h-12zM915 1079.5h8v4h-8zM899 1083.5h20v4h-20zM895 1087.5h20v4h-20z"/>
<path fill="#FF00C0" d="M787 727.5h4v4h-4zM787 731.5h4v4h-4zM755 735.5h4v4h-4zM787 735.5h4v4h-4zM755 739.5h4v4h-4zM783 739.5h4v4h-4zM755 743.5h4v4h-4zM775 743.5h4v4h-4zM755 747.5h4v4h-4zM767 747.5h4v4h-4zM755 751.5h12v4h-12zM827 751.5h16v4h-16zM823 755.5h24v4h-24zM823 759.5h16v4h-16zM819 763.5h16v4h-16zM819 767.5h16v4h-16zM815 771.5h16v4h-16zM795 775.5h32v4h-32zM791 779.5h8v4h-8zM815 779.5h8v4h-8zM663 783.5h4v4h-4zM675 783.5h4v4h-4zM791 783.5h4v4h-4zM815 783.5h8v4h-8zM659 787.5h4v4h-4zM679 787.5h4v4h-4zM791 787.5h4v4h-4zM815 787.5h8v4h-8zM659 791.5h4v4h-4zM675 791.5h8v4h-8zM791 791.5h4v4h-4zM815 791.5h4v4h-4zM659 795.5h20v4h-20zM791 795.5h4v4h-4zM815 795.5h4v4h-4zM791 799.5h8v4h-8zM811 799.5h8v4h-8zM795 803.5h20v4h-20zM651 807.5h4v4h-4zM799 807.5h8v4h-8zM651 811.5h4v4h-4zM691 819.5h4v4h-4zM703 819.5h4v4h-4zM691 823.5h4v4h-4zM691 827.5h4v4h-4zM711 827.5h4v4h-4zM691 831.5h4v4h-4zM715 831.5h4v4h-4zM691 835.5h4v4h-4zM719 835.5h4v4h-4zM691 839.5h4v4h-4zM719 839.5h4v4h-4zM691 843.5h4v4h-4zM719 843.5h4v4h-4zM691 847.5h4v4h-4zM719 847.5h4v4h-4zM691 851.5h4v4h-4zM715 851.5h4v4h-4zM687 855.5h4v4h-4zM711 855.5h4v4h-4zM671 859.5h12v4h-12zM667 863.5h8v4h-8zM707 863.5h4v4h-4zM671 867.5h4v4h-4zM703 867.5h4v4h-4zM675 871.5h4v4h-4zM703 871.5h4v4h-4zM679 875.5h4v4h-4zM699 875.5h4v4h-4zM687 879.5h16v4h-16zM747 879.5h4v4h-4zM743 883.5h12v4h-12zM743 887.5h4v4h-4zM755 887.5h4v4h-4zM743 891.5h4v4h-4zM759 891.5h4v4h-4zM743 895.5h4v4h-4zM763 895.5h4v4h-4zM743 899.5h4v4h-4zM767 899.5h4v4h-4zM743 903.5h4v4h-4zM767 903.5h4v4h-4zM743 907.5h4v4h-4zM767 907.5h4v4h-4zM767 911.5h4v4h-4zM767 915.5h4v4h-4zM767 919.5h4v4h-4zM743 923.5h4v4h-4zM767 923.5h4v4h-4zM743 927.5h4v4h-4zM747 931.5h4v4h-4zM763 931.5h4v4h-4zM979 971.5h4v4h-4zM979 975.5h8v4h-8zM979 979.5h8v4h-8zM891 1059.5h8v4h-8zM887 1063.5h12v4h-12zM883 1067.5h8v4h-8zM895 1067.5h8v4h-8zM879 1071.5h12v4h-12zM899 1071.5h32v4h-32zM875 1075.5h12v4h-12zM867 1079.5h16v4h-16zM863 1083.5h16v4h-16zM863 1087.5h16v4h-16zM867 1091.5h16v4h-16zM875 1095.5h16v4h-16zM891 1099.5h16v4h-16z"/>
<path fill="#00FF48" d="M663 731.5h4v4h-4zM591 735.5h4v4h-4zM663 735.5h4v4h-4zM591 739.5h4v4h-4zM591 743.5h4v4h-4zM595 747.5h4v4h-4zM659 747.5h4v4h-4zM595 751.5h4v4h-4zM659 751.5h4v4h-4zM599 755.5h4v4h-4zM647 755.5h4v4h-4zM659 755.5h4v4h-4zM663 759.5h4v4h-4zM651 763.5h8v4h-8zM663 763.5h4v4h-4zM659 767.5h8v4h-8zM719 811.5h4v4h-4zM719 815.5h4v4h-4zM743 823.5h8v4h-8zM739 827.5h4v4h-4zM751 827.5h4v4h-4zM943 827.5h4v4h-4zM739 831.5h4v4h-4zM751 831.5h4v4h-4zM939 831.5h4v4h-4zM739 835.5h4v4h-4zM751 835.5h4v4h-4zM935 835.5h4v4h-4zM967 835.5h4v4h-4zM739 839.5h12v4h-12zM931 839.5h4v4h-4zM959 839.5h12v4h-12zM923 843.5h8v4h-8zM955 843.5h8v4h-8zM915 847.5h8v4h-8zM951 847.5h8v4h-8zM915 851.5h4v4h-4zM947 851.5h8v4h-8zM839 855.5h16v4h-16zM871 855.5h12v4h-12zM915 855.5h4v4h-4zM943 855.5h8v4h-8zM835 859.5h8v4h-8zM851 859.5h20v4h-20zM879 859.5h8v4h-8zM915 859.5h4v4h-4zM939 859.5h8v4h-8zM1019 859.5h4v4h-4zM835 863.5h4v4h-4zM883 863.5h8v4h-8zM915 863.5h4v4h-4zM935 863.5h8v4h-8zM1019 863.5h4v4h-4zM831 867.5h4v4h-4zM887 867.5h8v4h-8zM915 867.5h4v4h-4zM935 867.5h4v4h-4zM827 871.5h4v4h-4zM891 871.5h28v4h-28zM935 871.5h4v4h-4zM1019 871.5h4v4h-4zM903 875.5h12v4h-12zM935 875.5h4v4h-4zM1019 875.5h20v4h-20zM823 879.5h4v4h-4zM935 879.5h4v4h-4zM1027 879.5h8v4h-8zM935 883.5h4v4h-4zM819 887.5h4v4h-4zM935 887.5h4v4h-4zM811 891.5h8v4h-8zM887 891.5h12v4h-12zM935 891.5h4v4h-4zM807 895.5h4v4h-4zM883 895.5h8v4h-8zM899 895.5h4v4h-4zM931 895.5h4v4h-4zM651 899.5h12v4h-12zM799 899.5h8v4h-8zM883 899.5h8v4h-8zM903 899.5h4v4h-4zM931 899.5h4v4h-4zM963 899.5h8v4h-8zM651 903.5h12v4h-12zM723 903.5h4v4h-4zM787 903.5h12v4h-12zM883 903.5h8v4h-8zM903 903.5h12v4h-12zM923 903.5h4v4h-4zM955 903.5h8v4h-8zM967 903.5h12v4h-12zM651 907.5h20v4h-20zM719 907.5h8v4h-8zM783 907.5h4v4h-4zM887 907.5h16v4h-16zM955 907.5h4v4h-4zM975 907.5h36v4h-36zM655 911.5h4v4h-4zM671 911.5h4v4h-4zM719 911.5h8v4h-8zM899 911.5h4v4h-4zM951 911.5h4v4h-4zM1011 911.5h4v4h-4zM655 915.5h4v4h-4zM675 915.5h8v4h-8zM899 915.5h4v4h-4zM951 915.5h4v4h-4zM1015 915.5h4v4h-4zM655 919.5h4v4h-4zM679 919.5h24v4h-24zM899 919.5h4v4h-4zM955 919.5h8v4h-8zM1019 919.5h4v4h-4zM699 923.5h4v4h-4zM899 923.5h4v4h-4zM967 923.5h8v4h-8zM1027 923.5h4v4h-4zM783 927.5h4v4h-4zM899 927.5h4v4h-4zM975 927.5h4v4h-4zM783 931.5h4v4h-4zM899 931.5h4v4h-4zM979 931.5h4v4h-4zM787 935.5h4v4h-4zM899 935.5h4v4h-4zM943 935.5h4v4h-4zM991 935.5h32v4h-32zM787 939.5h4v4h-4zM823 939.5h16v4h-16zM899 939.5h8v4h-8zM935 939.5h20v4h-20zM791 943.5h4v4h-4zM819 943.5h8v4h-8zM831 943.5h8v4h-8zM911 943.5h24v4h-24zM959 943.5h4v4h-4zM791 947.5h4v4h-4zM819 947.5h4v4h-4zM835 947.5h4v4h-4zM963 947.5h4v4h-4zM703 951.5h4v4h-4zM735 951.5h8v4h-8zM751 951.5h8v4h-8zM791 951.5h4v4h-4zM819 951.5h4v4h-4zM835 951.5h4v4h-4zM963 951.5h4v4h-4zM703 955.5h4v4h-4zM731 955.5h4v4h-4zM763 955.5h4v4h-4zM791 955.5h4v4h-4zM819 955.5h4v4h-4zM835 955.5h4v4h-4zM963 955.5h4v4h-4zM727 959.5h4v4h-4zM767 959.5h4v4h-4zM791 959.5h4v4h-4zM819 959.5h4v4h-4zM835 959.5h8v4h-8zM707 963.5h4v4h-4zM723 963.5h4v4h-4zM791 963.5h4v4h-4zM819 963.5h4v4h-4zM835 963.5h4v4h-4zM703 967.5h8v4h-8zM719 967.5h4v4h-4zM771 967.5h4v4h-4zM787 967.5h8v4h-8zM811 967.5h8v4h-8zM827 967.5h12v4h-12zM695 971.5h4v4h-4zM715 971.5h8v4h-8zM771 971.5h4v4h-4zM787 971.5h8v4h-8zM803 971.5h4v4h-4zM827 971.5h4v4h-4zM715 975.5h8v4h-8zM771 975.5h4v4h-4zM787 975.5h12v4h-12zM719 979.5h4v4h-4zM771 979.5h4v4h-4zM791 979.5h4v4h-4zM719 983.5h4v4h-4zM771 983.5h4v4h-4zM823 983.5h4v4h-4zM719 987.5h4v4h-4zM771 987.5h8v4h-8zM823 987.5h4v4h-4zM959 987.5h4v4h-4zM719 991.5h4v4h-4zM775 991.5h4v4h-4zM823 991.5h4v4h-4zM955 991.5h4v4h-4zM719 995.5h4v4h-4zM775 995.5h4v4h-4zM823 995.5h4v4h-4zM951 995.5h8v4h-8zM775 999.5h8v4h-8zM823 999.5h4v4h-4zM947 999.5h8v4h-8zM779 1003.5h4v4h-4zM823 1003.5h4v4h-4zM939 1003.5h8v4h-8zM755 1007.5h16v4h-16zM783 1007.5h4v4h-4zM823 1007.5h4v4h-4zM935 1007.5h8v4h-8zM755 1011.5h4v4h-4zM767 1011.5h4v4h-4zM935 1011.5h4v4h-4zM751 1015.5h4v4h-4zM771 1015.5h4v4h-4zM935 1015.5h8v4h-8zM747 1019.5h4v4h-4zM771 1019.5h8v4h-8zM787 1019.5h4v4h-4zM831 1019.5h24v4h-24zM867 1019.5h28v4h-28zM939 1019.5h8v4h-8zM743 1023.5h8v4h-8zM775 1023.5h16v4h-16zM851 1023.5h16v4h-16zM891 1023.5h8v4h-8zM947 1023.5h4v4h-4zM971 1023.5h12v4h-12zM739 1027.5h8v4h-8zM895 1027.5h8v4h-8zM947 1027.5h4v4h-4zM967 1027.5h4v4h-4zM739 1031.5h8v4h-8zM807 1031.5h4v4h-4zM903 1031.5h4v4h-4zM947 1031.5h4v4h-4zM967 1031.5h4v4h-4zM739 1035.5h8v4h-8zM807 1035.5h4v4h-4zM907 1035.5h20v4h-20zM947 1035.5h4v4h-4zM963 1035.5h4v4h-4zM743 1039.5h4v4h-4zM923 1039.5h24v4h-24zM743 1043.5h4v4h-4zM739 1047.5h8v4h-8zM711 1051.5h28v4h-28zM727 1083.5h8v4h-8zM723 1087.5h4v4h-4zM735 1087.5h4v4h-4zM719 1091.5h4v4h-4zM735 1091.5h4v4h-4zM715 1095.5h8v4h-8zM707 1099.5h12v4h-12zM735 1099.5h4v4h-4zM735 1103.5h4v4h-4zM731 1107.5h4v4h-4zM787 1107.5h4v4h-4zM723 1111.5h4v4h-4zM783 1111.5h8v4h-8zM779 1115.5h4v4h-4zM787 1115.5h4v4h-4zM715 1119.5h4v4h-4zM779 1119.5h4v4h-4zM787 1119.5h4v4h-4zM711 1123.5h4v4h-4zM779 1123.5h12v4h-12zM711 1127.5h4v4h-4zM707 1131.5h4v4h-4zM691 1135.5h20v4h-20zM783 1159.5h12v4h-12zM779 1163.5h4v4h-4zM795 1163.5h4v4h-4zM779 1167.5h4v4h-4zM799 1167.5h8v4h-8zM811 1171.5h4v4h-4zM783 1175.5h4v4h-4zM787 1179.5h4v4h-4zM791 1183.5h16v4h-16zM759 1187.5h16v4h-16zM755 1191.5h4v4h-4zM775 1191.5h4v4h-4zM755 1195.5h4v4h-4zM779 1195.5h16v4h-16zM759 1199.5h4v4h-4zM763 1203.5h4v4h-4zM771 1207.5h4v4h-4zM775 1211.5h8v4h-8zM691 1239.5h4v4h-4zM683 1243.5h16v4h-16zM675 1247.5h24v4h-24zM691 1251.5h8v4h-8zM691 1255.5h4v4h-4zM691 1259.5h4v4h-4zM691 1263.5h4v4h-4zM691 1267.5h4v4h-4zM691 1271.5h4v4h-4zM691 1275.5h4v4h-4zM691 1279.5h4v4h-4zM707 1283.5h12v4h-12zM707 1287.5h4v4h-4zM719 1287.5h4v4h-4zM723 1295.5h4v4h-4z"/>
<path fill="#C4FF80" d="M859 875.5h8v4h-8zM855 879.5h16v4h-16zM855 883.5h16v4h-16zM855 887.5h16v4h-16zM851 891.5h20v4h-20zM915 891.5h12v4h-12zM843 895.5h28v4h-28zM915 895.5h8v4h-8zM839 899.5h32v4h-32zM835 903.5h8v4h-8zM859 903.5h12v4h-12zM831 907.5h8v4h-8zM863 907.5h8v4h-8zM791 911.5h8v4h-8zM827 911.5h12v4h-12zM867 911.5h4v4h-4zM787 915.5h16v4h-16zM827 915.5h8v4h-8zM867 915.5h4v4h-4zM787 919.5h16v4h-16zM827 919.5h20v4h-20zM867 919.5h4v4h-4zM995 919.5h12v4h-12zM791 923.5h8v4h-8zM827 923.5h28v4h-28zM867 923.5h8v4h-8zM991 923.5h20v4h-20zM851 927.5h36v4h-36zM995 927.5h8v4h-8zM859 931.5h28v4h-28zM691 935.5h4v4h-4zM863 935.5h24v4h-24zM691 939.5h4v4h-4zM867 939.5h20v4h-20zM871 943.5h16v4h-16zM871 947.5h16v4h-16zM803 951.5h8v4h-8zM875 951.5h12v4h-12zM947 951.5h12v4h-12zM803 955.5h8v4h-8zM895 955.5h24v4h-24zM943 955.5h16v4h-16zM803 959.5h8v4h-8zM887 959.5h32v4h-32zM943 959.5h16v4h-16zM891 963.5h24v4h-24zM939 963.5h20v4h-20zM891 967.5h24v4h-24zM939 967.5h8v4h-8zM955 967.5h4v4h-4zM903 971.5h4v4h-4zM939 971.5h8v4h-8zM955 971.5h4v4h-4zM939 975.5h8v4h-8zM955 975.5h4v4h-4zM939 979.5h8v4h-8zM955 979.5h4v4h-4zM939 983.5h16v4h-16zM943 987.5h8v4h-8zM731 991.5h8v4h-8zM891 991.5h8v4h-8zM731 995.5h8v4h-8zM887 995.5h16v4h-16zM727 999.5h16v4h-16zM887 999.5h16v4h-16zM727 1003.5h16v4h-16zM835 1003.5h4v4h-4zM887 1003.5h12v4h-12zM723 1007.5h20v4h-20zM831 1007.5h8v4h-8zM719 1011.5h24v4h-24zM715 1015.5h20v4h-20zM715 1019.5h12v4h-12zM715 1023.5h12v4h-12zM715 1027.5h8v4h-8zM715 1031.5h8v4h-8zM715 1035.5h8v4h-8z"/>
<path fill="#FFFFC0" d="M843 903.5h16v4h-16zM839 907.5h24v4h-24zM839 911.5h28v4h-28zM835 915.5h32v4h-32zM847 919.5h20v4h-20zM855 923.5h12v4h-12zM947 967.5h8v4h-8zM947 971.5h8v4h-8zM947 975.5h8v4h-8zM947 979.5h8v4h-8z"/>
<rect x="681.0" y="727.5" width="161.0" height="8.0" fill="#00FF20"/>
<rect x="681.0" y="735.5" width="60.0" height="4.0" fill="#00FFB0"/>
<ellipse cx="581.2" cy="838.3" rx="12.0" ry="18.0" fill="#00FFB0"/>
<ellipse cx="667.2" cy="1108.1" rx="14.0" ry="14.0" fill="#00FF48"/>
<ellipse cx="854.4" cy="1189.4" rx="14.0" ry="14.0" fill="#00FF20"/>
<ellipse cx="825.0" cy="1254.1" rx="24.0" ry="18.3" fill="#00FF20"/>
<ellipse cx="831.0" cy="1254.1" rx="25.0" ry="18.3" fill="#C4FF80"/>
<ellipse cx="1012.9" cy="1277.5" rx="22.7" ry="17.4" fill="#FFFFC0"/>
<ellipse cx="1044.0" cy="863.5" rx="8.5" ry="13.5" fill="#C4FF80"/>
<ellipse cx="1071.0" cy="999.5" rx="12.0" ry="13.0" fill="#FFFFC0"/>
<g fill="none" stroke="#000" stroke-width="4" stroke-linejoin="round" stroke-linecap="round">
<polygon points="680.0,762.0 685.4,760.0 691.3,747.2 699.2,742.2 711.1,737.3 719.9,733.4 723.9,728.0 728.8,734.4 735.7,728.0 749.5,733.4 748.6,741.3 753.5,744.2 770.3,745.2 772.2,750.1 776.2,742.2 778.2,749.2 786.1,749.2 786.1,742.2 790.0,743.2 795.9,746.2 813.7,741.3 812.0,749.5 809.8,755.3 816.0,763.0 826.8,766.9 833.0,773.1 840.8,780.1 842.3,785.5 876.4,786.3 879.5,789.4 893.5,801.8 901.2,817.3 904.3,832.8 898.9,835.1 889.6,835.1 879.5,844.4 879.5,848.3 897.3,848.3 917.5,848.3 933.8,839.0 940.0,844.4 949.3,847.5 957.0,854.0 988.1,856.1 1006.7,872.7 1023.3,876.8 1025.4,885.1 1026.7,893.3 1025.9,900.6 1023.4,908.7 1017.8,915.2 1012.9,920.9 1008.0,925.8 1003.1,933.1 997.4,940.4 993.3,946.1 992.5,954.3 992.5,965.7 990.9,978.7 986.8,990.1 982.8,999.8 977.1,1008.8 976.3,1014.5 968.9,1021.8 959.2,1021.8 949.4,1022.6 943.7,1025.9 932.3,1030.7 925.0,1036.4 916.9,1042.9 915.3,1049.5 914.4,1056.8 912.8,1067.3 904.7,1074.7 900.6,1082.8 895.7,1090.1 887.6,1096.6 881.9,1104.0 875.4,1109.6 871.3,1115.3 863.2,1119.8 852.6,1119.4 844.5,1116.2 838.0,1113.7 834.7,1111.3 834.7,1116.2 841.2,1122.7 845.3,1126.7 848.5,1131.6 845.3,1139.7 841.2,1145.4 831.5,1149.5 820.1,1152.0 808.7,1152.8 803.0,1151.1 804.6,1156.8 803.0,1165.0 798.1,1169.8 786.7,1168.2 781.0,1167.4 780.2,1173.9 784.3,1178.8 791.6,1178.0 790.8,1183.7 784.3,1184.5 781.0,1187.7 778.6,1195.9 776.1,1201.6 766.4,1202.4 760.7,1207.3 759.9,1213.0 766.4,1217.8 774.5,1221.9 772.9,1227.6 763.1,1234.1 759.1,1241.4 750.9,1244.7 747.7,1248.8 746.9,1255.3 753.4,1261.0 744.4,1261.0 733.8,1264.2 732.2,1273.2 724.1,1271.5 715.9,1269.1 707.8,1261.8 701.3,1252.8 697.2,1242.2 695.6,1230.9 696.4,1221.1 702.9,1215.4 695.6,1212.2 702.9,1206.5 707.8,1199.9 711.9,1193.4 715.9,1189.4 709.4,1188.6 706.2,1178.8 709.4,1173.9 709.4,1165.8 712.7,1159.3 714.3,1152.8 711.1,1143.8 714.3,1137.3 717.6,1131.6 721.6,1122.7 724.9,1113.7 727.3,1105.6 729.0,1097.4 728.1,1087.7 729.8,1077.9 729.0,1069.8 733.0,1060.0 734.7,1048.6 736.3,1040.5 736.3,1030.7 737.1,1022.6 738.7,1010.4 739.5,1000.6 737.7,984.5 725.3,974.2 704.6,965.9 688.0,955.5 679.7,941.0 667.3,920.3 659.0,899.6 646.6,885.1 648.7,868.5 654.9,860.2 646.6,856.1 646.6,843.7 652.8,839.5 654.9,827.1 661.1,820.9 671.4,810.5 679.7,793.9 675.6,785.7 669.4,773.2"/>
<polygon points="588.0,725.5 628.0,725.5 628.0,737.5 640.0,745.5 656.0,753.5 672.0,758.5 680.0,762.0 676.5,764.5 669.4,773.2 662.0,771.5 656.0,775.5 645.0,771.5 635.0,765.5 624.6,758.0 612.0,747.5 600.0,737.5"/>
<polygon points="753.4,1262.6 751.7,1265.0 745.2,1263.4 737.9,1266.7 736.3,1273.2 733.0,1276.4 724.1,1276.4 715.9,1273.2 707.8,1266.7 715.9,1278.9 728.1,1282.9 740.4,1285.4 752.6,1286.2 764.8,1283.7 772.9,1282.9 779.4,1280.5 768.8,1277.2 759.9,1271.5 754.2,1266.7"/>
<polygon points="711.9,1175.5 708.6,1175.5 706.2,1182.1 707.8,1188.6 711.9,1187.7 711.1,1181.2"/>
<polygon points="897.3,837.4 917.5,834.3 917.5,847.0 897.3,847.0"/>
<polygon points="808.0,737.5 818.0,737.5 818.0,743.5 808.0,743.5"/>
<polygon points="717.0,748.2 727.8,749.2 728.8,759.0 720.9,767.9 715.0,761.0"/>
<polyline points="728.0,735.5 721.6,745.2 716.8,750.9 713.5,760.7 718.4,767.2 720.8,775.3 725.7,778.6 739.5,778.6 745.2,785.9 759.9,785.1 762.3,790.8 758.2,798.9 760.7,807.0 762.3,812.7 764.8,820.9 765.6,825.7"/>
<polyline points="765.6,825.7 758.2,821.7 755.0,821.7 744.4,826.6 741.2,821.7 742.0,830.6 740.4,831.4 739.5,836.3 743.6,840.4 745.2,845.3 741.2,869.7"/>
<polyline points="741.2,869.7 734.7,866.4 729.0,854.2 716.8,855.0 711.1,846.1 701.3,837.1 697.2,836.3"/>
<polyline points="697.2,836.3 688.3,832.2 680.2,829.0 659.0,824.1"/>
<polyline points="680.0,762.0 676.0,767.5 669.4,773.2"/>
<polyline points="697.2,836.3 694.8,842.8 691.5,851.8 676.9,859.1 672.0,864.0 669.6,872.1 665.5,875.4 660.6,871.3 654.0,859.5 652.0,863.2"/>
<polyline points="741.2,869.7 735.5,875.4 716.8,878.6 714.3,889.2 707.8,896.5 710.3,904.6 717.6,912.0 722.5,916.9 729.0,916.9 736.3,912.8 736.3,925.0 743.6,925.0"/>
<polyline points="743.6,925.0 750.9,938.0 749.3,941.3 748.5,954.3 745.2,960.0 748.5,964.8 744.4,977.0 744.4,977.9"/>
<polyline points="744.4,977.9 737.1,984.8"/>
<polyline points="744.4,977.9 748.5,988.4 753.4,993.3 750.1,1001.5 755.0,1008.8 757.4,1015.3 763.1,1021.0"/>
<polyline points="763.1,1021.0 763.1,1030.7 753.4,1034.8 752.6,1047.0 751.7,1055.1 747.7,1063.3 742.0,1079.5 740.4,1087.7 736.3,1099.9 742.0,1108.0 740.4,1116.2 737.1,1128.4 731.4,1136.5 732.2,1148.7 728.1,1156.8 726.5,1165.0 724.9,1173.1 725.7,1185.3 728.1,1193.4 725.7,1201.6 727.3,1213.8 721.6,1221.9 720.0,1230.0 714.3,1238.2 714.3,1247.9 721.6,1254.5 724.1,1258.5 740.4,1258.5 753.4,1261.0"/>
<polyline points="751.7,1263.4 751.7,1282.1"/>
<polyline points="763.1,1021.0 770.4,1012.8 781.0,1015.3 786.7,1021.0 790.0,1014.5 798.9,1014.5"/>
<polyline points="798.9,1014.5 803.0,1006.3 805.4,998.2 807.9,994.9 821.7,992.5 829.0,992.5 836.3,996.6 836.7,999.6"/>
<polyline points="836.7,999.6 839.6,990.1 841.2,983.6 834.7,976.2 834.7,968.1 820.1,968.1 817.6,958.3 819.3,954.3 813.6,945.3 804.6,942.9 797.3,938.0 786.7,937.2 779.4,930.7 778.6,923.4 777.8,914.4 768.0,916.0 759.1,922.5 751.7,925.0 743.6,925.0"/>
<polyline points="765.6,825.7 770.4,829.8 777.0,829.0 781.0,824.9 787.5,823.3 789.2,817.6 794.0,817.6 794.0,804.6 798.9,803.0 805.4,801.3 814.4,798.9 816.0,793.2"/>
<polyline points="816.0,793.2 810.3,787.5 811.9,781.0 819.3,777.7 816.8,773.7 823.3,767.2"/>
<polyline points="816.0,793.2 821.7,794.8 822.5,801.3 825.0,806.2 822.5,813.5 824.1,820.9 829.8,824.9 835.5,822.5 844.5,819.2 850.2,820.0"/>
<polyline points="850.2,820.0 843.7,808.7 841.2,803.8 838.0,796.5 844.5,787.5"/>
<polyline points="850.2,820.0 855.1,815.2 862.4,815.2 869.7,818.4"/>
<polyline points="869.7,818.4 866.4,811.1 868.9,804.6 870.5,794.8 870.5,789.1"/>
<polyline points="869.7,818.4 878.6,817.6 881.9,815.2 890.0,801.3"/>
<polyline points="836.7,999.6 838.8,1014.5 850.2,1015.3 855.9,1016.9 857.5,1022.6 859.1,1030.7 865.6,1030.7 868.1,1035.6 865.6,1043.8"/>
<polyline points="865.6,1043.8 856.7,1058.4 850.2,1059.2 833.1,1057.6 836.3,1051.9 841.2,1042.1 832.3,1037.2 821.7,1030.7 813.6,1026.7 803.0,1018.5 798.9,1014.5"/>
<polyline points="865.6,1043.8 873.0,1047.8 873.0,1055.1 860.7,1062.5 854.2,1068.2 841.2,1081.2"/>
<polyline points="841.2,1081.2 838.0,1087.7 836.3,1099.9 834.7,1111.3"/>
<polyline points="841.2,1081.2 847.7,1080.4 854.2,1087.7 857.5,1086.9 865.6,1091.8 873.0,1095.8 877.0,1101.5 873.8,1105.6 875.4,1109.6"/>
<polyline points="635.4,768.8 636.2,762.3 637.8,757.4"/>
<polyline points="612.6,745.2 620.8,746.0 628.9,746.8"/>
<polyline points="599.6,730.6 610.2,722.4 618.3,716.7 626.5,715.1 632.2,713.5"/>
</g>
<g fill="#000" stroke="#000" stroke-width="2">
<polygon points="565.4,837.9 575.2,838.8 583.3,842.0 583.3,840.4 576.0,837.1 567.1,834.7"/>
</g>
<polyline points="591.7,729.6 608.5,746.4 624.2,757.9 635.8,763.2 645.2,771.6 656.8,767.4 671.5,762.1 682.0,759.0" fill="none" stroke="#000" stroke-width="8" stroke-linejoin="round"/><g fill="#000"><polygon points="711.0,739.5 720.0,731.5 724.0,727.5 737.0,727.5 750.0,733.5 746.0,739.5 737.0,741.5 729.0,738.5 721.0,743.5"/><polygon points="796.0,745.5 812.0,740.5 816.0,743.5 815.0,755.5 806.0,753.5 800.0,749.5"/></g><path fill="#000" fill-rule="evenodd" d="M702.1 1171.5L718.3 1171.5L725.5 1175.1L729.1 1195.4L729.1 1207.4L725.5 1207.4L725.5 1224.2L718.3 1224.2L718.3 1217.0L706.3 1217.0L706.3 1224.2L690.2 1224.2L690.2 1212.2L697.9 1207.4L697.9 1188.2ZM708.0 1180.5L717.0 1180.5L717.0 1213.5L708.0 1213.5Z"/><g fill="#000"><polygon points="690.2,1223.0 718.3,1223.0 721.9,1230.2 718.3,1233.8 713.5,1238.6 718.3,1248.2 723.1,1253.0 724.3,1256.5 738.7,1256.5 738.7,1260.7 745.9,1260.7 745.9,1256.5 750.7,1257.7 754.9,1261.3 754.9,1273.3 759.1,1276.9 771.0,1277.5 771.0,1281.1 791.4,1281.7 791.4,1284.7 766.9,1285.3 762.7,1288.9 762.7,1293.1 750.7,1293.1 750.7,1290.1 731.5,1288.9 721.9,1284.1 709.9,1280.5 706.3,1276.9 702.7,1272.1 697.9,1268.5 697.9,1260.1 694.4,1253.0 690.2,1251.8"/><polygon points="812.1,1252.5 840.3,1252.5 840.3,1260.3 827.8,1260.3 827.8,1264.5 812.1,1264.5 812.1,1260.3 808.0,1260.3 808.0,1256.7 812.1,1256.7"/><polygon points="999.2,1273.3 1006.6,1273.3 1006.6,1276.5 1013.0,1279.5 1013.0,1281.5 1019.3,1281.5 1019.3,1284.9 1011.9,1284.9 1011.9,1281.8 999.2,1280.9"/></g>
</g>
<g id="axc">
<line x1="1323.0" y1="40.5" x2="1323.0" y2="613.0" stroke="#000" stroke-width="4"/>
<line x1="1300.0" y1="66.7" x2="1341.0" y2="66.7" stroke="#d3d3d3" stroke-width="4"/>
<line x1="1300.0" y1="229.3" x2="1341.0" y2="229.3" stroke="#d3d3d3" stroke-width="4"/>
<line x1="1300.0" y1="392.0" x2="1341.0" y2="392.0" stroke="#d3d3d3" stroke-width="4"/>
<line x1="1300.0" y1="554.8" x2="1341.0" y2="554.8" stroke="#d3d3d3" stroke-width="4"/>
<line x1="1300.0" y1="148.0" x2="1341.0" y2="148.0" stroke="#000" stroke-width="4"/>
<text transform="translate(1299.5,166.0) scale(0.975,1)" font-size="56.5" text-anchor="end">0°</text>
<line x1="1300.0" y1="310.7" x2="1341.0" y2="310.7" stroke="#000" stroke-width="4"/>
<text transform="translate(1299.5,332.7) scale(0.975,1)" font-size="56.5" text-anchor="end">20°S</text>
<line x1="1300.0" y1="473.4" x2="1341.0" y2="473.4" stroke="#000" stroke-width="4"/>
<text transform="translate(1299.5,494.9) scale(0.975,1)" font-size="56.5" text-anchor="end">40°S</text>
<line x1="1349.0" y1="644.0" x2="1842.0" y2="644.0" stroke="#000" stroke-width="4"/>
<line x1="1355.7" y1="626.0" x2="1355.7" y2="658.0" stroke="#d3d3d3" stroke-width="4"/>
<line x1="1518.3" y1="626.0" x2="1518.3" y2="658.0" stroke="#d3d3d3" stroke-width="4"/>
<line x1="1681.0" y1="626.0" x2="1681.0" y2="658.0" stroke="#d3d3d3" stroke-width="4"/>
<line x1="1437.0" y1="626.0" x2="1437.0" y2="658.0" stroke="#000" stroke-width="4"/>
<text transform="translate(1435.0,702.6) scale(0.965,1)" font-size="56.5" text-anchor="middle">80°W</text>
<line x1="1599.7" y1="626.0" x2="1599.7" y2="658.0" stroke="#000" stroke-width="4"/>
<text transform="translate(1597.7,702.6) scale(0.965,1)" font-size="56.5" text-anchor="middle">60°W</text>
<line x1="1762.4" y1="626.0" x2="1762.4" y2="658.0" stroke="#000" stroke-width="4"/>
<text transform="translate(1760.4,702.6) scale(0.965,1)" font-size="56.5" text-anchor="middle">40°W</text>
</g>
<clipPath id="clipc"><rect x="1353.0" y="40.0" width="489.0" height="575.0"/></clipPath>
<g clip-path="url(#clipc)">
<polygon points="1385.2,40.1 1418.4,40.1 1432.9,62.9 1428.7,75.4 1412.2,83.6 1391.4,75.4 1379.0,56.7" fill="#FF00FF" stroke="#FF00FF" stroke-width="12" stroke-linejoin="round"/>
<circle cx="1516.0" cy="70.0" r="17.0" fill="#00A8FF"/>
<circle cx="1512.0" cy="68.0" r="16.0" fill="#6000FF"/>
<circle cx="1500.0" cy="71.0" r="17.0" fill="#0000FF"/>
<circle cx="1456.0" cy="112.0" r="16.0" fill="#FF0000"/>
<circle cx="1470.0" cy="130.0" r="22.0" fill="#FF6000"/>
<circle cx="1488.0" cy="92.0" r="19.0" fill="#FF00FF"/>
<circle cx="1506.0" cy="112.0" r="19.0" fill="#FF00FF"/>
<circle cx="1508.0" cy="138.0" r="17.0" fill="#FF00FF"/>
<circle cx="1460.0" cy="146.0" r="16.0" fill="#FFA500"/>
<circle cx="1538.0" cy="158.0" r="19.0" fill="#FF00FF"/>
<circle cx="1534.0" cy="178.0" r="18.0" fill="#FF00FF"/>
<circle cx="1556.0" cy="162.0" r="20.0" fill="#FF00B0"/>
<circle cx="1556.0" cy="182.0" r="19.0" fill="#FF00B0"/>
<circle cx="1610.7" cy="77.4" r="18.6" fill="#0050FF"/>
<circle cx="1627.0" cy="86.0" r="10.0" fill="#0000FF"/>
<circle cx="1638.0" cy="88.0" r="10.0" fill="#80FF00"/>
<circle cx="1610.0" cy="113.0" r="17.0" fill="#00FF00"/>
<circle cx="1631.0" cy="113.0" r="14.0" fill="#00FF00"/>
<circle cx="1667.0" cy="104.0" r="19.0" fill="#C000FF"/>
<circle cx="1652.0" cy="114.0" r="10.0" fill="#FF00FF"/>
<circle cx="1636.0" cy="168.6" r="18.0" fill="#6000FF"/>
<circle cx="1669.0" cy="179.0" r="18.0" fill="#0000FF"/>
<circle cx="1706.0" cy="185.0" r="20.0" fill="#FF00FF"/>
<circle cx="1735.0" cy="193.0" r="20.0" fill="#FF00FF"/>
<circle cx="1704.0" cy="218.0" r="20.0" fill="#0050FF"/>
<circle cx="1770.0" cy="158.0" r="13.0" fill="#00FFFF"/>
<circle cx="1757.0" cy="162.0" r="17.0" fill="#00A8FF"/>
<circle cx="1758.0" cy="187.0" r="20.0" fill="#0050FF"/>
<circle cx="1781.0" cy="173.0" r="18.0" fill="#C000FF"/>
<circle cx="1807.5" cy="185.0" r="18.0" fill="#FF0000"/>
<circle cx="1728.0" cy="202.0" r="14.0" fill="#FF00FF"/>
<circle cx="1736.0" cy="216.0" r="16.0" fill="#0050FF"/>
<circle cx="1762.0" cy="216.0" r="18.0" fill="#0050FF"/>
<circle cx="1803.0" cy="216.0" r="18.0" fill="#FF00B0"/>
<circle cx="1793.0" cy="233.0" r="16.0" fill="#FF00FF"/>
<circle cx="1789.0" cy="239.0" r="16.0" fill="#C000FF"/>
<circle cx="1772.0" cy="256.0" r="19.0" fill="#0000FF"/>
<circle cx="1831.4" cy="177.0" r="14.0" fill="#00FF20"/>
<polygon points="1538.7,342.9 1542.2,332.0 1560.0,336.0 1595.0,334.0 1633.8,325.0 1651.5,330.5 1677.9,321.7 1700.8,320.0 1730.7,325.2 1739.6,339.3 1730.7,353.4 1711.4,364.0 1693.7,381.6 1690.2,404.5 1674.4,423.9 1651.5,448.6 1630.3,469.7 1598.6,487.4 1581.0,499.7 1563.3,510.3 1538.7,524.4 1514.0,529.6 1492.9,527.9 1466.4,508.5 1464.7,483.8 1470.0,448.6 1480.5,422.2 1498.1,392.2 1514.0,381.6 1538.7,374.6" fill="#FF00FF" stroke="#FF00FF" stroke-width="8" stroke-linejoin="round"/>
<circle cx="1662.0" cy="390.0" r="24.0" fill="#FF00B0"/>
<circle cx="1655.0" cy="430.0" r="20.0" fill="#FF00B0"/>
<circle cx="1640.0" cy="452.0" r="15.0" fill="#FF00B0"/>
<circle cx="1568.0" cy="418.0" r="24.0" fill="#FF00B0"/>
<circle cx="1585.0" cy="447.0" r="17.0" fill="#FF00B0"/>
<circle cx="1488.0" cy="420.0" r="15.0" fill="#FF00B0"/>
<circle cx="1482.0" cy="452.0" r="15.0" fill="#FF00B0"/>
<circle cx="1479.0" cy="482.0" r="15.0" fill="#FF00B0"/>
<circle cx="1486.0" cy="506.0" r="15.0" fill="#FF00B0"/>
<circle cx="1560.0" cy="355.0" r="20.0" fill="#C000FF"/>
<circle cx="1580.0" cy="368.0" r="17.0" fill="#C000FF"/>
<circle cx="1552.0" cy="372.0" r="14.0" fill="#C000FF"/>
<circle cx="1525.0" cy="486.0" r="17.0" fill="#FF0050"/>
<circle cx="1541.0" cy="497.0" r="15.0" fill="#FF0050"/>
<circle cx="1678.0" cy="392.0" r="11.0" fill="#FF0050"/>
<circle cx="1633.0" cy="337.0" r="13.0" fill="#6000FF"/>
<circle cx="1692.0" cy="345.0" r="17.0" fill="#6000FF"/>
<circle cx="1700.0" cy="362.0" r="11.0" fill="#6000FF"/>
<circle cx="1590.0" cy="481.0" r="13.0" fill="#6000FF"/>
<circle cx="1533.0" cy="431.0" r="6.0" fill="#6000FF"/>
<circle cx="1717.0" cy="338.0" r="14.0" fill="#00FFB0"/>
<circle cx="1728.0" cy="345.0" r="11.0" fill="#00FFFF"/>
<circle cx="1551.0" cy="322.0" r="15.0" fill="#0050FF"/>
<circle cx="1578.0" cy="320.0" r="15.0" fill="#FF0000"/>
<circle cx="1446.0" cy="421.0" r="15.0" fill="#FF0050"/>
<circle cx="1632.0" cy="502.0" r="15.0" fill="#FF00FF"/>
<circle cx="1466.0" cy="556.0" r="12.0" fill="#80FF00"/>
<circle cx="1467.0" cy="580.0" r="14.0" fill="#80FF00"/>
<circle cx="1490.0" cy="592.0" r="12.0" fill="#FF0050"/>
<g fill="none" stroke="#000" stroke-width="4" stroke-linejoin="round" stroke-linecap="round">
<polygon points="1458.0,74.5 1463.4,72.5 1469.3,59.7 1477.2,54.7 1489.1,49.8 1497.9,45.9 1501.9,40.5 1506.8,46.9 1513.7,40.5 1527.5,45.9 1526.6,53.8 1531.5,56.7 1548.3,57.7 1550.2,62.6 1554.2,54.7 1556.2,61.7 1564.1,61.7 1564.1,54.7 1568.0,55.7 1573.9,58.7 1591.7,53.8 1590.0,62.0 1587.8,67.8 1594.0,75.5 1604.8,79.4 1611.0,85.6 1618.8,92.6 1620.3,98.0 1654.4,98.8 1657.5,101.9 1671.5,114.3 1679.2,129.8 1682.3,145.3 1676.9,147.6 1667.6,147.6 1657.5,156.9 1657.5,160.8 1675.3,160.8 1695.5,160.8 1711.8,151.5 1718.0,156.9 1727.3,160.0 1735.0,166.5 1766.1,168.6 1784.7,185.2 1801.3,189.3 1803.4,197.6 1804.7,205.8 1803.9,213.1 1801.4,221.2 1795.8,227.7 1790.9,233.4 1786.0,238.3 1781.1,245.6 1775.4,252.9 1771.3,258.6 1770.5,266.8 1770.5,278.2 1768.9,291.2 1764.8,302.6 1760.8,312.3 1755.1,321.3 1754.3,327.0 1746.9,334.3 1737.2,334.3 1727.4,335.1 1721.7,338.4 1710.3,343.2 1703.0,348.9 1694.9,355.4 1693.3,362.0 1692.4,369.3 1690.8,379.8 1682.7,387.2 1678.6,395.3 1673.7,402.6 1665.6,409.1 1659.9,416.5 1653.4,422.1 1649.3,427.8 1641.2,432.3 1630.6,431.9 1622.5,428.7 1616.0,426.2 1612.7,423.8 1612.7,428.7 1619.2,435.2 1623.3,439.2 1626.5,444.1 1623.3,452.2 1619.2,457.9 1609.5,462.0 1598.1,464.5 1586.7,465.3 1581.0,463.6 1582.6,469.3 1581.0,477.5 1576.1,482.3 1564.7,480.7 1559.0,479.9 1558.2,486.4 1562.3,491.3 1569.6,490.5 1568.8,496.2 1562.3,497.0 1559.0,500.2 1556.6,508.4 1554.1,514.1 1544.4,514.9 1538.7,519.8 1537.9,525.5 1544.4,530.3 1552.5,534.4 1550.9,540.1 1541.1,546.6 1537.1,553.9 1528.9,557.2 1525.7,561.3 1524.9,567.8 1531.4,573.5 1522.4,573.5 1511.8,576.7 1510.2,585.7 1502.1,584.0 1493.9,581.6 1485.8,574.3 1479.3,565.3 1475.2,554.8 1473.6,543.4 1474.4,533.6 1480.9,527.9 1473.6,524.7 1480.9,519.0 1485.8,512.4 1489.9,505.9 1493.9,501.9 1487.4,501.1 1484.2,491.3 1487.4,486.4 1487.4,478.3 1490.7,471.8 1492.3,465.3 1489.1,456.3 1492.3,449.8 1495.6,444.1 1499.6,435.2 1502.9,426.2 1505.3,418.1 1507.0,409.9 1506.1,400.2 1507.8,390.4 1507.0,382.3 1511.0,372.5 1512.7,361.1 1514.3,353.0 1514.3,343.2 1515.1,335.1 1516.7,322.9 1517.5,313.1 1515.7,297.0 1503.3,286.7 1482.6,278.4 1466.0,268.0 1457.7,253.5 1445.3,232.8 1437.0,212.1 1424.6,197.6 1426.7,181.0 1432.9,172.7 1424.6,168.6 1424.6,156.2 1430.8,152.0 1432.9,139.6 1439.1,133.4 1449.4,123.0 1457.7,106.4 1453.6,98.2 1447.4,85.7"/>
<polygon points="1366.0,38.0 1406.0,38.0 1406.0,50.0 1418.0,58.0 1434.0,66.0 1450.0,71.0 1458.0,74.5 1454.5,77.0 1447.4,85.7 1440.0,84.0 1434.0,88.0 1423.0,84.0 1413.0,78.0 1402.6,70.5 1390.0,60.0 1378.0,50.0"/>
<polygon points="1531.4,575.1 1529.7,577.5 1523.2,575.9 1515.9,579.2 1514.3,585.7 1511.0,588.9 1502.1,588.9 1493.9,585.7 1485.8,579.2 1493.9,591.4 1506.1,595.4 1518.3,597.9 1530.6,598.7 1542.8,596.2 1550.9,595.4 1557.4,593.0 1546.8,589.7 1537.9,584.0 1532.2,579.2"/>
<polygon points="1489.9,488.0 1486.6,488.0 1484.2,494.6 1485.8,501.1 1489.9,500.2 1489.1,493.7"/>
<polygon points="1675.3,149.9 1695.5,146.8 1695.5,159.5 1675.3,159.5"/>
<polygon points="1586.0,50.0 1596.0,50.0 1596.0,56.0 1586.0,56.0"/>
<polygon points="1495.0,60.7 1505.8,61.7 1506.8,71.5 1498.9,80.4 1493.0,73.5"/>
<polyline points="1506.0,48.0 1499.6,57.7 1494.8,63.4 1491.5,73.2 1496.4,79.7 1498.8,87.8 1503.7,91.1 1517.5,91.1 1523.2,98.4 1537.9,97.6 1540.3,103.3 1536.2,111.4 1538.7,119.5 1540.3,125.2 1542.8,133.4 1543.6,138.2"/>
<polyline points="1543.6,138.2 1536.2,134.2 1533.0,134.2 1522.4,139.1 1519.2,134.2 1520.0,143.1 1518.3,143.9 1517.5,148.8 1521.6,152.9 1523.2,157.8 1519.2,182.2"/>
<polyline points="1519.2,182.2 1512.7,178.9 1507.0,166.7 1494.8,167.5 1489.1,158.6 1479.3,149.6 1475.2,148.8"/>
<polyline points="1475.2,148.8 1466.3,144.7 1458.2,141.5 1437.0,136.6"/>
<polyline points="1458.0,74.5 1454.0,80.0 1447.4,85.7"/>
<polyline points="1475.2,148.8 1472.8,155.3 1469.5,164.3 1454.9,171.6 1450.0,176.5 1447.6,184.6 1443.5,187.9 1438.6,183.8 1432.0,172.0 1430.0,175.7"/>
<polyline points="1519.2,182.2 1513.5,187.9 1494.8,191.1 1492.3,201.7 1485.8,209.0 1488.3,217.1 1495.6,224.5 1500.5,229.3 1507.0,229.3 1514.3,225.3 1514.3,237.5 1521.6,237.5"/>
<polyline points="1521.6,237.5 1528.9,250.5 1527.3,253.8 1526.5,266.8 1523.2,272.5 1526.5,277.3 1522.4,289.5 1522.4,290.4"/>
<polyline points="1522.4,290.4 1515.1,297.3"/>
<polyline points="1522.4,290.4 1526.5,300.9 1531.4,305.8 1528.1,314.0 1533.0,321.3 1535.4,327.8 1541.1,333.5"/>
<polyline points="1541.1,333.5 1541.1,343.2 1531.4,347.3 1530.6,359.5 1529.7,367.6 1525.7,375.8 1520.0,392.0 1518.3,400.2 1514.3,412.4 1520.0,420.5 1518.3,428.7 1515.1,440.9 1509.4,449.0 1510.2,461.2 1506.1,469.3 1504.5,477.5 1502.9,485.6 1503.7,497.8 1506.1,505.9 1503.7,514.1 1505.3,526.3 1499.6,534.4 1498.0,542.5 1492.3,550.7 1492.3,560.4 1499.6,567.0 1502.1,571.0 1518.3,571.0 1531.4,573.5"/>
<polyline points="1529.7,575.9 1529.7,594.6"/>
<polyline points="1541.1,333.5 1548.4,325.3 1559.0,327.8 1564.7,333.5 1568.0,327.0 1576.9,327.0"/>
<polyline points="1576.9,327.0 1581.0,318.8 1583.4,310.7 1585.9,307.4 1599.7,305.0 1607.0,305.0 1614.3,309.1 1614.7,312.1"/>
<polyline points="1614.7,312.1 1617.6,302.6 1619.2,296.1 1612.7,288.7 1612.7,280.6 1598.1,280.6 1595.6,270.8 1597.3,266.8 1591.6,257.8 1582.6,255.4 1575.3,250.5 1564.7,249.7 1557.4,243.2 1556.6,235.9 1555.8,226.9 1546.0,228.5 1537.1,235.0 1529.7,237.5 1521.6,237.5"/>
<polyline points="1543.6,138.2 1548.4,142.3 1555.0,141.5 1559.0,137.4 1565.5,135.8 1567.2,130.1 1572.0,130.1 1572.0,117.1 1576.9,115.5 1583.4,113.8 1592.4,111.4 1594.0,105.7"/>
<polyline points="1594.0,105.7 1588.3,100.0 1589.9,93.5 1597.3,90.2 1594.8,86.2 1601.3,79.7"/>
<polyline points="1594.0,105.7 1599.7,107.3 1600.5,113.8 1603.0,118.7 1600.5,126.0 1602.1,133.4 1607.8,137.4 1613.5,135.0 1622.5,131.7 1628.2,132.5"/>
<polyline points="1628.2,132.5 1621.7,121.2 1619.2,116.3 1616.0,109.0 1622.5,100.0"/>
<polyline points="1628.2,132.5 1633.1,127.7 1640.4,127.7 1647.7,130.9"/>
<polyline points="1647.7,130.9 1644.4,123.6 1646.9,117.1 1648.5,107.3 1648.5,101.6"/>
<polyline points="1647.7,130.9 1656.6,130.1 1659.9,127.7 1668.0,113.8"/>
<polyline points="1614.7,312.1 1616.8,327.0 1628.2,327.8 1633.9,329.4 1635.5,335.1 1637.1,343.2 1643.6,343.2 1646.1,348.1 1643.6,356.3"/>
<polyline points="1643.6,356.3 1634.7,370.9 1628.2,371.7 1611.1,370.1 1614.3,364.4 1619.2,354.6 1610.3,349.7 1599.7,343.2 1591.6,339.2 1581.0,331.0 1576.9,327.0"/>
<polyline points="1643.6,356.3 1651.0,360.3 1651.0,367.6 1638.7,375.0 1632.2,380.7 1619.2,393.7"/>
<polyline points="1619.2,393.7 1616.0,400.2 1614.3,412.4 1612.7,423.8"/>
<polyline points="1619.2,393.7 1625.7,392.9 1632.2,400.2 1635.5,399.4 1643.6,404.3 1651.0,408.3 1655.0,414.0 1651.8,418.1 1653.4,422.1"/>
<polyline points="1413.4,81.3 1414.2,74.8 1415.8,69.9"/>
<polyline points="1390.6,57.7 1398.8,58.5 1406.9,59.3"/>
<polyline points="1377.6,43.1 1388.2,34.9 1396.3,29.2 1404.5,27.6 1410.2,26.0"/>
</g>
<g fill="#000" stroke="#000" stroke-width="2">
<polygon points="1343.4,150.4 1353.2,151.3 1361.3,154.5 1361.3,152.9 1354.0,149.6 1345.1,147.2"/>
</g>
<polyline points="1369.7,42.1 1386.5,58.9 1402.2,70.4 1413.8,75.7 1423.2,84.1 1434.8,79.9 1449.5,74.6 1460.0,71.5" fill="none" stroke="#000" stroke-width="8" stroke-linejoin="round"/><g fill="#000"><polygon points="1489.0,52.0 1498.0,44.0 1502.0,40.0 1515.0,40.0 1528.0,46.0 1524.0,52.0 1515.0,54.0 1507.0,51.0 1499.0,56.0"/><polygon points="1574.0,58.0 1590.0,53.0 1594.0,56.0 1593.0,68.0 1584.0,66.0 1578.0,62.0"/></g><path fill="#000" fill-rule="evenodd" d="M1480.1 484.0L1496.3 484.0L1503.5 487.6L1507.1 507.9L1507.1 519.9L1503.5 519.9L1503.5 536.7L1496.3 536.7L1496.3 529.5L1484.3 529.5L1484.3 536.7L1468.2 536.7L1468.2 524.7L1475.9 519.9L1475.9 500.7ZM1486.0 493.0L1495.0 493.0L1495.0 526.0L1486.0 526.0Z"/><g fill="#000"><polygon points="1468.2,535.5 1496.3,535.5 1499.9,542.7 1496.3,546.3 1491.5,551.1 1496.3,560.7 1501.1,565.5 1502.3,569.0 1516.7,569.0 1516.7,573.2 1523.9,573.2 1523.9,569.0 1528.7,570.2 1532.9,573.8 1532.9,585.8 1537.1,589.4 1549.0,590.0 1549.0,593.6 1569.4,594.2 1569.4,597.2 1544.9,597.8 1540.7,601.4 1540.7,605.6 1528.7,605.6 1528.7,602.6 1509.5,601.4 1499.9,596.6 1487.9,593.0 1484.3,589.4 1480.7,584.6 1475.9,581.0 1475.9,572.6 1472.4,565.5 1468.2,564.3"/><polygon points="1590.1,565.0 1618.3,565.0 1618.3,572.8 1605.8,572.8 1605.8,577.0 1590.1,577.0 1590.1,572.8 1586.0,572.8 1586.0,569.2 1590.1,569.2"/><polygon points="1777.2,585.8 1784.6,585.8 1784.6,589.0 1791.0,592.0 1791.0,594.0 1797.3,594.0 1797.3,597.4 1789.9,597.4 1789.9,594.3 1777.2,593.4"/></g>
</g>
<g id="axd">
<line x1="1323.0" y1="728.0" x2="1323.0" y2="1300.5" stroke="#000" stroke-width="4"/>
<line x1="1300.0" y1="754.1" x2="1341.0" y2="754.1" stroke="#d3d3d3" stroke-width="4"/>
<line x1="1300.0" y1="916.9" x2="1341.0" y2="916.9" stroke="#d3d3d3" stroke-width="4"/>
<line x1="1300.0" y1="1079.5" x2="1341.0" y2="1079.5" stroke="#d3d3d3" stroke-width="4"/>
<line x1="1300.0" y1="1242.2" x2="1341.0" y2="1242.2" stroke="#d3d3d3" stroke-width="4"/>
<line x1="1300.0" y1="835.5" x2="1341.0" y2="835.5" stroke="#000" stroke-width="4"/>
<text transform="translate(1299.5,853.5) scale(0.975,1)" font-size="56.5" text-anchor="end">0°</text>
<line x1="1300.0" y1="998.2" x2="1341.0" y2="998.2" stroke="#000" stroke-width="4"/>
<text transform="translate(1299.5,1020.2) scale(0.975,1)" font-size="56.5" text-anchor="end">20°S</text>
<line x1="1300.0" y1="1160.9" x2="1341.0" y2="1160.9" stroke="#000" stroke-width="4"/>
<text transform="translate(1299.5,1182.4) scale(0.975,1)" font-size="56.5" text-anchor="end">40°S</text>
<line x1="1349.0" y1="1331.5" x2="1842.0" y2="1331.5" stroke="#000" stroke-width="4"/>
<line x1="1355.7" y1="1313.5" x2="1355.7" y2="1345.5" stroke="#d3d3d3" stroke-width="4"/>
<line x1="1518.3" y1="1313.5" x2="1518.3" y2="1345.5" stroke="#d3d3d3" stroke-width="4"/>
<line x1="1681.0" y1="1313.5" x2="1681.0" y2="1345.5" stroke="#d3d3d3" stroke-width="4"/>
<line x1="1437.0" y1="1313.5" x2="1437.0" y2="1345.5" stroke="#000" stroke-width="4"/>
<text transform="translate(1435.0,1390.1) scale(0.965,1)" font-size="56.5" text-anchor="middle">80°W</text>
<line x1="1599.7" y1="1313.5" x2="1599.7" y2="1345.5" stroke="#000" stroke-width="4"/>
<text transform="translate(1597.7,1390.1) scale(0.965,1)" font-size="56.5" text-anchor="middle">60°W</text>
<line x1="1762.4" y1="1313.5" x2="1762.4" y2="1345.5" stroke="#000" stroke-width="4"/>
<text transform="translate(1760.4,1390.1) scale(0.965,1)" font-size="56.5" text-anchor="middle">40°W</text>
</g>
<clipPath id="clipd"><rect x="1353.0" y="727.5" width="489.0" height="575.0"/></clipPath>
<g clip-path="url(#clipd)">
<polygon points="1453.1,728.8 1621.7,728.8 1628.9,748.1 1640.9,767.3 1643.3,796.2 1650.5,815.5 1648.1,834.7 1621.7,849.2 1616.8,873.3 1600.0,880.5 1580.7,873.3 1578.3,892.5 1580.7,916.6 1573.5,940.7 1556.7,955.1 1508.5,955.1 1494.1,940.7 1494.1,921.4 1513.3,907.0 1489.3,907.0 1465.2,902.1 1441.1,902.1 1412.2,897.3 1407.4,873.3 1412.2,854.0 1419.4,825.1 1436.3,801.0 1445.9,786.6 1455.6,772.1 1453.1,748.1" fill="#FFA500" stroke="#FFA500" stroke-width="12" stroke-linejoin="round"/>
<polygon points="1587.0,1053.4 1607.6,1024.5 1648.8,1020.4 1669.4,1016.3 1694.0,1036.9 1710.5,1061.6 1702.3,1094.5 1669.4,1127.5 1628.2,1160.4 1603.5,1164.5 1582.9,1143.9 1578.8,1094.5" fill="#0050FF" stroke="#0050FF" stroke-width="12" stroke-linejoin="round"/>
<polygon points="1529.4,1020.4 1562.3,1020.4 1570.5,1053.4 1570.5,1082.2 1525.3,1082.2 1525.3,1045.1" fill="#00FFFF" stroke="#00FFFF" stroke-width="12" stroke-linejoin="round"/>
<polygon points="1517.0,1086.3 1570.5,1082.2 1582.9,1115.1 1578.8,1160.4 1558.2,1181.0 1529.4,1176.9 1517.0,1152.2 1504.7,1119.2" fill="#FF0000" stroke="#FF0000" stroke-width="12" stroke-linejoin="round"/>
<polygon points="1587.0,979.2 1611.7,971.0 1632.3,995.7 1636.4,1036.9 1611.7,1053.4 1587.0,1020.4 1582.9,995.7" fill="#FF00B0" stroke="#FF00B0" stroke-width="12" stroke-linejoin="round"/>
<polygon points="1512.9,1197.4 1554.1,1201.6 1566.4,1226.3 1554.1,1251.0 1521.1,1255.1 1492.3,1238.6 1492.3,1214.0" fill="#0050FF" stroke="#0050FF" stroke-width="12" stroke-linejoin="round"/>
<polygon points="1389.4,728.1 1418.4,728.1 1418.4,744.7 1397.6,748.9" fill="#FF00FF" stroke="#FF00FF" stroke-width="12" stroke-linejoin="round"/>
<circle cx="1430.0" cy="738.0" r="12.0" fill="#C000FF"/>
<circle cx="1428.7" cy="753.0" r="16.0" fill="#0050FF"/>
<circle cx="1410.0" cy="767.5" r="14.0" fill="#0000FF"/>
<circle cx="1445.3" cy="777.9" r="13.0" fill="#0000FF"/>
<circle cx="1466.0" cy="767.5" r="12.0" fill="#C000FF"/>
<circle cx="1457.7" cy="748.9" r="8.0" fill="#80FF00"/>
<circle cx="1478.4" cy="734.4" r="16.0" fill="#FFA500"/>
<circle cx="1541.0" cy="740.0" r="14.0" fill="#FFFF00"/>
<circle cx="1570.0" cy="733.0" r="12.0" fill="#FF0000"/>
<circle cx="1577.9" cy="740.6" r="16.0" fill="#FF6000"/>
<circle cx="1557.2" cy="765.4" r="18.0" fill="#FFA500"/>
<circle cx="1567.5" cy="806.9" r="20.0" fill="#FFA500"/>
<circle cx="1571.7" cy="780.0" r="18.0" fill="#FFFF00"/>
<circle cx="1588.2" cy="831.7" r="15.0" fill="#FFFF00"/>
<circle cx="1482.6" cy="769.6" r="18.0" fill="#FFFF00"/>
<circle cx="1503.3" cy="755.0" r="16.0" fill="#FF00B0"/>
<circle cx="1526.0" cy="765.4" r="15.0" fill="#FF0000"/>
<circle cx="1546.8" cy="759.2" r="16.0" fill="#FF6000"/>
<circle cx="1600.4" cy="730.0" r="10.0" fill="#FF6000"/>
<circle cx="1600.4" cy="755.0" r="15.0" fill="#FFFF00"/>
<circle cx="1621.0" cy="796.5" r="20.0" fill="#FFA500"/>
<circle cx="1631.4" cy="827.6" r="18.0" fill="#FFA500"/>
<circle cx="1606.6" cy="858.7" r="16.0" fill="#FF6000"/>
<circle cx="1596.2" cy="852.4" r="12.0" fill="#FF00B0"/>
<circle cx="1453.6" cy="806.9" r="20.0" fill="#FFA500"/>
<circle cx="1449.4" cy="811.0" r="12.0" fill="#FFFF00"/>
<circle cx="1428.7" cy="827.6" r="20.0" fill="#FF6000"/>
<circle cx="1449.4" cy="840.0" r="22.0" fill="#FF6000"/>
<circle cx="1474.3" cy="869.0" r="22.0" fill="#FF6000"/>
<circle cx="1478.4" cy="889.7" r="18.0" fill="#FF6000"/>
<circle cx="1499.2" cy="815.2" r="22.0" fill="#FF00FF"/>
<circle cx="1503.3" cy="831.7" r="18.0" fill="#FF00FF"/>
<circle cx="1484.7" cy="835.9" r="15.0" fill="#FF0050"/>
<circle cx="1528.2" cy="833.8" r="16.0" fill="#FF00B0"/>
<circle cx="1555.1" cy="852.4" r="16.0" fill="#FF00B0"/>
<circle cx="1592.4" cy="856.6" r="17.0" fill="#FF00B0"/>
<circle cx="1422.5" cy="869.0" r="16.0" fill="#00FFFF"/>
<circle cx="1441.2" cy="881.4" r="14.0" fill="#00FFFF"/>
<circle cx="1418.4" cy="885.6" r="14.0" fill="#00A8FF"/>
<circle cx="1526.1" cy="864.9" r="16.0" fill="#0000FF"/>
<circle cx="1555.1" cy="869.0" r="16.0" fill="#FFA500"/>
<circle cx="1495.0" cy="873.0" r="12.0" fill="#FFA500"/>
<circle cx="1538.5" cy="887.7" r="15.0" fill="#FF0000"/>
<circle cx="1567.5" cy="902.2" r="18.0" fill="#FF00FF"/>
<circle cx="1530.2" cy="914.6" r="15.0" fill="#0000FF"/>
<circle cx="1507.4" cy="937.4" r="18.0" fill="#00A8FF"/>
<circle cx="1548.9" cy="941.5" r="16.0" fill="#FFA500"/>
<circle cx="1697.7" cy="848.3" r="14.0" fill="#FF6000"/>
<circle cx="1712.2" cy="931.2" r="17.0" fill="#FF00FF"/>
<circle cx="1737.1" cy="922.9" r="17.0" fill="#0000FF"/>
<circle cx="1775.0" cy="944.0" r="18.0" fill="#FF0050"/>
<circle cx="1768.0" cy="942.0" r="19.0" fill="#FF0000"/>
<circle cx="1772.0" cy="962.0" r="20.0" fill="#FF0000"/>
<circle cx="1770.0" cy="980.0" r="18.0" fill="#FF0000"/>
<circle cx="1602.8" cy="1005.5" r="22.0" fill="#FF00B0"/>
<circle cx="1623.0" cy="1002.4" r="18.0" fill="#FF00B0"/>
<circle cx="1618.3" cy="1039.6" r="15.0" fill="#FF0000"/>
<circle cx="1644.7" cy="1033.4" r="15.0" fill="#C000FF"/>
<circle cx="1664.8" cy="1033.4" r="20.0" fill="#0050FF"/>
<circle cx="1695.8" cy="1067.5" r="22.0" fill="#00FFFF"/>
<circle cx="1680.3" cy="1059.8" r="20.0" fill="#00A8FF"/>
<circle cx="1551.6" cy="1033.4" r="15.0" fill="#00A8FF"/>
<circle cx="1548.5" cy="1059.8" r="20.0" fill="#00FFFF"/>
<circle cx="1599.7" cy="1067.5" r="15.0" fill="#6000FF"/>
<circle cx="1633.8" cy="1067.5" r="15.0" fill="#00A8FF"/>
<circle cx="1641.6" cy="1090.8" r="15.0" fill="#0000FF"/>
<circle cx="1633.8" cy="1098.5" r="18.0" fill="#6000FF"/>
<circle cx="1657.0" cy="1114.0" r="15.0" fill="#C000FF"/>
<circle cx="1626.0" cy="1126.4" r="12.0" fill="#FF00FF"/>
<circle cx="1595.0" cy="1098.5" r="15.0" fill="#00A8FF"/>
<circle cx="1595.0" cy="1129.5" r="18.0" fill="#0050FF"/>
<circle cx="1610.5" cy="1152.8" r="16.0" fill="#0000FF"/>
<circle cx="1536.0" cy="1098.5" r="16.0" fill="#FF0000"/>
<circle cx="1545.4" cy="1117.1" r="15.0" fill="#FFA500"/>
<circle cx="1520.6" cy="1132.6" r="13.0" fill="#FFFF00"/>
<circle cx="1548.5" cy="1137.3" r="18.0" fill="#FF0050"/>
<circle cx="1568.7" cy="1126.4" r="15.0" fill="#FF00B0"/>
<circle cx="1506.7" cy="1121.8" r="10.0" fill="#FF0050"/>
<circle cx="1533.0" cy="1160.5" r="15.0" fill="#FF0000"/>
<circle cx="1551.6" cy="1160.5" r="16.0" fill="#FF6000"/>
<circle cx="1540.8" cy="1176.0" r="14.0" fill="#FFA500"/>
<circle cx="1531.1" cy="1206.3" r="17.0" fill="#0000FF"/>
<circle cx="1551.4" cy="1219.5" r="17.0" fill="#0000FF"/>
<circle cx="1545.5" cy="1243.5" r="14.0" fill="#0050FF"/>
<circle cx="1517.9" cy="1231.5" r="16.0" fill="#00A8FF"/>
<circle cx="1504.7" cy="1243.5" r="16.0" fill="#00FFFF"/>
<circle cx="1493.9" cy="1217.1" r="8.0" fill="#0050FF"/>
<polygon points="1508.5,777.0 1527.8,772.0 1551.8,779.4 1556.7,791.4 1549.4,803.4 1537.4,815.5 1523.0,803.4 1513.3,791.4" fill="#FFFFFF" stroke="#FFFFFF" stroke-width="4" stroke-linejoin="round"/>
<polygon points="1488.0,889.0 1500.0,886.0 1513.0,892.0 1515.0,905.0 1505.0,911.0 1491.0,907.0" fill="#FFFFFF" stroke="#FFFFFF" stroke-width="4" stroke-linejoin="round"/>
<g fill="none" stroke="#000" stroke-width="4" stroke-linejoin="round" stroke-linecap="round">
<polygon points="1458.0,762.0 1463.4,760.0 1469.3,747.2 1477.2,742.2 1489.1,737.3 1497.9,733.4 1501.9,728.0 1506.8,734.4 1513.7,728.0 1527.5,733.4 1526.6,741.3 1531.5,744.2 1548.3,745.2 1550.2,750.1 1554.2,742.2 1556.2,749.2 1564.1,749.2 1564.1,742.2 1568.0,743.2 1573.9,746.2 1591.7,741.3 1590.0,749.5 1587.8,755.3 1594.0,763.0 1604.8,766.9 1611.0,773.1 1618.8,780.1 1620.3,785.5 1654.4,786.3 1657.5,789.4 1671.5,801.8 1679.2,817.3 1682.3,832.8 1676.9,835.1 1667.6,835.1 1657.5,844.4 1657.5,848.3 1675.3,848.3 1695.5,848.3 1711.8,839.0 1718.0,844.4 1727.3,847.5 1735.0,854.0 1766.1,856.1 1784.7,872.7 1801.3,876.8 1803.4,885.1 1804.7,893.3 1803.9,900.6 1801.4,908.7 1795.8,915.2 1790.9,920.9 1786.0,925.8 1781.1,933.1 1775.4,940.4 1771.3,946.1 1770.5,954.3 1770.5,965.7 1768.9,978.7 1764.8,990.1 1760.8,999.8 1755.1,1008.8 1754.3,1014.5 1746.9,1021.8 1737.2,1021.8 1727.4,1022.6 1721.7,1025.9 1710.3,1030.7 1703.0,1036.4 1694.9,1042.9 1693.3,1049.5 1692.4,1056.8 1690.8,1067.3 1682.7,1074.7 1678.6,1082.8 1673.7,1090.1 1665.6,1096.6 1659.9,1104.0 1653.4,1109.6 1649.3,1115.3 1641.2,1119.8 1630.6,1119.4 1622.5,1116.2 1616.0,1113.7 1612.7,1111.3 1612.7,1116.2 1619.2,1122.7 1623.3,1126.7 1626.5,1131.6 1623.3,1139.7 1619.2,1145.4 1609.5,1149.5 1598.1,1152.0 1586.7,1152.8 1581.0,1151.1 1582.6,1156.8 1581.0,1165.0 1576.1,1169.8 1564.7,1168.2 1559.0,1167.4 1558.2,1173.9 1562.3,1178.8 1569.6,1178.0 1568.8,1183.7 1562.3,1184.5 1559.0,1187.7 1556.6,1195.9 1554.1,1201.6 1544.4,1202.4 1538.7,1207.3 1537.9,1213.0 1544.4,1217.8 1552.5,1221.9 1550.9,1227.6 1541.1,1234.1 1537.1,1241.4 1528.9,1244.7 1525.7,1248.8 1524.9,1255.3 1531.4,1261.0 1522.4,1261.0 1511.8,1264.2 1510.2,1273.2 1502.1,1271.5 1493.9,1269.1 1485.8,1261.8 1479.3,1252.8 1475.2,1242.2 1473.6,1230.9 1474.4,1221.1 1480.9,1215.4 1473.6,1212.2 1480.9,1206.5 1485.8,1199.9 1489.9,1193.4 1493.9,1189.4 1487.4,1188.6 1484.2,1178.8 1487.4,1173.9 1487.4,1165.8 1490.7,1159.3 1492.3,1152.8 1489.1,1143.8 1492.3,1137.3 1495.6,1131.6 1499.6,1122.7 1502.9,1113.7 1505.3,1105.6 1507.0,1097.4 1506.1,1087.7 1507.8,1077.9 1507.0,1069.8 1511.0,1060.0 1512.7,1048.6 1514.3,1040.5 1514.3,1030.7 1515.1,1022.6 1516.7,1010.4 1517.5,1000.6 1515.7,984.5 1503.3,974.2 1482.6,965.9 1466.0,955.5 1457.7,941.0 1445.3,920.3 1437.0,899.6 1424.6,885.1 1426.7,868.5 1432.9,860.2 1424.6,856.1 1424.6,843.7 1430.8,839.5 1432.9,827.1 1439.1,820.9 1449.4,810.5 1457.7,793.9 1453.6,785.7 1447.4,773.2"/>
<polygon points="1366.0,725.5 1406.0,725.5 1406.0,737.5 1418.0,745.5 1434.0,753.5 1450.0,758.5 1458.0,762.0 1454.5,764.5 1447.4,773.2 1440.0,771.5 1434.0,775.5 1423.0,771.5 1413.0,765.5 1402.6,758.0 1390.0,747.5 1378.0,737.5"/>
<polygon points="1531.4,1262.6 1529.7,1265.0 1523.2,1263.4 1515.9,1266.7 1514.3,1273.2 1511.0,1276.4 1502.1,1276.4 1493.9,1273.2 1485.8,1266.7 1493.9,1278.9 1506.1,1282.9 1518.3,1285.4 1530.6,1286.2 1542.8,1283.7 1550.9,1282.9 1557.4,1280.5 1546.8,1277.2 1537.9,1271.5 1532.2,1266.7"/>
<polygon points="1489.9,1175.5 1486.6,1175.5 1484.2,1182.1 1485.8,1188.6 1489.9,1187.7 1489.1,1181.2"/>
<polygon points="1675.3,837.4 1695.5,834.3 1695.5,847.0 1675.3,847.0"/>
<polygon points="1586.0,737.5 1596.0,737.5 1596.0,743.5 1586.0,743.5"/>
<polygon points="1495.0,748.2 1505.8,749.2 1506.8,759.0 1498.9,767.9 1493.0,761.0"/>
<polyline points="1506.0,735.5 1499.6,745.2 1494.8,750.9 1491.5,760.7 1496.4,767.2 1498.8,775.3 1503.7,778.6 1517.5,778.6 1523.2,785.9 1537.9,785.1 1540.3,790.8 1536.2,798.9 1538.7,807.0 1540.3,812.7 1542.8,820.9 1543.6,825.7"/>
<polyline points="1543.6,825.7 1536.2,821.7 1533.0,821.7 1522.4,826.6 1519.2,821.7 1520.0,830.6 1518.3,831.4 1517.5,836.3 1521.6,840.4 1523.2,845.3 1519.2,869.7"/>
<polyline points="1519.2,869.7 1512.7,866.4 1507.0,854.2 1494.8,855.0 1489.1,846.1 1479.3,837.1 1475.2,836.3"/>
<polyline points="1475.2,836.3 1466.3,832.2 1458.2,829.0 1437.0,824.1"/>
<polyline points="1458.0,762.0 1454.0,767.5 1447.4,773.2"/>
<polyline points="1475.2,836.3 1472.8,842.8 1469.5,851.8 1454.9,859.1 1450.0,864.0 1447.6,872.1 1443.5,875.4 1438.6,871.3 1432.0,859.5 1430.0,863.2"/>
<polyline points="1519.2,869.7 1513.5,875.4 1494.8,878.6 1492.3,889.2 1485.8,896.5 1488.3,904.6 1495.6,912.0 1500.5,916.9 1507.0,916.9 1514.3,912.8 1514.3,925.0 1521.6,925.0"/>
<polyline points="1521.6,925.0 1528.9,938.0 1527.3,941.3 1526.5,954.3 1523.2,960.0 1526.5,964.8 1522.4,977.0 1522.4,977.9"/>
<polyline points="1522.4,977.9 1515.1,984.8"/>
<polyline points="1522.4,977.9 1526.5,988.4 1531.4,993.3 1528.1,1001.5 1533.0,1008.8 1535.4,1015.3 1541.1,1021.0"/>
<polyline points="1541.1,1021.0 1541.1,1030.7 1531.4,1034.8 1530.6,1047.0 1529.7,1055.1 1525.7,1063.3 1520.0,1079.5 1518.3,1087.7 1514.3,1099.9 1520.0,1108.0 1518.3,1116.2 1515.1,1128.4 1509.4,1136.5 1510.2,1148.7 1506.1,1156.8 1504.5,1165.0 1502.9,1173.1 1503.7,1185.3 1506.1,1193.4 1503.7,1201.6 1505.3,1213.8 1499.6,1221.9 1498.0,1230.0 1492.3,1238.2 1492.3,1247.9 1499.6,1254.5 1502.1,1258.5 1518.3,1258.5 1531.4,1261.0"/>
<polyline points="1529.7,1263.4 1529.7,1282.1"/>
<polyline points="1541.1,1021.0 1548.4,1012.8 1559.0,1015.3 1564.7,1021.0 1568.0,1014.5 1576.9,1014.5"/>
<polyline points="1576.9,1014.5 1581.0,1006.3 1583.4,998.2 1585.9,994.9 1599.7,992.5 1607.0,992.5 1614.3,996.6 1614.7,999.6"/>
<polyline points="1614.7,999.6 1617.6,990.1 1619.2,983.6 1612.7,976.2 1612.7,968.1 1598.1,968.1 1595.6,958.3 1597.3,954.3 1591.6,945.3 1582.6,942.9 1575.3,938.0 1564.7,937.2 1557.4,930.7 1556.6,923.4 1555.8,914.4 1546.0,916.0 1537.1,922.5 1529.7,925.0 1521.6,925.0"/>
<polyline points="1543.6,825.7 1548.4,829.8 1555.0,829.0 1559.0,824.9 1565.5,823.3 1567.2,817.6 1572.0,817.6 1572.0,804.6 1576.9,803.0 1583.4,801.3 1592.4,798.9 1594.0,793.2"/>
<polyline points="1594.0,793.2 1588.3,787.5 1589.9,781.0 1597.3,777.7 1594.8,773.7 1601.3,767.2"/>
<polyline points="1594.0,793.2 1599.7,794.8 1600.5,801.3 1603.0,806.2 1600.5,813.5 1602.1,820.9 1607.8,824.9 1613.5,822.5 1622.5,819.2 1628.2,820.0"/>
<polyline points="1628.2,820.0 1621.7,808.7 1619.2,803.8 1616.0,796.5 1622.5,787.5"/>
<polyline points="1628.2,820.0 1633.1,815.2 1640.4,815.2 1647.7,818.4"/>
<polyline points="1647.7,818.4 1644.4,811.1 1646.9,804.6 1648.5,794.8 1648.5,789.1"/>
<polyline points="1647.7,818.4 1656.6,817.6 1659.9,815.2 1668.0,801.3"/>
<polyline points="1614.7,999.6 1616.8,1014.5 1628.2,1015.3 1633.9,1016.9 1635.5,1022.6 1637.1,1030.7 1643.6,1030.7 1646.1,1035.6 1643.6,1043.8"/>
<polyline points="1643.6,1043.8 1634.7,1058.4 1628.2,1059.2 1611.1,1057.6 1614.3,1051.9 1619.2,1042.1 1610.3,1037.2 1599.7,1030.7 1591.6,1026.7 1581.0,1018.5 1576.9,1014.5"/>
<polyline points="1643.6,1043.8 1651.0,1047.8 1651.0,1055.1 1638.7,1062.5 1632.2,1068.2 1619.2,1081.2"/>
<polyline points="1619.2,1081.2 1616.0,1087.7 1614.3,1099.9 1612.7,1111.3"/>
<polyline points="1619.2,1081.2 1625.7,1080.4 1632.2,1087.7 1635.5,1086.9 1643.6,1091.8 1651.0,1095.8 1655.0,1101.5 1651.8,1105.6 1653.4,1109.6"/>
<polyline points="1413.4,768.8 1414.2,762.3 1415.8,757.4"/>
<polyline points="1390.6,745.2 1398.8,746.0 1406.9,746.8"/>
<polyline points="1377.6,730.6 1388.2,722.4 1396.3,716.7 1404.5,715.1 1410.2,713.5"/>
</g>
<g fill="#000" stroke="#000" stroke-width="2">
<polygon points="1343.4,837.9 1353.2,838.8 1361.3,842.0 1361.3,840.4 1354.0,837.1 1345.1,834.7"/>
</g>
<polyline points="1369.7,729.6 1386.5,746.4 1402.2,757.9 1413.8,763.2 1423.2,771.6 1434.8,767.4 1449.5,762.1 1460.0,759.0" fill="none" stroke="#000" stroke-width="8" stroke-linejoin="round"/><g fill="#000"><polygon points="1489.0,739.5 1498.0,731.5 1502.0,727.5 1515.0,727.5 1528.0,733.5 1524.0,739.5 1515.0,741.5 1507.0,738.5 1499.0,743.5"/><polygon points="1574.0,745.5 1590.0,740.5 1594.0,743.5 1593.0,755.5 1584.0,753.5 1578.0,749.5"/></g><path fill="#000" fill-rule="evenodd" d="M1480.1 1171.5L1496.3 1171.5L1503.5 1175.1L1507.1 1195.4L1507.1 1207.4L1503.5 1207.4L1503.5 1224.2L1496.3 1224.2L1496.3 1217.0L1484.3 1217.0L1484.3 1224.2L1468.2 1224.2L1468.2 1212.2L1475.9 1207.4L1475.9 1188.2ZM1486.0 1180.5L1495.0 1180.5L1495.0 1213.5L1486.0 1213.5Z"/><g fill="#000"><polygon points="1468.2,1223.0 1496.3,1223.0 1499.9,1230.2 1496.3,1233.8 1491.5,1238.6 1496.3,1248.2 1501.1,1253.0 1502.3,1256.5 1516.7,1256.5 1516.7,1260.7 1523.9,1260.7 1523.9,1256.5 1528.7,1257.7 1532.9,1261.3 1532.9,1273.3 1537.1,1276.9 1549.0,1277.5 1549.0,1281.1 1569.4,1281.7 1569.4,1284.7 1544.9,1285.3 1540.7,1288.9 1540.7,1293.1 1528.7,1293.1 1528.7,1290.1 1509.5,1288.9 1499.9,1284.1 1487.9,1280.5 1484.3,1276.9 1480.7,1272.1 1475.9,1268.5 1475.9,1260.1 1472.4,1253.0 1468.2,1251.8"/><polygon points="1590.1,1252.5 1618.3,1252.5 1618.3,1260.3 1605.8,1260.3 1605.8,1264.5 1590.1,1264.5 1590.1,1260.3 1586.0,1260.3 1586.0,1256.7 1590.1,1256.7"/><polygon points="1777.2,1273.3 1784.6,1273.3 1784.6,1276.5 1791.0,1279.5 1791.0,1281.5 1797.3,1281.5 1797.3,1284.9 1789.9,1284.9 1789.9,1281.8 1777.2,1280.9"/></g>
</g>
</svg></body></html>
